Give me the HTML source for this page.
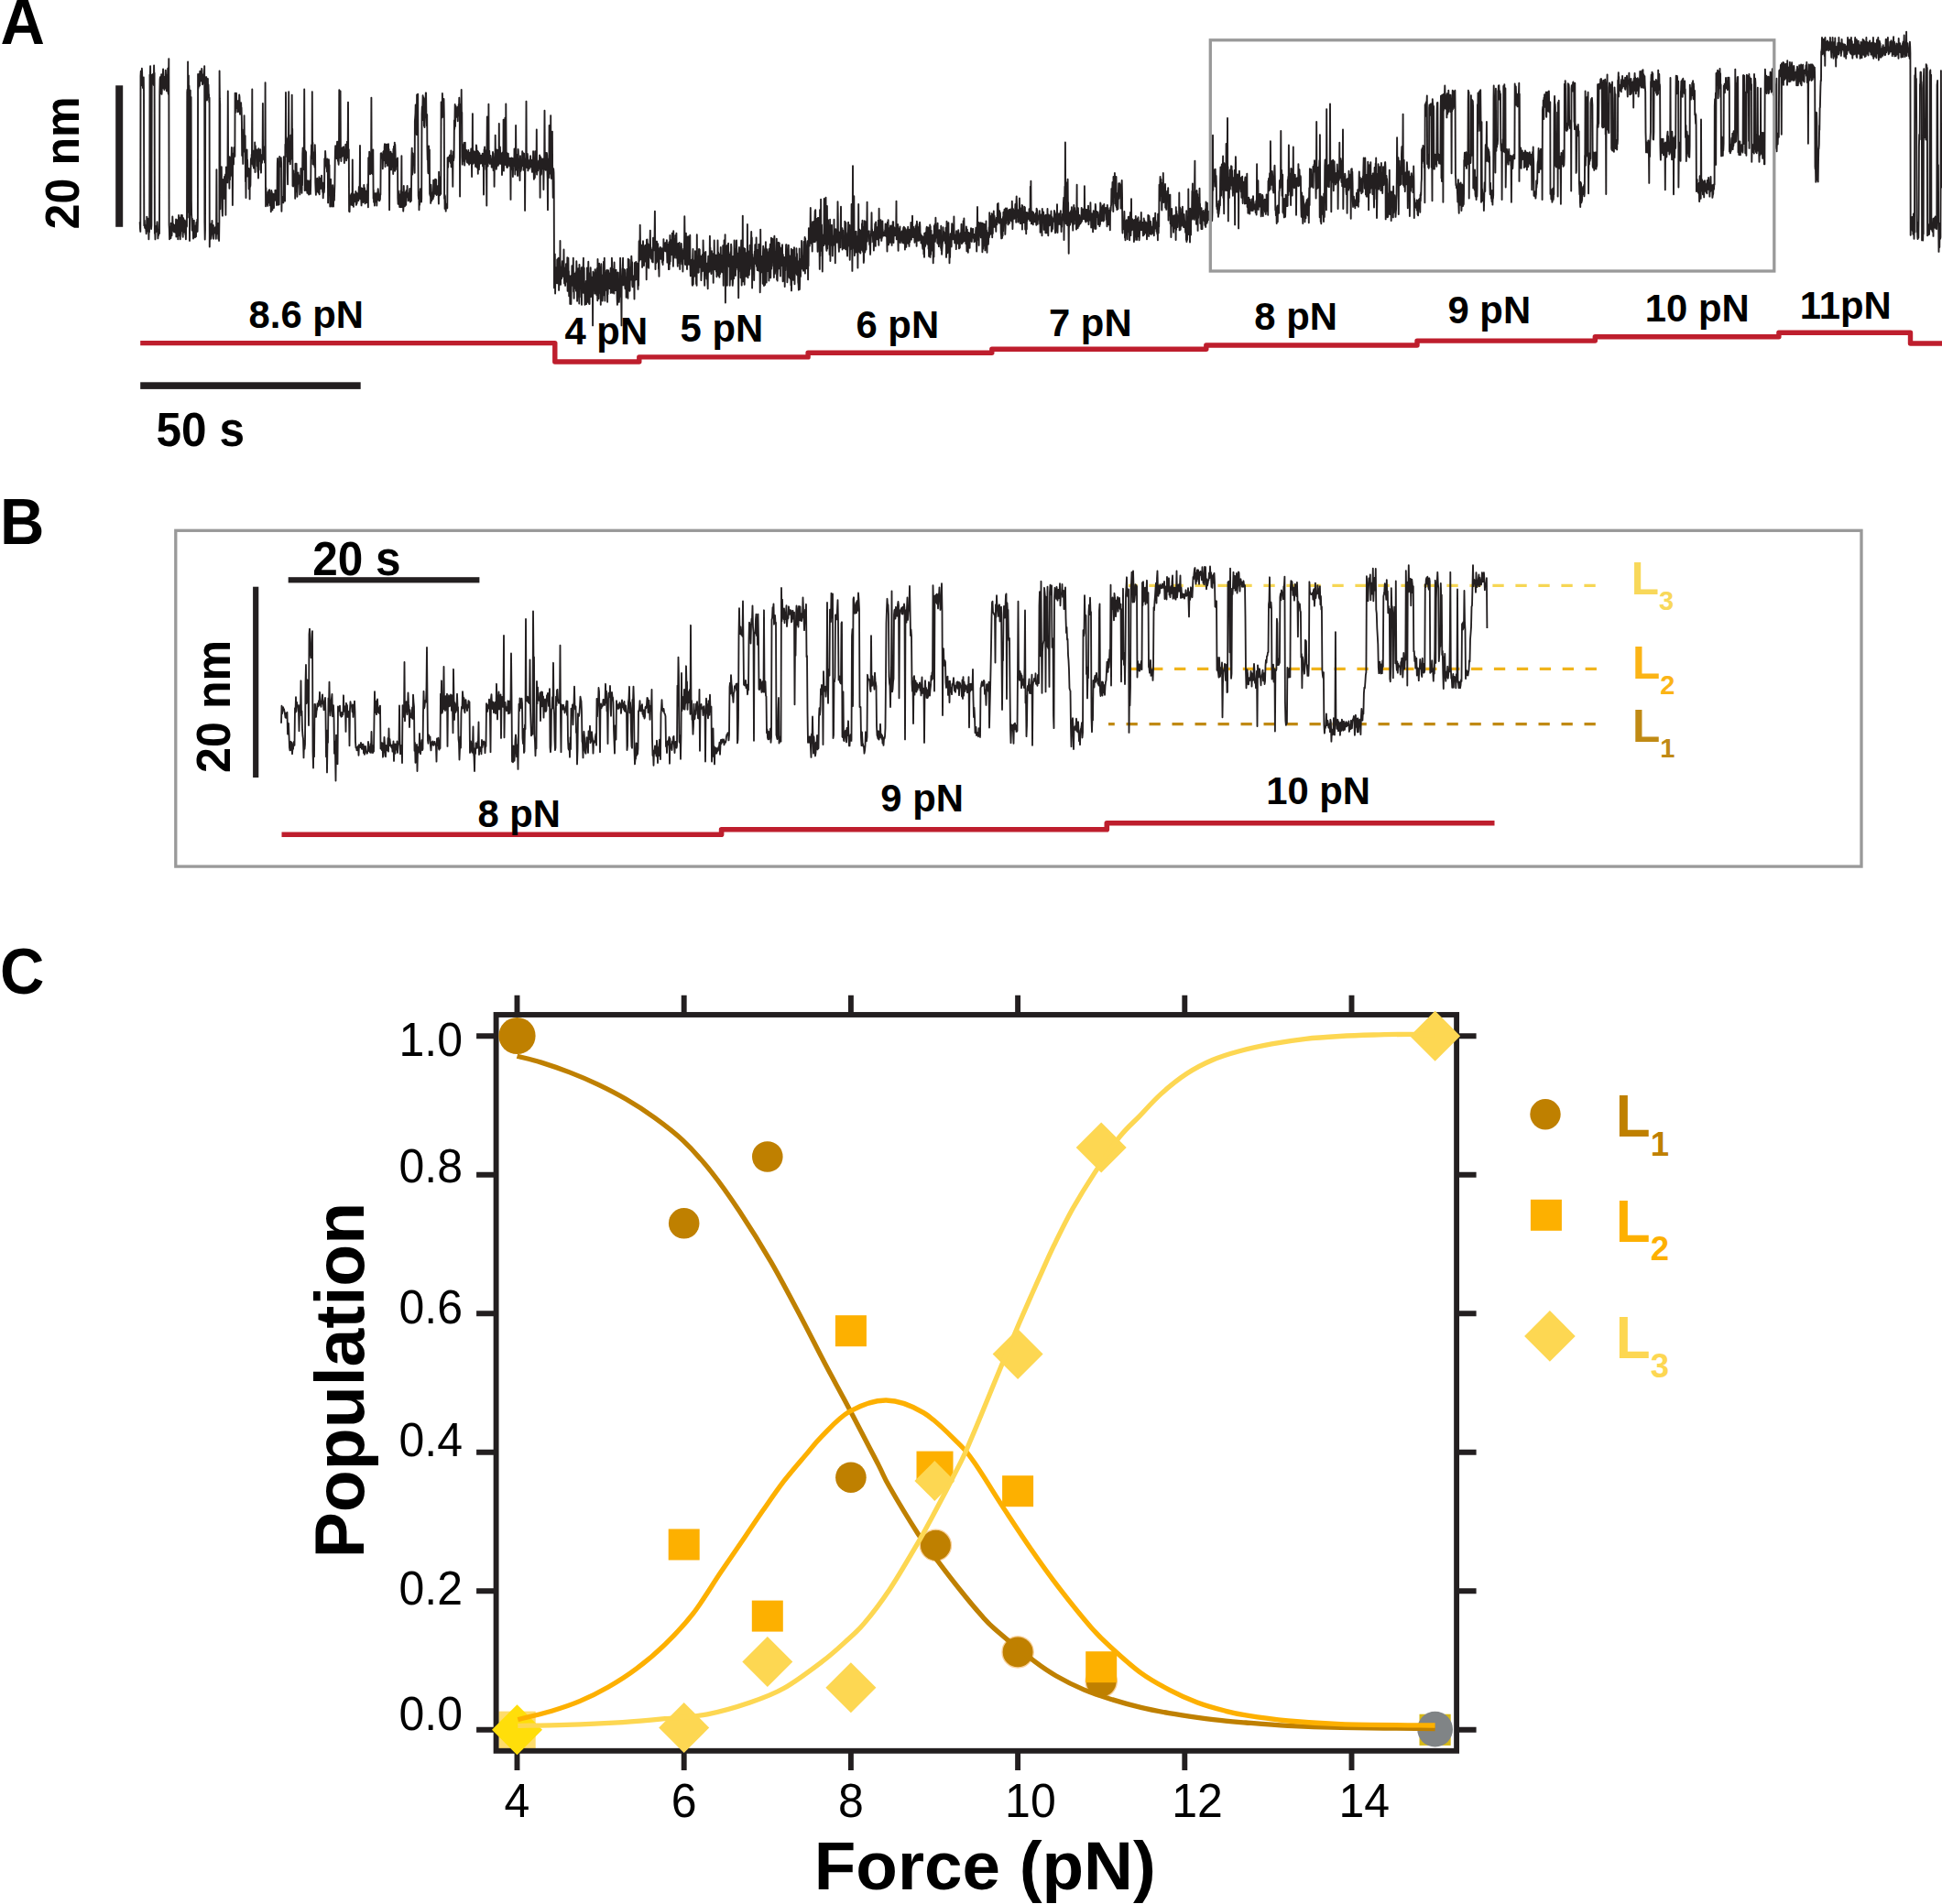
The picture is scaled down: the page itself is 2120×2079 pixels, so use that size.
<!DOCTYPE html>
<html lang="en"><head><meta charset="utf-8"><title>Figure</title>
<style>html,body{margin:0;padding:0;background:#fff}svg{display:block}text{font-family:'Liberation Sans', sans-serif}</style>
</head><body>
<svg width="2120" height="2079" viewBox="0 0 2120 2079">
<rect width="2120" height="2079" fill="#fff"/>
<g id="panelA">
<text transform="translate(0.6 47.6) scale(1 1.040)" font-size="67.0" font-weight="bold" fill="#000" text-anchor="start">A</text>
<rect x="126.2" y="93.3" width="8" height="154.5" fill="#231f20"/>
<text transform="translate(86.2 250.4) rotate(-90) scale(1 1.025)" font-size="50.2" font-weight="bold" fill="#000" text-anchor="start">20 nm</text>
<path d="M152.7 242.2L153.0 250.0L153.3 252.9L153.5 82.9L153.8 77.6L154.1 85.7L154.3 89.2L154.6 93.2L154.9 74.8L155.1 77.8L155.4 90.7L155.7 89.2L156.0 96.0L156.2 92.5L156.5 85.5L156.8 84.4L157.0 99.3L157.3 246.3L157.6 243.1L157.8 240.8L158.1 248.8L158.4 249.1L158.7 245.9L158.9 247.7L159.2 249.9L159.5 252.6L159.7 255.2L160.0 249.5L160.3 236.6L160.5 252.7L160.8 239.0L161.1 247.0L161.4 238.7L161.6 248.2L161.9 243.1L162.2 249.5L162.4 261.3L162.7 247.8L163.0 253.6L163.2 239.6L163.5 81.6L163.8 87.7L164.1 72.1L164.3 85.8L164.6 84.1L164.9 244.9L165.1 250.0L165.4 245.5L165.7 96.8L165.9 81.6L166.2 89.2L166.5 84.8L166.8 90.9L167.0 80.9L167.3 91.2L167.6 84.0L167.8 92.9L168.1 71.4L168.4 85.7L168.6 79.8L168.9 255.0L169.2 252.9L169.5 261.4L169.7 246.8L170.0 253.5L170.3 253.2L170.5 251.5L170.8 251.0L171.1 250.8L171.3 245.2L171.6 242.2L171.9 246.6L172.2 253.8L172.4 260.4L172.7 256.5L173.0 257.1L173.2 255.1L173.5 254.5L173.8 250.8L174.0 255.1L174.3 100.9L174.6 86.6L174.9 84.1L175.1 102.2L175.4 90.5L175.7 95.5L175.9 94.8L176.2 81.1L176.5 102.8L176.7 101.0L177.0 90.0L177.3 94.0L177.5 89.7L177.8 82.8L178.1 75.4L178.4 91.4L178.6 96.4L178.9 93.7L179.2 89.2L179.4 98.1L179.7 83.6L180.0 94.2L180.2 96.4L180.5 86.8L180.8 76.6L181.1 82.6L181.3 90.4L181.6 92.4L181.9 99.4L182.1 82.0L182.4 88.8L182.7 93.3L182.9 87.7L183.2 74.8L183.5 100.9L183.8 102.8L184.0 95.7L184.3 64.1L184.6 245.5L184.8 249.6L185.1 261.3L185.4 252.1L185.6 248.9L185.9 258.2L186.2 247.6L186.5 260.1L186.7 243.7L187.0 245.1L187.3 252.8L187.5 257.3L187.8 252.3L188.1 250.1L188.3 236.4L188.6 243.6L188.9 244.2L189.2 244.7L189.4 251.9L189.7 246.0L190.0 253.2L190.2 248.7L190.5 246.0L190.8 248.9L191.0 250.9L191.3 253.7L191.6 245.1L191.9 246.7L192.1 239.4L192.4 258.5L192.7 257.5L192.9 247.0L193.2 245.1L193.5 240.2L193.7 249.2L194.0 249.5L194.3 261.3L194.6 249.7L194.8 243.1L195.1 235.0L195.4 257.2L195.6 249.4L195.9 237.8L196.2 249.3L196.4 237.8L196.7 261.3L197.0 255.3L197.3 251.8L197.5 247.0L197.8 235.0L198.1 247.3L198.3 238.2L198.6 252.0L198.9 235.0L199.1 242.3L199.4 256.0L199.7 258.7L200.0 240.6L200.2 238.3L200.5 253.8L200.8 253.6L201.0 241.8L201.3 243.7L201.6 243.7L201.8 240.5L202.1 243.8L202.4 256.2L202.6 252.6L202.9 261.3L203.2 247.6L203.5 247.3L203.7 241.8L204.0 247.4L204.3 100.9L204.5 97.9L204.8 237.5L205.1 67.4L205.3 231.9L205.6 117.3L205.9 82.4L206.2 228.0L206.4 93.5L206.7 100.0L207.0 262.9L207.2 220.7L207.5 234.8L207.8 98.8L208.0 234.1L208.3 226.0L208.6 105.9L208.9 218.8L209.1 233.1L209.4 240.2L209.7 251.5L209.9 238.6L210.2 249.4L210.5 252.1L210.7 250.7L211.0 260.5L211.3 249.0L211.6 251.3L211.8 240.6L212.1 258.5L212.4 250.3L212.6 248.7L212.9 259.3L213.2 246.8L213.4 253.3L213.7 252.6L214.0 258.3L214.3 243.0L214.5 242.7L214.8 253.1L215.1 243.7L215.3 239.7L215.6 252.8L215.9 241.1L216.1 81.0L216.4 97.1L216.7 84.6L217.0 94.8L217.2 83.9L217.5 81.4L217.8 80.5L218.0 93.5L218.3 77.7L218.6 82.5L218.8 82.7L219.1 88.5L219.4 86.8L219.7 81.1L219.9 88.2L220.2 74.9L220.5 76.8L220.7 85.8L221.0 92.3L221.3 91.2L221.5 82.2L221.8 81.4L222.1 89.9L222.4 88.2L222.6 88.4L222.9 81.7L223.2 72.1L223.4 242.9L223.7 261.5L224.0 250.5L224.2 99.9L224.5 109.9L224.8 84.2L225.1 94.1L225.3 84.2L225.6 98.1L225.9 105.4L226.1 109.4L226.4 96.7L226.7 93.6L226.9 86.0L227.2 105.9L227.5 92.5L227.8 103.0L228.0 102.9L228.3 111.7L228.6 106.8L228.8 269.6L229.1 247.6L229.4 246.2L229.6 252.7L229.9 246.8L230.2 244.5L230.4 260.7L230.7 258.7L231.0 256.5L231.3 254.1L231.5 240.9L231.8 253.4L232.1 253.3L232.3 249.2L232.6 252.1L232.9 246.0L233.1 260.7L233.4 254.2L233.7 249.3L234.0 250.7L234.2 250.0L234.5 249.5L234.8 250.8L235.0 248.1L235.3 255.0L235.6 249.1L235.8 260.7L236.1 252.7L236.4 185.2L236.7 249.7L236.9 251.4L237.2 243.6L237.5 249.3L237.7 255.5L238.0 248.1L238.3 260.7L238.5 250.8L238.8 243.6L239.1 262.9L239.4 241.6L239.6 77.4L239.9 107.9L240.2 113.7L240.4 228.2L240.7 190.7L241.0 205.3L241.2 206.0L241.5 209.7L241.8 182.2L242.1 208.0L242.3 208.8L242.6 230.2L242.9 235.6L243.1 228.1L243.4 195.9L243.7 196.5L243.9 214.7L244.2 216.2L244.5 198.6L244.8 216.8L245.0 192.9L245.3 201.6L245.6 210.8L245.8 196.1L246.1 190.4L246.4 234.8L246.6 208.2L246.9 182.4L247.2 195.8L247.5 189.7L247.7 195.0L248.0 192.8L248.3 199.4L248.5 183.7L248.8 99.5L249.1 178.8L249.3 180.9L249.6 191.4L249.9 177.1L250.2 186.6L250.4 205.7L250.7 171.2L251.0 196.2L251.2 178.5L251.5 192.8L251.8 190.8L252.0 191.5L252.3 184.6L252.6 174.2L252.9 161.0L253.1 187.9L253.4 182.9L253.7 189.7L253.9 224.0L254.2 179.2L254.5 172.3L254.7 167.4L255.0 179.4L255.3 161.2L255.5 168.4L255.8 166.3L256.1 166.1L256.4 170.9L256.6 101.7L256.9 123.3L257.2 115.6L257.4 118.3L257.7 106.3L258.0 101.8L258.2 111.2L258.5 109.9L258.8 113.3L259.1 116.0L259.3 122.1L259.6 111.3L259.9 112.5L260.1 122.0L260.4 109.7L260.7 111.9L260.9 117.6L261.2 103.5L261.5 106.1L261.8 118.1L262.0 124.8L262.3 115.3L262.6 117.0L262.8 116.9L263.1 112.1L263.4 119.7L263.6 117.6L263.9 132.7L264.2 169.9L264.5 141.4L264.7 155.6L265.0 166.9L265.3 178.9L265.5 165.5L265.8 159.8L266.1 155.8L266.3 162.3L266.6 126.3L266.9 159.0L267.2 165.6L267.4 155.0L267.7 148.3L268.0 198.3L268.2 185.5L268.5 216.0L268.8 174.2L269.0 178.2L269.3 180.2L269.6 163.5L269.9 192.6L270.1 174.5L270.4 185.5L270.7 189.9L270.9 188.8L271.2 192.8L271.5 183.9L271.7 206.3L272.0 184.1L272.3 187.8L272.6 217.4L272.8 188.6L273.1 204.0L273.4 202.0L273.6 186.2L273.9 174.2L274.2 172.6L274.4 178.8L274.7 168.8L275.0 168.6L275.3 97.5L275.5 179.1L275.8 165.1L276.1 177.1L276.3 181.1L276.6 164.8L276.9 183.5L277.1 179.3L277.4 168.8L277.7 173.8L278.0 181.2L278.2 155.4L278.5 188.1L278.8 159.1L279.0 165.3L279.3 168.1L279.6 163.5L279.8 166.4L280.1 171.1L280.4 163.4L280.7 181.3L280.9 180.2L281.2 181.5L281.5 187.9L281.7 175.8L282.0 194.6L282.3 162.3L282.5 168.4L282.8 165.4L283.1 172.8L283.3 172.0L283.6 175.9L283.9 172.7L284.2 163.3L284.4 185.4L284.7 181.4L285.0 188.6L285.2 169.4L285.5 177.2L285.8 172.7L286.0 177.7L286.3 168.7L286.6 172.4L286.9 112.9L287.1 172.0L287.4 173.7L287.7 160.2L287.9 169.5L288.2 171.5L288.5 174.8L288.7 161.3L289.0 177.6L289.3 173.7L289.6 90.2L289.8 171.3L290.1 225.2L290.4 205.1L290.6 217.0L290.9 216.7L291.2 216.5L291.4 217.0L291.7 223.2L292.0 212.5L292.3 224.9L292.5 209.8L292.8 221.8L293.1 219.2L293.3 214.6L293.6 207.6L293.9 220.9L294.1 207.1L294.4 214.1L294.7 224.2L295.0 215.4L295.2 224.0L295.5 214.7L295.8 231.3L296.0 214.7L296.3 207.9L296.6 214.8L296.8 209.7L297.1 221.0L297.4 229.4L297.7 224.5L297.9 214.0L298.2 225.6L298.5 211.7L298.7 218.0L299.0 227.0L299.3 212.8L299.5 217.3L299.8 215.7L300.1 218.7L300.4 207.8L300.6 212.4L300.9 211.9L301.2 216.4L301.4 215.2L301.7 214.5L302.0 224.0L302.2 207.3L302.5 211.7L302.8 178.7L303.1 172.9L303.3 217.2L303.6 217.8L303.9 223.7L304.1 214.9L304.4 218.3L304.7 223.3L304.9 180.8L305.2 171.0L305.5 179.6L305.8 174.0L306.0 181.9L306.3 177.5L306.6 181.1L306.8 172.2L307.1 178.2L307.4 230.7L307.6 217.3L307.9 220.0L308.2 217.5L308.4 215.2L308.7 219.0L309.0 217.1L309.3 221.4L309.5 218.4L309.8 171.1L310.1 173.7L310.3 179.7L310.6 181.2L310.9 171.8L311.1 219.5L311.4 157.7L311.7 171.2L312.0 100.9L312.2 149.5L312.5 149.5L312.8 154.5L313.0 164.0L313.3 156.0L313.6 164.0L313.8 188.5L314.1 201.3L314.4 151.3L314.7 167.9L314.9 164.8L315.2 100.2L315.5 176.4L315.7 159.8L316.0 159.9L316.3 159.3L316.5 162.6L316.8 179.3L317.1 173.2L317.4 147.6L317.6 158.5L317.9 154.2L318.2 173.6L318.4 166.5L318.7 103.6L319.0 163.1L319.2 140.8L319.5 203.0L319.8 200.8L320.1 203.5L320.3 186.1L320.6 199.4L320.9 192.0L321.1 192.0L321.4 202.0L321.7 202.0L321.9 190.0L322.2 216.7L322.5 178.8L322.8 193.1L323.0 209.4L323.3 198.1L323.6 178.8L323.8 190.3L324.1 202.7L324.4 214.7L324.6 209.9L324.9 202.1L325.2 200.5L325.5 188.4L325.7 194.3L326.0 195.4L326.3 191.1L326.5 199.2L326.8 194.8L327.1 201.9L327.3 212.4L327.6 205.8L327.9 202.6L328.2 196.3L328.4 184.0L328.7 197.5L329.0 203.8L329.2 188.9L329.5 210.7L329.8 195.4L330.0 202.2L330.3 168.1L330.6 161.4L330.9 185.3L331.1 162.1L331.4 177.1L331.7 166.5L331.9 172.5L332.2 97.5L332.5 167.5L332.7 208.0L333.0 184.6L333.3 164.4L333.6 170.6L333.8 177.3L334.1 165.9L334.4 208.0L334.6 199.6L334.9 207.4L335.2 206.4L335.4 210.8L335.7 206.0L336.0 197.3L336.2 207.7L336.5 197.8L336.8 208.2L337.1 212.5L337.3 207.3L337.6 200.9L337.9 210.7L338.1 204.9L338.4 197.0L338.7 202.0L338.9 211.9L339.2 202.3L339.5 171.4L339.8 168.0L340.0 158.3L340.3 166.8L340.6 173.1L340.8 100.2L341.1 169.2L341.4 155.7L341.6 179.3L341.9 175.7L342.2 177.9L342.5 179.9L342.7 167.3L343.0 166.1L343.3 172.8L343.5 182.6L343.8 158.3L344.1 168.8L344.3 199.7L344.6 207.3L344.9 212.8L345.2 202.2L345.4 196.5L345.7 204.3L346.0 202.2L346.2 194.7L346.5 209.3L346.8 200.8L347.0 208.1L347.3 196.0L347.6 210.6L347.9 195.3L348.1 210.3L348.4 193.1L348.7 212.3L348.9 201.7L349.2 194.6L349.5 202.5L349.7 206.0L350.0 198.0L350.3 201.0L350.6 205.6L350.8 202.9L351.1 191.6L351.4 201.4L351.6 206.5L351.9 205.8L352.2 210.0L352.4 199.8L352.7 216.3L353.0 208.8L353.3 205.8L353.5 210.5L353.8 209.7L354.1 204.6L354.3 173.2L354.6 183.8L354.9 179.9L355.1 165.0L355.4 170.1L355.7 180.2L356.0 177.9L356.2 179.0L356.5 181.3L356.8 178.1L357.0 187.4L357.3 173.4L357.6 174.6L357.8 179.3L358.1 221.4L358.4 182.2L358.7 186.7L358.9 174.1L359.2 184.7L359.5 180.2L359.7 203.1L360.0 209.7L360.3 225.5L360.5 216.3L360.8 207.3L361.1 195.8L361.3 205.3L361.6 205.6L361.9 211.2L362.2 225.5L362.4 216.1L362.7 212.9L363.0 222.7L363.2 202.1L363.5 209.2L363.8 207.3L364.0 225.5L364.3 207.7L364.6 206.2L364.9 218.8L365.1 211.2L365.4 201.7L365.7 176.1L365.9 165.8L366.2 159.3L366.5 169.9L366.7 171.0L367.0 165.6L367.3 172.3L367.6 173.1L367.8 162.1L368.1 154.6L368.4 154.6L368.6 167.0L368.9 175.7L369.2 174.3L369.4 176.8L369.7 179.7L370.0 167.9L370.3 98.2L370.5 158.0L370.8 172.2L371.1 170.3L371.3 167.2L371.6 99.5L371.9 160.6L372.1 168.7L372.4 176.0L372.7 165.5L373.0 171.2L373.2 163.5L373.5 169.4L373.8 161.3L374.0 170.2L374.3 166.4L374.6 169.8L374.8 163.9L375.1 160.3L375.4 165.7L375.7 174.5L375.9 178.0L376.2 165.7L376.5 173.0L376.7 172.7L377.0 170.3L377.3 157.8L377.5 169.9L377.8 161.6L378.1 175.4L378.4 172.9L378.6 171.8L378.9 154.6L379.2 171.8L379.4 172.3L379.7 159.6L380.0 111.6L380.2 168.3L380.5 166.6L380.8 163.2L381.1 230.7L381.3 215.2L381.6 231.2L381.9 219.3L382.1 219.4L382.4 213.9L382.7 214.1L382.9 214.5L383.2 212.3L383.5 223.6L383.8 216.3L384.0 223.6L384.3 210.6L384.6 224.0L384.8 174.5L385.1 222.3L385.4 217.4L385.6 212.3L385.9 225.8L386.2 215.2L386.5 217.1L386.7 212.3L387.0 219.3L387.3 215.5L387.5 219.8L387.8 220.2L388.1 213.6L388.3 209.0L388.6 220.8L388.9 223.9L389.1 222.5L389.4 210.7L389.7 221.9L390.0 215.6L390.3 215.0L390.5 215.9L390.8 211.1L391.1 214.6L391.4 219.1L391.6 209.9L391.9 203.9L392.2 212.5L392.4 214.4L392.7 201.3L393.0 158.9L393.2 217.0L393.5 212.2L393.8 213.8L394.1 205.1L394.3 219.0L394.6 224.4L394.9 211.9L395.1 208.5L395.4 205.7L395.7 218.9L395.9 213.8L396.2 208.1L396.5 221.0L396.8 218.1L397.0 217.0L397.3 201.9L397.6 212.5L397.8 217.2L398.1 205.3L398.4 219.1L398.6 222.4L398.9 219.8L399.2 208.5L399.5 208.6L399.7 219.2L400.0 219.6L400.3 221.1L400.5 220.9L400.8 212.5L401.1 210.5L401.3 201.2L401.6 218.2L401.9 226.3L402.2 172.3L402.4 172.2L402.7 180.4L403.0 178.4L403.2 165.8L403.5 170.5L403.8 167.7L404.0 190.3L404.3 170.5L404.6 181.9L404.9 189.5L405.1 189.4L405.4 106.7L405.7 187.5L405.9 166.8L406.2 173.2L406.5 170.4L406.7 173.6L407.0 190.5L407.3 163.5L407.6 216.8L407.8 207.4L408.1 220.8L408.4 220.6L408.6 211.2L408.9 224.5L409.2 214.2L409.4 220.6L409.7 215.5L410.0 210.9L410.3 211.9L410.5 213.2L410.8 217.1L411.1 214.5L411.3 224.5L411.6 212.8L411.9 211.4L412.1 210.1L412.4 209.8L412.7 206.3L413.0 208.7L413.2 218.6L413.5 214.2L413.8 212.9L414.0 215.7L414.3 219.4L414.6 217.1L414.9 217.9L415.1 210.9L415.4 212.5L415.7 167.4L415.9 172.9L416.2 167.1L416.5 170.7L416.7 172.3L417.0 171.9L417.3 171.5L417.6 169.7L417.8 184.2L418.1 170.9L418.4 165.6L418.6 175.2L418.9 164.9L419.2 165.1L419.4 174.4L419.7 160.3L420.0 157.2L420.3 176.0L420.5 182.0L420.8 160.3L421.1 166.5L421.3 178.3L421.6 157.7L421.9 166.7L422.1 164.0L422.4 172.1L422.7 157.8L423.0 180.9L423.2 172.5L423.5 176.1L423.8 171.0L424.0 157.2L424.3 172.5L424.6 162.9L424.8 173.8L425.1 229.2L425.4 171.1L425.7 172.0L425.9 179.9L426.2 179.8L426.5 165.6L426.7 173.5L427.0 185.4L427.3 177.6L427.5 167.8L427.8 172.7L428.1 170.9L428.4 181.2L428.6 173.9L428.9 176.7L429.2 190.1L429.4 162.6L429.7 165.5L430.0 159.8L430.2 160.9L430.5 180.6L430.8 155.6L431.1 186.8L431.3 157.8L431.6 166.6L431.9 185.3L432.1 181.9L432.4 180.8L432.7 180.7L432.9 173.9L433.2 173.6L433.5 173.9L433.8 180.4L434.0 172.4L434.3 216.3L434.6 222.7L434.8 208.2L435.1 210.3L435.4 217.7L435.7 213.0L435.9 213.6L436.2 226.0L436.5 216.8L436.7 212.2L437.0 220.7L437.3 226.0L437.5 208.3L437.8 210.7L438.1 215.2L438.4 170.3L438.6 226.0L438.9 217.5L439.2 212.3L439.4 217.3L439.7 210.0L440.0 211.1L440.2 230.6L440.5 226.0L440.8 203.0L441.1 216.9L441.3 222.1L441.6 218.7L441.9 225.3L442.1 217.0L442.4 215.3L442.7 213.8L442.9 209.7L443.2 223.7L443.5 207.9L443.8 213.8L444.0 211.6L444.3 210.1L444.6 203.0L444.8 212.4L445.1 215.3L445.4 215.3L445.6 219.3L445.9 213.6L446.2 210.9L446.5 216.2L446.7 218.3L447.0 209.4L447.3 206.0L447.5 208.7L447.8 220.5L448.1 220.1L448.3 209.5L448.6 215.1L448.9 219.2L449.2 185.3L449.4 170.9L449.7 161.6L450.0 185.9L450.2 190.5L450.5 186.7L450.8 167.4L451.0 178.9L451.3 173.5L451.6 175.3L451.9 170.9L452.1 172.2L452.4 175.6L452.7 188.7L452.9 131.9L453.2 128.6L453.5 123.8L453.7 114.4L454.0 120.7L454.3 138.4L454.6 133.5L454.8 147.1L455.1 103.4L455.4 123.2L455.6 104.0L455.9 128.3L456.2 102.7L456.4 141.8L456.7 213.6L457.0 217.2L457.3 209.6L457.5 229.2L457.8 212.0L458.1 223.6L458.3 218.6L458.6 210.6L458.9 206.3L459.2 216.8L459.4 214.5L459.7 210.9L460.0 220.5L460.2 216.1L460.5 124.8L460.8 116.4L461.0 116.6L461.3 117.9L461.6 104.2L461.9 131.1L462.1 128.3L462.4 106.1L462.7 124.7L462.9 137.4L463.2 126.3L463.5 139.1L463.7 120.2L464.0 123.5L464.3 107.8L464.6 112.6L464.8 101.5L465.1 101.4L465.4 126.4L465.6 129.7L465.9 137.5L466.2 125.0L466.4 160.8L466.7 174.5L467.0 168.9L467.3 187.5L467.5 189.2L467.8 179.6L468.1 159.4L468.3 165.3L468.6 172.2L468.9 163.5L469.1 211.6L469.4 212.8L469.7 213.9L470.0 209.5L470.2 221.9L470.5 201.7L470.8 206.9L471.0 217.4L471.3 219.2L471.6 214.9L471.8 210.4L472.1 212.7L472.4 213.8L472.7 217.2L472.9 214.0L473.2 196.7L473.5 214.7L473.7 210.6L474.0 204.5L474.3 211.6L474.5 209.9L474.8 207.4L475.1 195.6L475.4 208.6L475.6 211.8L475.9 207.5L476.2 196.3L476.4 211.1L476.7 213.0L477.0 209.1L477.2 210.9L477.5 205.3L477.8 203.1L478.1 211.6L478.3 205.3L478.6 209.1L478.9 222.6L479.1 187.7L479.4 208.8L479.7 196.1L479.9 208.5L480.2 213.3L480.5 202.7L480.8 206.1L481.0 193.0L481.3 211.8L481.6 111.5L481.8 122.8L482.1 128.8L482.4 115.3L482.7 125.5L482.9 102.0L483.2 115.0L483.5 114.3L483.7 109.3L484.0 128.1L484.3 124.6L484.5 107.9L484.8 124.2L485.1 217.1L485.4 212.7L485.6 227.9L485.9 214.0L486.2 227.9L486.4 222.3L486.7 230.6L487.0 224.1L487.2 227.7L487.5 223.2L487.8 224.5L488.1 222.6L488.3 227.4L488.6 172.1L488.9 180.1L489.1 182.8L489.4 174.0L489.7 176.8L489.9 171.5L490.2 172.7L490.5 175.8L490.8 172.4L491.0 169.4L491.3 174.2L491.6 175.4L491.8 176.2L492.1 178.3L492.4 164.4L492.6 182.3L492.9 173.4L493.2 170.0L493.5 172.3L493.7 176.8L494.0 179.2L494.3 203.8L494.5 175.2L494.8 165.4L495.1 175.3L495.3 173.7L495.6 171.9L495.9 131.4L496.2 140.9L496.4 132.9L496.7 114.0L497.0 138.1L497.2 118.6L497.5 121.7L497.8 116.1L498.0 126.9L498.3 127.9L498.6 123.6L498.9 119.9L499.1 120.6L499.4 117.9L499.7 132.3L499.9 116.7L500.2 120.6L500.5 119.9L500.7 114.3L501.0 119.8L501.3 106.8L501.6 126.4L501.8 127.8L502.1 214.5L502.4 138.3L502.6 113.6L502.9 127.9L503.2 127.1L503.5 116.6L503.7 98.0L504.0 131.4L504.3 122.8L504.5 171.7L504.8 179.6L505.1 171.3L505.3 158.0L505.6 164.6L505.9 175.7L506.2 169.0L506.4 162.3L506.7 156.0L507.0 172.3L507.2 180.6L507.5 161.2L507.8 155.6L508.0 173.6L508.3 166.3L508.6 168.1L508.9 167.9L509.1 163.9L509.4 173.4L509.7 176.8L509.9 172.9L510.2 166.5L510.5 177.7L510.7 169.7L511.0 174.6L511.3 164.0L511.6 175.2L511.8 175.8L512.1 179.7L512.4 170.9L512.6 173.8L512.9 166.7L513.2 177.0L513.4 176.3L513.7 178.4L514.0 168.2L514.3 162.4L514.5 170.5L514.8 169.5L515.1 193.1L515.3 175.3L515.6 177.7L515.9 124.1L516.1 178.9L516.4 174.0L516.7 164.4L517.0 167.2L517.2 168.8L517.5 176.1L517.8 177.8L518.0 172.4L518.3 178.5L518.6 165.7L518.8 170.7L519.1 182.0L519.4 174.7L519.7 178.9L519.9 158.5L520.2 160.0L520.5 165.7L520.7 178.8L521.0 183.1L521.3 167.5L521.5 165.0L521.8 189.7L522.1 165.7L522.4 175.8L522.6 169.8L522.9 185.1L523.2 177.1L523.4 167.3L523.7 173.8L524.0 171.1L524.2 177.7L524.5 178.6L524.8 169.8L525.1 178.5L525.3 176.3L525.6 171.8L525.9 174.2L526.1 177.2L526.4 170.3L526.7 167.8L527.0 181.4L527.2 172.6L527.5 168.5L527.8 175.9L528.0 212.5L528.3 173.1L528.6 163.3L528.8 169.8L529.1 160.4L529.4 167.9L529.7 179.1L529.9 171.7L530.2 164.5L530.5 185.1L530.7 168.7L531.0 183.4L531.3 224.6L531.5 163.0L531.8 127.5L532.1 170.2L532.4 178.5L532.6 181.6L532.9 164.2L533.2 173.9L533.4 113.8L533.7 177.6L534.0 173.4L534.2 164.7L534.5 173.9L534.8 178.9L535.1 171.6L535.3 177.5L535.6 170.0L535.9 173.3L536.1 176.2L536.4 174.8L536.7 182.6L536.9 180.4L537.2 179.7L537.5 178.9L537.8 175.0L538.0 165.9L538.3 181.4L538.6 186.1L538.8 175.6L539.1 172.4L539.4 173.9L539.6 203.8L539.9 176.2L540.2 167.5L540.5 173.1L540.7 147.6L541.0 173.0L541.3 168.2L541.5 168.4L541.8 184.7L542.1 181.8L542.3 163.4L542.6 167.8L542.9 171.5L543.2 172.0L543.4 165.1L543.7 180.9L544.0 163.6L544.2 179.6L544.5 179.6L544.8 134.9L545.0 170.4L545.3 175.3L545.6 176.0L545.9 160.5L546.1 166.4L546.4 178.7L546.7 174.3L546.9 172.3L547.2 168.3L547.5 170.3L547.8 170.0L548.0 191.1L548.3 166.6L548.6 185.9L548.8 178.7L549.1 176.9L549.4 176.8L549.6 130.8L549.9 186.6L550.2 179.1L550.5 175.4L550.7 174.8L551.0 177.0L551.3 128.8L551.5 173.5L551.8 171.4L552.1 180.1L552.3 113.4L552.6 163.0L552.9 174.4L553.2 182.8L553.4 167.0L553.7 167.8L554.0 182.9L554.2 175.2L554.5 173.0L554.8 167.7L555.0 177.3L555.3 172.4L555.6 177.7L555.9 179.2L556.1 181.2L556.4 174.1L556.7 172.7L556.9 176.6L557.2 175.8L557.5 217.9L557.7 172.8L558.0 174.9L558.3 172.5L558.6 172.5L558.8 177.7L559.1 184.7L559.4 173.0L559.6 180.8L559.9 193.1L560.2 177.6L560.4 181.5L560.7 173.0L561.0 180.8L561.3 179.0L561.5 162.4L561.8 179.5L562.1 181.2L562.3 190.6L562.6 169.8L562.9 177.8L563.1 136.9L563.4 170.5L563.7 185.6L564.0 180.4L564.2 171.8L564.5 169.1L564.8 174.5L565.0 191.9L565.3 191.9L565.6 163.0L565.8 164.9L566.1 182.2L566.4 176.9L566.7 173.2L566.9 181.9L567.2 178.4L567.5 197.1L567.7 179.6L568.0 170.3L568.3 187.0L568.5 174.7L568.8 185.8L569.1 182.7L569.4 178.3L569.6 179.0L569.9 177.7L570.2 165.3L570.4 175.9L570.7 181.1L571.0 167.0L571.3 167.9L571.5 185.7L571.8 183.9L572.1 167.6L572.3 181.6L572.6 178.1L572.9 185.2L573.1 229.9L573.4 177.0L573.7 173.3L574.0 179.8L574.2 177.7L574.5 110.8L574.8 176.3L575.0 173.5L575.3 183.1L575.6 171.6L575.8 168.0L576.1 172.1L576.4 186.4L576.7 175.4L576.9 183.4L577.2 184.1L577.5 175.5L577.7 184.3L578.0 182.6L578.3 178.8L578.5 174.2L578.8 178.8L579.1 170.3L579.4 177.3L579.6 175.2L579.9 182.4L580.2 181.7L580.4 174.9L580.7 185.4L581.0 187.8L581.2 179.9L581.5 174.4L581.8 183.1L582.1 165.1L582.3 175.6L582.6 183.7L582.9 195.8L583.1 174.6L583.4 190.4L583.7 194.3L583.9 193.0L584.2 165.3L584.5 187.6L584.8 181.3L585.0 187.0L585.3 178.8L585.6 175.7L585.8 141.5L586.1 190.6L586.4 186.0L586.6 178.1L586.9 182.9L587.2 186.3L587.5 184.2L587.7 180.0L588.0 175.7L588.3 175.2L588.5 177.4L588.8 176.6L589.1 169.4L589.3 170.6L589.6 215.8L589.9 172.7L590.2 171.4L590.4 180.3L590.7 190.8L591.0 189.5L591.2 177.9L591.5 173.5L591.8 177.1L592.0 174.5L592.3 177.0L592.6 184.3L592.9 173.5L593.1 175.5L593.4 207.1L593.7 180.9L593.9 175.7L594.2 175.6L594.5 120.8L594.8 175.9L595.0 184.9L595.3 179.6L595.6 166.8L595.8 185.7L596.1 180.9L596.4 175.3L596.6 179.6L596.9 167.0L597.2 169.9L597.5 189.7L597.7 196.0L598.0 229.2L598.3 176.5L598.5 181.9L598.8 187.2L599.1 173.1L599.3 194.0L599.6 136.9L599.9 184.3L600.2 173.8L600.4 184.5L600.7 181.8L601.0 189.6L601.2 126.1L601.5 182.0L601.8 194.9L602.0 173.7L602.3 184.6L602.6 185.3L602.9 143.6L603.1 180.4L603.4 192.3L603.7 215.8L603.9 186.4L604.2 184.3L604.5 188.0L604.7 197.8L605.0 314.4L605.3 307.3L605.5 284.1L605.8 277.4L606.1 320.6L606.3 298.7L606.6 291.9L606.9 294.2L607.2 300.5L607.4 305.8L607.7 299.2L608.0 309.2L608.2 283.4L608.5 301.7L608.8 301.3L609.0 282.8L609.3 309.2L609.6 281.7L609.9 283.2L610.1 316.9L610.4 309.6L610.7 300.8L610.9 310.2L611.2 308.2L611.5 263.0L611.7 301.8L612.0 310.7L612.3 295.6L612.6 297.9L612.8 292.7L613.1 304.2L613.4 291.8L613.6 291.5L613.9 285.3L614.2 288.2L614.4 299.3L614.7 301.7L615.0 293.4L615.3 287.0L615.5 272.4L615.8 300.6L616.1 309.5L616.3 292.4L616.6 293.2L616.9 302.1L617.1 311.9L617.4 296.7L617.7 296.4L618.0 288.1L618.2 293.5L618.5 306.3L618.8 305.4L619.0 308.0L619.3 281.3L619.6 317.7L619.8 295.6L620.1 314.6L620.4 281.7L620.7 306.0L620.9 296.1L621.2 323.2L621.5 308.7L621.7 323.5L622.0 301.7L622.3 331.9L622.5 301.6L622.8 331.0L623.1 301.1L623.4 332.0L623.6 318.5L623.9 302.2L624.2 306.5L624.4 290.3L624.7 302.9L625.0 308.6L625.3 298.3L625.5 312.1L625.8 281.7L626.1 318.4L626.3 302.1L626.6 325.7L626.9 302.8L627.1 299.0L627.4 301.6L627.7 310.7L628.0 314.7L628.2 301.4L628.5 297.2L628.8 312.6L629.0 317.6L629.3 285.3L629.6 294.0L629.8 298.7L630.1 328.7L630.4 322.7L630.7 317.2L630.9 313.4L631.2 293.1L631.5 321.3L631.7 301.6L632.0 297.2L632.3 331.6L632.5 289.0L632.8 324.6L633.1 309.8L633.4 295.6L633.6 309.5L633.9 296.6L634.2 309.6L634.4 299.1L634.7 292.3L635.0 332.7L635.2 300.9L635.5 319.7L635.8 306.6L636.1 315.7L636.3 291.3L636.6 294.1L636.9 281.7L637.1 319.9L637.4 312.8L637.7 292.4L637.9 317.8L638.2 314.7L638.5 332.7L638.8 310.2L639.0 318.8L639.3 315.0L639.6 316.9L639.8 306.9L640.1 332.0L640.4 316.2L640.6 322.8L640.9 292.5L641.2 292.9L641.5 306.7L641.7 329.9L642.0 304.6L642.3 285.8L642.5 317.4L642.8 316.8L643.1 331.7L643.3 309.6L643.6 332.1L643.9 298.1L644.2 318.6L644.4 308.9L644.7 292.2L645.0 303.8L645.2 324.0L645.5 321.3L645.8 302.5L646.0 321.2L646.3 318.6L646.6 318.6L646.9 310.9L647.1 355.4L647.4 296.8L647.7 306.4L647.9 308.8L648.2 298.0L648.5 303.6L648.7 309.3L649.0 309.9L649.3 320.6L649.6 294.3L649.8 302.3L650.1 310.6L650.4 302.5L650.6 311.4L650.9 301.3L651.2 322.1L651.4 304.4L651.7 292.9L652.0 316.7L652.3 328.2L652.5 283.0L652.8 305.6L653.1 308.1L653.3 320.3L653.6 326.1L653.9 305.3L654.1 287.6L654.4 315.7L654.7 319.9L655.0 313.1L655.2 308.3L655.5 297.0L655.8 332.7L656.0 292.2L656.3 288.3L656.6 319.6L656.8 310.9L657.1 315.7L657.4 311.8L657.7 328.5L657.9 325.2L658.2 300.3L658.5 319.9L658.7 292.5L659.0 285.8L659.3 322.4L659.5 301.9L659.8 281.7L660.1 307.0L660.4 328.6L660.6 313.7L660.9 306.5L661.2 297.6L661.4 298.3L661.7 316.9L662.0 295.6L662.3 308.9L662.5 294.8L662.8 313.0L663.1 329.7L663.3 314.4L663.6 321.3L663.9 313.0L664.1 295.2L664.4 303.5L664.7 308.2L665.0 312.8L665.2 299.7L665.5 315.0L665.8 298.2L666.0 308.1L666.3 307.1L666.6 292.8L666.8 319.9L667.1 307.9L667.4 308.6L667.7 306.9L667.9 281.7L668.2 289.6L668.5 296.0L668.7 319.8L669.0 300.0L669.3 314.9L669.5 294.3L669.8 296.7L670.1 301.4L670.4 320.6L670.6 286.5L670.9 305.1L671.2 312.4L671.4 309.0L671.7 307.1L672.0 317.1L672.2 310.9L672.5 294.6L672.8 315.2L673.1 297.5L673.3 303.0L673.6 325.5L673.9 332.7L674.1 325.5L674.4 312.6L674.7 297.5L674.9 297.7L675.2 328.2L675.5 311.4L675.8 329.9L676.0 327.0L676.3 314.6L676.6 323.8L676.8 312.4L677.1 281.7L677.4 298.0L677.6 305.5L677.9 305.2L678.2 326.3L678.5 355.4L678.7 306.0L679.0 306.6L679.3 306.1L679.5 294.3L679.8 291.9L680.1 281.7L680.3 311.4L680.6 304.7L680.9 309.8L681.2 294.0L681.4 307.3L681.7 295.1L682.0 294.6L682.2 311.5L682.5 315.3L682.8 314.6L683.0 306.7L683.3 302.4L683.6 324.8L683.9 318.9L684.1 298.9L684.4 293.9L684.7 309.0L684.9 308.2L685.2 295.0L685.5 325.7L685.7 282.6L686.0 295.1L686.3 306.2L686.6 313.8L686.8 283.6L687.1 298.3L687.4 317.7L687.6 317.2L687.9 299.5L688.2 302.3L688.4 292.3L688.7 305.6L689.0 290.1L689.3 279.6L689.5 284.7L689.8 301.0L690.1 286.3L690.3 311.6L690.6 313.2L690.9 310.0L691.1 306.1L691.4 310.9L691.7 301.5L692.0 307.6L692.2 303.2L692.5 326.6L692.8 287.1L693.0 290.6L693.3 286.8L693.6 305.8L693.8 302.1L694.1 288.3L694.4 285.9L694.7 290.0L694.9 305.0L695.2 294.4L695.5 292.8L695.7 287.8L696.0 293.6L696.3 311.4L696.5 315.9L696.8 290.4L697.1 311.7L697.4 281.4L697.6 263.4L697.9 285.0L698.2 262.2L698.4 279.9L698.7 245.6L699.0 264.8L699.3 283.4L699.5 268.7L699.8 267.4L700.1 275.0L700.3 274.5L700.6 269.9L700.9 267.9L701.1 291.9L701.4 289.0L701.7 277.6L702.0 263.3L702.2 269.3L702.5 271.6L702.8 279.2L703.0 290.0L703.3 269.4L703.6 275.9L703.8 270.3L704.1 275.8L704.4 267.8L704.7 278.1L704.9 285.7L705.2 270.6L705.5 271.3L705.7 305.2L706.0 261.7L706.3 292.0L706.5 261.5L706.8 271.0L707.1 265.9L707.4 289.0L707.6 269.7L707.9 269.6L708.2 292.8L708.4 273.3L708.7 266.9L709.0 274.4L709.2 276.3L709.5 267.2L709.8 251.6L710.1 272.4L710.3 281.5L710.6 281.9L710.9 282.6L711.1 273.3L711.4 282.2L711.7 272.4L711.9 285.7L712.2 278.4L712.5 270.3L712.8 286.4L713.0 259.8L713.3 265.1L713.6 266.7L713.8 273.2L714.1 262.5L714.4 262.8L714.6 256.1L714.9 230.6L715.2 267.0L715.5 294.1L715.7 282.0L716.0 263.4L716.3 287.3L716.5 275.5L716.8 284.9L717.1 263.7L717.3 285.7L717.6 285.1L717.9 270.4L718.2 266.2L718.4 270.8L718.7 277.0L719.0 294.1L719.2 292.0L719.5 301.8L719.8 272.3L720.0 271.3L720.3 278.0L720.6 271.8L720.9 269.9L721.1 272.4L721.4 282.7L721.7 273.8L721.9 276.8L722.2 271.9L722.5 272.6L722.7 271.3L723.0 286.7L723.3 276.7L723.6 289.0L723.8 272.8L724.1 284.8L724.4 261.1L724.6 270.6L724.9 273.9L725.2 268.3L725.4 273.3L725.7 265.5L726.0 272.9L726.3 268.0L726.5 274.4L726.8 271.6L727.1 264.8L727.3 270.5L727.6 274.7L727.9 262.1L728.1 275.4L728.4 286.6L728.7 272.3L729.0 279.8L729.2 280.5L729.5 266.7L729.8 287.3L730.0 294.1L730.3 264.5L730.6 294.1L730.8 267.6L731.1 288.6L731.4 256.9L731.7 285.5L731.9 275.8L732.2 262.0L732.5 266.5L732.7 264.3L733.0 265.7L733.3 278.1L733.5 272.7L733.8 254.6L734.1 271.4L734.4 279.0L734.6 275.3L734.9 290.8L735.2 252.3L735.4 276.8L735.7 274.8L736.0 281.5L736.3 261.5L736.5 261.8L736.8 272.8L737.1 275.2L737.3 256.9L737.6 278.0L737.9 274.4L738.1 281.6L738.4 254.6L738.7 279.3L739.0 265.8L739.2 269.8L739.5 282.0L739.8 290.8L740.0 275.9L740.3 273.4L740.6 287.1L740.8 265.8L741.1 273.0L741.4 269.6L741.7 264.9L741.9 276.3L742.2 294.1L742.5 276.9L742.7 279.3L743.0 274.2L743.3 285.4L743.5 276.2L743.8 265.9L744.1 275.4L744.4 288.4L744.6 273.6L744.9 286.1L745.2 273.8L745.4 296.5L745.7 277.2L746.0 280.8L746.2 271.6L746.5 282.6L746.8 272.3L747.1 260.1L747.3 236.2L747.6 262.8L747.9 288.8L748.1 282.1L748.4 274.6L748.7 281.1L748.9 254.6L749.2 289.3L749.5 268.2L749.8 281.0L750.0 294.1L750.3 258.8L750.6 270.4L750.8 277.8L751.1 278.5L751.4 258.1L751.6 265.4L751.9 288.9L752.2 268.6L752.5 279.8L752.7 261.2L753.0 265.6L753.3 256.8L753.5 290.5L753.8 301.2L754.1 288.3L754.3 283.9L754.6 290.1L754.9 292.9L755.2 283.7L755.4 293.9L755.7 310.9L756.0 311.8L756.2 280.3L756.5 271.9L756.8 310.4L757.0 299.1L757.3 301.9L757.6 294.5L757.9 284.5L758.1 299.0L758.4 300.8L758.7 301.5L758.9 274.1L759.2 299.7L759.5 283.0L759.7 282.9L760.0 309.9L760.3 283.0L760.6 311.8L760.8 256.3L761.1 290.5L761.4 284.9L761.6 290.2L761.9 284.4L762.2 294.3L762.4 297.7L762.7 297.4L763.0 272.0L763.3 283.2L763.5 288.2L763.8 272.4L764.1 291.8L764.3 285.5L764.6 287.9L764.9 291.9L765.1 279.7L765.4 306.1L765.7 299.8L766.0 280.6L766.2 292.9L766.5 296.2L766.8 278.0L767.0 282.9L767.3 295.7L767.6 262.4L767.8 271.2L768.1 291.2L768.4 294.8L768.7 276.0L768.9 297.6L769.2 311.8L769.5 289.8L769.7 286.7L770.0 288.1L770.3 275.0L770.5 293.9L770.8 289.4L771.1 296.3L771.4 304.5L771.6 287.7L771.9 289.4L772.2 291.2L772.4 308.3L772.7 315.2L773.0 287.2L773.3 279.6L773.5 288.8L773.8 297.3L774.1 288.1L774.3 296.2L774.6 289.5L774.9 257.7L775.1 279.3L775.4 270.5L775.7 290.0L776.0 282.5L776.2 297.4L776.5 299.0L776.8 276.5L777.0 274.1L777.3 294.6L777.6 276.6L777.8 289.8L778.1 294.6L778.4 282.6L778.7 308.8L778.9 277.9L779.2 292.4L779.5 282.3L779.7 262.4L780.0 285.2L780.3 285.3L780.5 294.3L780.8 285.6L781.1 278.4L781.4 281.0L781.6 283.6L781.9 296.4L782.2 283.9L782.4 302.2L782.7 297.6L783.0 278.3L783.2 299.7L783.5 262.4L783.8 287.6L784.1 275.4L784.3 286.1L784.6 301.2L784.9 287.3L785.1 285.2L785.4 302.7L785.7 278.0L785.9 277.2L786.2 299.0L786.5 294.7L786.8 270.0L787.0 289.1L787.3 296.7L787.6 285.3L787.8 282.4L788.1 288.9L788.4 289.8L788.6 278.7L788.9 297.4L789.2 268.2L789.5 286.3L789.7 311.8L790.0 274.4L790.3 286.8L790.5 262.4L790.8 277.2L791.1 273.3L791.3 288.0L791.6 256.3L791.9 330.6L792.2 276.1L792.4 286.9L792.7 289.9L793.0 295.0L793.2 298.1L793.5 268.3L793.8 311.8L794.0 283.5L794.3 278.6L794.6 267.3L794.9 281.9L795.1 265.8L795.4 289.5L795.7 280.0L795.9 291.2L796.2 277.7L796.5 288.1L796.7 311.8L797.0 301.4L797.3 289.2L797.6 275.3L797.8 304.9L798.1 266.7L798.4 270.1L798.6 302.9L798.9 280.0L799.2 303.5L799.4 294.2L799.7 311.8L800.0 308.8L800.3 294.3L800.5 279.6L800.8 294.4L801.1 304.2L801.3 288.9L801.6 262.4L801.9 282.6L802.1 282.8L802.4 286.5L802.7 283.0L803.0 301.0L803.2 271.9L803.5 292.5L803.8 263.2L804.0 262.4L804.3 275.0L804.6 278.1L804.8 276.4L805.1 278.7L805.4 294.6L805.7 294.2L805.9 288.1L806.2 325.3L806.5 278.8L806.7 275.3L807.0 270.0L807.3 282.1L807.5 273.5L807.8 283.2L808.1 295.9L808.4 293.8L808.6 303.2L808.9 275.9L809.2 262.4L809.4 273.7L809.7 311.5L810.0 294.8L810.3 280.1L810.5 302.8L810.8 235.6L811.1 307.3L811.3 280.6L811.6 280.6L811.9 294.8L812.1 271.0L812.4 283.7L812.7 310.7L813.0 291.4L813.2 271.6L813.5 282.6L813.8 285.4L814.0 276.0L814.3 291.1L814.6 301.9L814.8 286.4L815.1 297.2L815.4 289.6L815.7 287.6L815.9 244.9L816.2 298.2L816.5 303.2L816.7 280.0L817.0 274.5L817.3 292.5L817.5 287.1L817.8 300.3L818.1 292.1L818.4 284.1L818.6 267.9L818.9 293.8L819.2 287.0L819.4 269.5L819.7 266.6L820.0 262.2L820.2 253.0L820.5 280.1L820.8 259.4L821.1 314.6L821.3 277.6L821.6 284.3L821.9 286.2L822.1 281.4L822.4 295.3L822.7 299.0L822.9 282.9L823.2 306.1L823.5 284.1L823.8 274.6L824.0 287.7L824.3 267.3L824.6 281.9L824.8 272.1L825.1 280.2L825.4 288.3L825.6 259.4L825.9 290.8L826.2 289.1L826.5 283.0L826.7 295.0L827.0 290.2L827.3 281.1L827.5 272.8L827.8 295.2L828.1 295.5L828.3 266.7L828.6 276.3L828.9 270.5L829.2 296.4L829.4 278.3L829.7 319.2L830.0 305.2L830.2 250.6L830.5 288.7L830.8 288.9L831.0 283.4L831.3 286.2L831.6 297.2L831.9 291.4L832.1 279.8L832.4 287.0L832.7 309.8L832.9 278.6L833.2 268.7L833.5 287.2L833.7 271.0L834.0 312.1L834.3 293.8L834.6 293.3L834.8 290.4L835.1 311.1L835.4 272.6L835.6 285.0L835.9 264.2L836.2 301.7L836.4 284.7L836.7 308.5L837.0 282.1L837.3 272.2L837.5 276.6L837.8 296.1L838.1 275.1L838.3 289.0L838.6 276.3L838.9 276.5L839.1 278.4L839.4 306.6L839.7 271.8L840.0 287.4L840.3 292.9L840.5 275.4L840.8 266.8L841.1 300.8L841.3 303.4L841.6 281.0L841.9 259.8L842.2 293.6L842.4 283.3L842.7 274.5L843.0 279.4L843.2 260.8L843.5 274.6L843.8 270.0L844.0 268.9L844.3 290.4L844.6 286.8L844.9 303.0L845.1 260.8L845.4 257.8L845.7 274.2L845.9 298.8L846.2 295.5L846.5 285.1L846.7 284.8L847.0 275.2L847.3 277.9L847.6 278.7L847.8 260.8L848.1 305.2L848.4 292.1L848.6 306.6L848.9 297.7L849.2 289.3L849.4 293.2L849.7 264.6L850.0 272.2L850.3 293.4L850.5 279.4L850.8 265.4L851.1 283.6L851.3 269.1L851.6 283.7L851.9 301.5L852.1 270.8L852.4 278.6L852.7 290.0L853.0 283.4L853.2 285.8L853.5 281.4L853.8 287.6L854.0 267.2L854.3 289.5L854.6 307.3L854.8 278.0L855.1 289.4L855.4 300.3L855.7 306.6L855.9 305.9L856.2 280.9L856.5 286.6L856.7 313.1L857.0 286.0L857.3 295.2L857.5 281.4L857.8 283.7L858.1 267.2L858.4 285.0L858.6 267.2L858.9 279.3L859.2 279.7L859.4 308.2L859.7 301.0L860.0 296.6L860.2 285.3L860.5 274.7L860.8 267.8L861.1 281.5L861.3 290.2L861.6 303.1L861.9 289.3L862.1 291.3L862.4 279.5L862.7 304.4L862.9 298.1L863.2 300.3L863.5 311.5L863.8 271.8L864.0 317.4L864.3 299.5L864.6 295.7L864.8 295.4L865.1 297.3L865.4 272.9L865.6 290.7L865.9 305.8L866.2 290.9L866.5 289.2L866.7 301.9L867.0 270.2L867.3 296.4L867.5 310.2L867.8 288.5L868.1 281.5L868.3 298.0L868.6 286.1L868.9 281.6L869.2 293.6L869.4 271.3L869.7 299.8L870.0 277.0L870.2 284.9L870.5 300.5L870.8 291.2L871.0 294.8L871.3 308.4L871.6 310.2L871.9 316.6L872.1 284.9L872.4 302.8L872.7 271.4L872.9 316.0L873.2 307.5L873.5 282.7L873.7 297.3L874.0 301.9L874.3 289.6L874.6 283.8L874.8 292.9L875.1 262.9L875.4 278.7L875.6 287.0L875.9 279.4L876.2 293.7L876.4 292.6L876.7 281.9L877.0 295.7L877.3 284.9L877.5 263.9L877.8 273.5L878.1 279.8L878.3 279.0L878.6 259.0L878.9 298.6L879.1 260.4L879.4 265.0L879.7 281.7L880.0 279.0L880.2 293.2L880.5 279.3L880.8 280.9L881.0 284.6L881.3 269.2L881.6 263.2L881.8 272.0L882.1 305.3L882.4 273.9L882.6 290.2L882.9 249.1L883.2 267.3L883.5 257.2L883.7 268.5L884.0 256.9L884.3 259.6L884.5 250.3L884.8 227.0L885.1 256.3L885.3 263.7L885.6 265.8L885.9 244.5L886.2 245.3L886.4 256.2L886.7 274.5L887.0 242.2L887.2 242.7L887.5 243.1L887.8 251.4L888.0 242.1L888.3 245.5L888.6 264.2L888.9 241.8L889.1 256.7L889.4 240.5L889.7 230.3L889.9 264.0L890.2 229.1L890.5 257.6L890.7 260.0L891.0 256.0L891.3 260.4L891.6 262.6L891.8 238.9L892.1 255.1L892.4 265.8L892.6 274.7L892.9 238.0L893.2 248.6L893.4 238.0L893.7 256.6L894.0 242.1L894.3 243.3L894.5 267.5L894.8 293.9L895.1 229.1L895.3 279.6L895.6 244.2L895.9 266.3L896.1 217.6L896.4 273.9L896.7 254.0L897.0 245.4L897.2 256.0L897.5 267.8L897.8 296.6L898.0 262.5L898.3 256.8L898.6 259.3L898.8 257.0L899.1 265.2L899.4 268.0L899.7 216.9L899.9 252.0L900.2 229.1L900.5 244.8L900.7 235.8L901.0 266.2L901.3 242.0L901.5 215.6L901.8 264.2L902.1 270.6L902.4 273.7L902.6 245.1L902.9 225.0L903.2 271.6L903.4 245.2L903.7 253.8L904.0 240.1L904.2 248.0L904.5 266.7L904.8 258.2L905.1 251.9L905.3 249.2L905.6 277.9L905.9 267.3L906.1 239.8L906.4 285.1L906.7 251.2L906.9 259.4L907.2 255.8L907.5 255.0L907.8 267.7L908.0 245.7L908.3 261.3L908.6 257.5L908.8 279.4L909.1 265.1L909.4 265.6L909.6 266.5L909.9 267.3L910.2 262.3L910.5 239.7L910.7 265.5L911.0 257.6L911.3 268.4L911.5 264.3L911.8 287.2L912.1 251.6L912.3 250.3L912.6 264.0L912.9 259.9L913.2 251.7L913.4 257.2L913.7 264.7L914.0 254.0L914.2 259.7L914.5 220.3L914.8 239.7L915.0 262.0L915.3 261.7L915.6 269.6L915.9 274.7L916.1 253.4L916.4 267.3L916.7 263.8L916.9 261.8L917.2 269.7L917.5 270.2L917.7 247.7L918.0 225.6L918.3 259.1L918.6 254.0L918.8 253.7L919.1 258.6L919.4 249.2L919.6 272.5L919.9 265.5L920.2 251.5L920.4 269.7L920.7 263.5L921.0 261.9L921.3 271.1L921.5 260.0L921.8 258.3L922.1 266.3L922.3 241.8L922.6 248.4L922.9 266.3L923.1 272.3L923.4 243.3L923.7 261.2L923.9 254.0L924.2 258.1L924.5 267.3L924.8 276.7L925.0 279.5L925.3 271.0L925.6 267.7L925.8 265.3L926.1 242.6L926.4 268.2L926.6 250.2L926.9 251.1L927.2 265.0L927.5 245.8L927.7 283.7L928.0 270.5L928.3 267.8L928.5 269.2L928.8 266.4L929.1 264.4L929.3 271.7L929.6 223.0L929.9 266.8L930.2 265.6L930.4 295.9L930.7 251.3L931.0 181.1L931.2 262.2L931.5 270.8L931.8 269.8L932.0 265.8L932.3 214.3L932.6 268.7L932.9 279.1L933.1 267.2L933.4 269.8L933.7 253.2L933.9 261.4L934.2 272.4L934.5 275.6L934.7 252.7L935.0 263.2L935.3 260.6L935.6 264.3L935.8 258.3L936.1 258.9L936.4 292.6L936.6 265.1L936.9 275.2L937.2 223.0L937.4 252.9L937.7 272.6L938.0 269.4L938.3 261.6L938.5 250.7L938.8 275.6L939.1 251.6L939.3 276.5L939.6 266.5L939.9 262.0L940.1 261.8L940.4 272.9L940.7 263.8L941.0 244.1L941.2 255.8L941.5 240.7L941.8 268.2L942.0 274.1L942.3 275.3L942.6 248.5L942.8 286.9L943.1 284.2L943.4 262.5L943.7 241.3L943.9 253.9L944.2 275.5L944.5 273.6L944.7 252.7L945.0 242.2L945.3 249.2L945.5 272.5L945.8 257.0L946.1 245.7L946.4 240.6L946.6 220.6L946.9 263.5L947.2 253.2L947.4 255.4L947.7 257.7L948.0 254.3L948.2 252.6L948.5 252.4L948.8 252.3L949.1 267.0L949.3 260.3L949.6 265.3L949.9 271.9L950.1 277.9L950.4 256.5L950.7 264.7L950.9 255.3L951.2 252.2L951.5 232.3L951.8 252.8L952.0 250.3L952.3 254.6L952.6 257.5L952.8 257.1L953.1 264.3L953.4 257.2L953.6 253.2L953.9 273.6L954.2 255.2L954.5 254.9L954.7 255.9L955.0 251.4L955.3 244.3L955.5 258.6L955.8 268.8L956.1 242.4L956.3 250.9L956.6 260.5L956.9 251.5L957.2 261.3L957.4 256.6L957.7 248.2L958.0 255.3L958.2 252.9L958.5 261.4L958.8 240.6L959.0 260.3L959.3 267.7L959.6 227.7L959.9 258.9L960.1 252.7L960.4 259.7L960.7 254.0L960.9 245.7L961.2 246.4L961.5 240.3L961.7 258.2L962.0 256.3L962.3 262.9L962.5 256.9L962.8 260.0L963.1 245.3L963.4 241.5L963.6 250.9L963.9 252.6L964.2 257.6L964.4 254.1L964.7 253.8L965.0 255.3L965.2 256.9L965.5 256.5L965.8 257.3L966.1 251.4L966.3 254.4L966.6 244.4L966.9 246.9L967.1 253.1L967.4 258.1L967.7 249.6L967.9 244.8L968.2 262.0L968.5 274.5L968.8 242.6L969.0 248.0L969.3 246.4L969.6 240.3L969.8 252.2L970.1 267.2L970.4 249.6L970.6 249.1L970.9 263.3L971.2 255.7L971.5 254.3L971.7 264.9L972.0 246.5L972.3 254.6L972.5 258.7L972.8 256.5L973.1 246.5L973.3 248.3L973.6 267.9L973.9 254.3L974.2 253.1L974.4 262.8L974.7 242.1L975.0 254.6L975.2 242.3L975.5 265.1L975.8 247.9L976.0 255.8L976.3 248.4L976.6 256.0L976.9 257.3L977.1 255.1L977.4 252.7L977.7 256.8L977.9 253.3L978.2 251.4L978.5 219.6L978.7 261.2L979.0 245.3L979.3 247.8L979.6 249.4L979.8 257.2L980.1 244.9L980.4 266.3L980.6 273.8L980.9 256.2L981.2 261.4L981.4 249.6L981.7 257.7L982.0 258.0L982.3 264.4L982.5 247.5L982.8 265.1L983.1 259.4L983.3 256.9L983.6 262.8L983.9 253.3L984.1 253.7L984.4 261.1L984.7 252.5L985.0 262.9L985.2 265.0L985.5 256.6L985.8 256.4L986.0 250.4L986.3 248.4L986.6 265.5L986.8 247.6L987.1 255.7L987.4 257.2L987.7 248.6L987.9 272.5L988.2 250.0L988.5 269.9L988.7 257.8L989.0 265.1L989.3 269.8L989.5 262.4L989.8 264.6L990.1 251.9L990.4 250.1L990.6 265.6L990.9 265.7L991.2 247.8L991.4 263.4L991.7 257.3L992.0 260.9L992.2 262.1L992.5 268.9L992.8 250.6L993.1 255.2L993.3 264.3L993.6 253.3L993.9 259.1L994.1 254.6L994.4 242.9L994.7 251.2L994.9 261.6L995.2 251.2L995.5 244.1L995.8 251.6L996.0 235.7L996.3 258.7L996.6 257.6L996.8 259.0L997.1 247.6L997.4 250.9L997.6 249.7L997.9 252.0L998.2 258.4L998.5 264.8L998.7 253.5L999.0 262.9L999.3 263.2L999.5 247.0L999.8 249.3L1000.1 256.3L1000.3 245.3L1000.6 268.7L1000.9 241.7L1001.2 246.4L1001.4 260.9L1001.7 249.9L1002.0 260.4L1002.2 248.1L1002.5 262.9L1002.8 251.1L1003.0 260.5L1003.3 262.5L1003.6 244.5L1003.8 248.9L1004.1 242.6L1004.4 247.3L1004.7 261.9L1004.9 255.0L1005.2 261.4L1005.5 265.5L1005.7 262.7L1006.0 260.5L1006.3 257.2L1006.5 257.7L1006.8 264.5L1007.1 269.7L1007.4 271.8L1007.6 264.3L1007.9 258.6L1008.2 260.7L1008.4 277.4L1008.7 264.1L1009.0 280.7L1009.2 254.6L1009.5 269.8L1009.8 263.5L1010.1 268.7L1010.3 254.2L1010.6 264.7L1010.9 260.8L1011.1 258.8L1011.4 250.0L1011.7 247.8L1011.9 258.2L1012.2 266.7L1012.5 263.9L1012.8 263.8L1013.0 264.6L1013.3 248.5L1013.6 271.7L1013.8 262.1L1014.1 279.9L1014.4 256.2L1014.6 271.0L1014.9 263.3L1015.2 245.5L1015.5 280.9L1015.7 247.3L1016.0 277.9L1016.3 269.6L1016.5 251.8L1016.8 273.4L1017.1 273.6L1017.3 271.5L1017.6 267.7L1017.9 264.6L1018.2 263.6L1018.4 256.4L1018.7 287.2L1019.0 273.8L1019.2 260.5L1019.5 280.4L1019.8 246.6L1020.0 261.8L1020.3 247.3L1020.6 244.6L1020.9 263.9L1021.1 258.4L1021.4 237.7L1021.7 251.3L1021.9 259.3L1022.2 246.0L1022.5 259.6L1022.7 256.4L1023.0 249.5L1023.3 265.5L1023.6 243.7L1023.8 265.6L1024.1 264.1L1024.4 266.6L1024.6 262.8L1024.9 269.1L1025.2 259.0L1025.4 251.1L1025.7 265.2L1026.0 253.9L1026.3 258.0L1026.5 262.7L1026.8 252.6L1027.1 271.0L1027.3 246.8L1027.6 273.3L1027.9 261.2L1028.1 277.8L1028.4 272.2L1028.7 268.0L1029.0 264.3L1029.2 262.6L1029.5 248.3L1029.8 256.2L1030.0 252.5L1030.3 254.7L1030.6 260.3L1030.8 253.9L1031.1 262.9L1031.4 259.1L1031.7 257.0L1031.9 265.3L1032.2 266.0L1032.5 248.7L1032.7 258.5L1033.0 280.9L1033.3 261.7L1033.5 241.7L1033.8 253.0L1034.1 270.9L1034.4 276.3L1034.6 267.1L1034.9 260.3L1035.2 261.8L1035.4 243.3L1035.7 267.2L1036.0 258.6L1036.2 265.3L1036.5 287.2L1036.8 263.6L1037.1 280.9L1037.3 270.3L1037.6 255.3L1037.9 267.4L1038.1 267.6L1038.4 258.4L1038.7 269.4L1038.9 255.2L1039.2 244.1L1039.5 249.6L1039.8 261.2L1040.0 250.2L1040.3 259.3L1040.6 246.0L1040.8 261.2L1041.1 256.1L1041.4 236.4L1041.6 253.7L1041.9 255.9L1042.2 265.4L1042.5 260.0L1042.7 256.5L1043.0 259.4L1043.3 265.2L1043.5 261.8L1043.8 272.1L1044.1 252.3L1044.3 264.7L1044.6 259.1L1044.9 253.1L1045.1 262.9L1045.4 264.8L1045.7 265.9L1046.0 262.0L1046.2 251.1L1046.5 259.5L1046.8 261.2L1047.0 271.4L1047.3 259.1L1047.6 259.3L1047.8 270.6L1048.1 258.6L1048.4 254.5L1048.7 260.4L1048.9 264.3L1049.2 259.3L1049.5 244.7L1049.7 254.9L1050.0 266.1L1050.3 252.2L1050.5 264.9L1050.8 259.5L1051.1 251.8L1051.4 264.5L1051.6 241.3L1051.9 241.4L1052.2 245.7L1052.4 238.4L1052.7 255.9L1053.0 263.1L1053.2 257.5L1053.5 259.2L1053.8 253.9L1054.1 255.0L1054.3 266.0L1054.6 264.2L1054.9 247.5L1055.1 262.7L1055.4 274.2L1055.7 264.1L1055.9 250.6L1056.2 264.0L1056.5 259.8L1056.8 275.8L1057.0 265.8L1057.3 267.9L1057.6 254.0L1057.8 259.1L1058.1 255.0L1058.4 258.1L1058.6 270.8L1058.9 254.7L1059.2 262.6L1059.5 260.2L1059.7 258.8L1060.0 249.2L1060.3 263.1L1060.5 249.4L1060.8 263.9L1061.1 257.4L1061.3 259.2L1061.6 254.5L1061.9 251.3L1062.2 250.0L1062.4 258.2L1062.7 257.4L1063.0 260.4L1063.2 255.8L1063.5 264.2L1063.8 259.3L1064.0 259.1L1064.3 256.2L1064.6 258.0L1064.9 263.3L1065.1 252.5L1065.4 248.6L1065.7 261.2L1065.9 261.4L1066.2 274.5L1066.5 260.0L1066.7 247.8L1067.0 226.0L1067.3 258.1L1067.6 257.8L1067.8 248.3L1068.1 261.8L1068.4 243.0L1068.6 267.9L1068.9 249.8L1069.2 253.7L1069.4 249.8L1069.7 247.4L1070.0 255.6L1070.3 243.1L1070.5 255.4L1070.8 259.4L1071.1 255.7L1071.3 257.9L1071.6 246.7L1071.9 243.5L1072.1 247.6L1072.4 275.2L1072.7 260.6L1073.0 243.9L1073.2 271.6L1073.5 263.1L1073.8 266.7L1074.0 266.1L1074.3 268.4L1074.6 244.7L1074.8 258.7L1075.1 251.9L1075.4 273.4L1075.7 263.5L1075.9 258.0L1076.2 256.1L1076.5 241.4L1076.7 258.9L1077.0 251.4L1077.3 268.8L1077.5 275.8L1077.8 257.4L1078.1 255.0L1078.4 266.8L1078.6 253.9L1078.9 266.8L1079.2 259.7L1079.4 255.8L1079.7 248.2L1080.0 258.9L1080.2 232.3L1080.5 250.7L1080.8 250.5L1081.1 242.4L1081.3 255.8L1081.6 249.4L1081.9 248.2L1082.1 235.8L1082.4 248.1L1082.7 233.2L1082.9 247.2L1083.2 259.2L1083.5 235.7L1083.8 255.0L1084.0 233.9L1084.3 242.9L1084.6 247.8L1084.8 230.5L1085.1 244.4L1085.4 235.5L1085.6 236.6L1085.9 247.9L1086.2 240.5L1086.4 244.1L1086.7 240.9L1087.0 243.6L1087.3 252.7L1087.5 241.2L1087.8 237.8L1088.1 240.1L1088.3 245.4L1088.6 243.1L1088.9 222.6L1089.1 238.6L1089.4 242.4L1089.7 221.9L1090.0 239.5L1090.3 242.0L1090.5 235.0L1090.8 243.6L1091.1 230.2L1091.3 237.5L1091.6 243.5L1091.9 232.2L1092.2 242.0L1092.4 238.7L1092.7 254.1L1093.0 256.8L1093.2 260.4L1093.5 245.3L1093.8 249.5L1094.0 259.9L1094.3 239.0L1094.6 257.6L1094.9 236.9L1095.1 252.5L1095.4 231.7L1095.7 241.0L1095.9 242.6L1096.2 242.1L1096.5 228.7L1096.7 245.1L1097.0 241.8L1097.3 255.9L1097.6 248.8L1097.8 227.4L1098.1 237.6L1098.4 243.9L1098.6 236.1L1098.9 232.0L1099.2 227.5L1099.4 234.3L1099.7 230.4L1100.0 234.9L1100.3 234.6L1100.5 245.4L1100.8 230.1L1101.1 239.0L1101.3 229.3L1101.6 238.6L1101.9 243.7L1102.1 232.9L1102.4 228.7L1102.7 237.0L1103.0 236.9L1103.2 232.4L1103.5 239.6L1103.8 237.2L1104.0 241.3L1104.3 227.4L1104.6 241.8L1104.8 219.8L1105.1 231.2L1105.4 250.1L1105.7 238.3L1105.9 227.9L1106.2 229.5L1106.5 231.7L1106.7 232.3L1107.0 235.1L1107.3 238.7L1107.5 235.3L1107.8 234.6L1108.1 230.2L1108.4 222.9L1108.6 231.9L1108.9 228.4L1109.2 242.7L1109.4 222.5L1109.7 214.4L1110.0 222.5L1110.2 235.4L1110.5 236.8L1110.8 229.2L1111.1 230.1L1111.3 242.6L1111.6 229.4L1111.9 236.1L1112.1 237.0L1112.4 241.2L1112.7 228.2L1112.9 216.4L1113.2 235.7L1113.5 243.6L1113.8 227.1L1114.0 244.1L1114.3 236.1L1114.6 242.0L1114.8 232.4L1115.1 242.6L1115.4 236.9L1115.6 223.9L1115.9 250.5L1116.2 224.5L1116.5 239.9L1116.7 235.4L1117.0 233.6L1117.3 234.2L1117.5 243.0L1117.8 243.1L1118.1 243.0L1118.3 225.6L1118.6 242.2L1118.9 226.5L1119.2 250.5L1119.4 239.3L1119.7 244.4L1120.0 236.7L1120.2 255.3L1120.5 231.9L1120.8 250.3L1121.0 234.4L1121.3 241.2L1121.6 232.1L1121.9 235.3L1122.1 234.1L1122.4 235.5L1122.7 233.5L1122.9 239.0L1123.2 239.2L1123.5 228.3L1123.7 233.9L1124.0 229.7L1124.3 241.1L1124.6 230.0L1124.8 203.7L1125.1 236.7L1125.4 197.7L1125.6 226.6L1125.9 244.2L1126.2 235.3L1126.4 239.3L1126.7 241.1L1127.0 231.2L1127.3 231.2L1127.5 244.3L1127.8 245.3L1128.1 232.0L1128.3 235.6L1128.6 240.6L1128.9 235.3L1129.1 242.3L1129.4 238.9L1129.7 235.6L1130.0 239.2L1130.2 233.7L1130.5 242.1L1130.8 232.8L1131.0 242.3L1131.3 245.7L1131.6 227.6L1131.8 244.2L1132.1 228.9L1132.4 235.7L1132.7 244.8L1132.9 241.2L1133.2 239.3L1133.5 237.8L1133.7 236.9L1134.0 238.2L1134.3 235.1L1134.5 234.6L1134.8 230.1L1135.1 244.4L1135.4 235.9L1135.6 253.7L1135.9 246.2L1136.2 244.3L1136.4 234.4L1136.7 239.8L1137.0 241.7L1137.2 240.6L1137.5 257.3L1137.8 228.0L1138.1 238.8L1138.3 239.8L1138.6 238.3L1138.9 239.4L1139.1 231.4L1139.4 235.9L1139.7 250.9L1139.9 235.4L1140.2 238.1L1140.5 236.1L1140.8 240.4L1141.0 238.1L1141.3 254.3L1141.6 234.7L1141.8 250.2L1142.1 238.4L1142.4 244.3L1142.6 254.4L1142.9 241.4L1143.2 241.4L1143.5 228.0L1143.7 239.2L1144.0 240.0L1144.3 257.3L1144.5 243.0L1144.8 234.4L1145.1 235.4L1145.3 246.4L1145.6 239.7L1145.9 241.7L1146.2 245.7L1146.4 242.1L1146.7 242.4L1147.0 234.5L1147.2 241.5L1147.5 230.5L1147.8 252.8L1148.0 236.5L1148.3 252.3L1148.6 238.3L1148.9 240.6L1149.1 249.9L1149.4 242.8L1149.7 242.7L1149.9 239.7L1150.2 239.8L1150.5 236.7L1150.7 236.5L1151.0 230.0L1151.3 240.5L1151.6 236.4L1151.8 250.6L1152.1 254.4L1152.4 253.8L1152.6 233.8L1152.9 239.2L1153.2 240.7L1153.4 231.6L1153.7 251.6L1154.0 223.1L1154.3 243.4L1154.5 254.0L1154.8 244.7L1155.1 239.6L1155.3 243.3L1155.6 238.5L1155.9 244.6L1156.1 233.1L1156.4 244.8L1156.7 239.6L1157.0 238.8L1157.2 239.1L1157.5 240.7L1157.8 230.3L1158.0 245.4L1158.3 240.3L1158.6 253.1L1158.8 241.4L1159.1 247.6L1159.4 241.3L1159.7 240.7L1159.9 233.7L1160.2 238.5L1160.5 237.8L1160.7 228.0L1161.0 220.9L1161.3 215.7L1161.5 262.0L1161.8 236.9L1162.1 220.8L1162.4 203.7L1162.6 239.5L1162.9 155.5L1163.2 220.5L1163.4 225.7L1163.7 244.3L1164.0 243.2L1164.2 238.3L1164.5 203.6L1164.8 199.1L1165.1 246.0L1165.3 233.1L1165.6 195.7L1165.9 231.5L1166.1 220.9L1166.4 242.1L1166.7 276.7L1166.9 249.1L1167.2 244.6L1167.5 232.3L1167.7 233.6L1168.0 245.7L1168.3 244.8L1168.6 240.7L1168.8 241.1L1169.1 230.1L1169.4 232.8L1169.6 242.2L1169.9 226.1L1170.2 242.0L1170.4 242.6L1170.7 243.0L1171.0 244.3L1171.3 251.6L1171.5 240.5L1171.8 232.9L1172.1 226.7L1172.3 224.0L1172.6 239.1L1172.9 244.5L1173.1 226.9L1173.4 239.5L1173.7 233.4L1174.0 236.5L1174.2 239.7L1174.5 238.5L1174.8 230.1L1175.0 250.6L1175.3 237.2L1175.6 201.7L1175.8 243.4L1176.1 248.9L1176.4 235.4L1176.7 249.0L1176.9 227.1L1177.2 236.3L1177.5 246.9L1177.7 246.9L1178.0 241.5L1178.3 245.2L1178.5 235.0L1178.8 242.8L1179.1 244.4L1179.4 244.3L1179.6 240.4L1179.9 243.5L1180.2 240.7L1180.4 241.9L1180.7 227.0L1181.0 241.8L1181.2 231.2L1181.5 235.0L1181.8 238.0L1182.1 239.3L1182.3 228.5L1182.6 233.8L1182.9 239.1L1183.1 234.6L1183.4 237.6L1183.7 239.0L1183.9 203.3L1184.2 233.6L1184.5 238.6L1184.8 241.2L1185.0 228.5L1185.3 242.6L1185.6 230.3L1185.8 239.7L1186.1 241.4L1186.4 241.5L1186.6 229.0L1186.9 230.8L1187.2 228.9L1187.5 241.0L1187.7 237.9L1188.0 224.6L1188.3 242.0L1188.5 245.1L1188.8 233.3L1189.1 236.3L1189.3 238.5L1189.6 229.9L1189.9 233.9L1190.2 240.6L1190.4 221.1L1190.7 236.7L1191.0 237.5L1191.2 248.5L1191.5 238.5L1191.8 238.9L1192.0 233.3L1192.3 245.1L1192.6 237.0L1192.9 236.3L1193.1 253.3L1193.4 245.7L1193.7 230.1L1193.9 234.3L1194.2 245.2L1194.5 233.1L1194.7 247.1L1195.0 235.2L1195.3 249.7L1195.6 229.6L1195.8 222.9L1196.1 226.2L1196.4 249.8L1196.6 231.2L1196.9 233.1L1197.2 232.2L1197.4 231.0L1197.7 237.1L1198.0 236.9L1198.3 231.7L1198.5 232.3L1198.8 245.1L1199.1 242.5L1199.3 242.7L1199.6 244.4L1199.9 234.5L1200.1 241.9L1200.4 247.1L1200.7 230.1L1201.0 245.1L1201.2 221.4L1201.5 222.6L1201.8 225.6L1202.0 228.8L1202.3 229.0L1202.6 232.2L1202.8 241.2L1203.1 230.5L1203.4 233.0L1203.7 226.6L1203.9 224.5L1204.2 234.2L1204.5 230.3L1204.7 241.5L1205.0 236.1L1205.3 222.9L1205.5 240.3L1205.8 227.0L1206.1 232.5L1206.4 228.1L1206.6 229.5L1206.9 231.0L1207.2 227.0L1207.4 230.1L1207.7 233.1L1208.0 240.0L1208.2 239.9L1208.5 247.2L1208.8 223.9L1209.1 232.2L1209.3 243.2L1209.6 227.1L1209.9 233.7L1210.1 239.8L1210.4 245.4L1210.7 234.5L1210.9 232.9L1211.2 229.7L1211.5 234.8L1211.8 251.2L1212.0 233.0L1212.3 226.6L1212.6 229.9L1212.8 225.1L1213.1 223.7L1213.4 206.0L1213.6 206.0L1213.9 207.8L1214.2 208.8L1214.5 198.9L1214.7 218.0L1215.0 218.1L1215.3 231.0L1215.5 193.0L1215.8 199.9L1216.1 204.6L1216.3 205.6L1216.6 215.4L1216.9 189.0L1217.2 206.7L1217.4 222.4L1217.7 212.8L1218.0 197.9L1218.2 224.7L1218.5 193.0L1218.8 226.6L1219.0 213.1L1219.3 229.0L1219.6 214.0L1219.9 211.1L1220.1 217.4L1220.4 228.3L1220.7 215.9L1220.9 211.6L1221.2 200.3L1221.5 216.7L1221.7 203.5L1222.0 213.7L1222.3 200.2L1222.6 205.7L1222.8 204.6L1223.1 207.8L1223.4 202.8L1223.6 227.6L1223.9 222.9L1224.2 211.3L1224.4 203.9L1224.7 197.0L1225.0 212.2L1225.3 251.1L1225.5 254.5L1225.8 243.7L1226.1 250.1L1226.3 250.2L1226.6 243.5L1226.9 245.5L1227.1 242.0L1227.4 230.9L1227.7 243.8L1228.0 259.4L1228.2 254.6L1228.5 262.2L1228.8 247.3L1229.0 253.5L1229.3 242.0L1229.6 241.1L1229.8 240.1L1230.1 250.3L1230.4 252.7L1230.7 261.3L1230.9 252.1L1231.2 253.7L1231.5 252.8L1231.7 237.0L1232.0 248.3L1232.3 249.3L1232.5 236.6L1232.8 238.1L1233.1 262.2L1233.4 241.6L1233.6 243.0L1233.9 231.9L1234.2 242.1L1234.4 257.1L1234.7 249.7L1235.0 217.1L1235.2 247.1L1235.5 249.5L1235.8 251.2L1236.1 239.2L1236.3 249.6L1236.6 241.7L1236.9 243.0L1237.1 240.3L1237.4 240.6L1237.7 250.5L1237.9 264.0L1238.2 248.2L1238.5 262.2L1238.8 240.0L1239.0 244.6L1239.3 246.2L1239.6 258.6L1239.8 235.9L1240.1 251.0L1240.4 246.0L1240.6 261.7L1240.9 245.2L1241.2 261.9L1241.5 239.4L1241.7 249.5L1242.0 238.4L1242.3 242.2L1242.5 237.2L1242.8 243.7L1243.1 258.5L1243.3 242.7L1243.6 262.2L1243.9 259.0L1244.2 249.1L1244.4 246.8L1244.7 249.1L1245.0 241.0L1245.2 251.2L1245.5 247.4L1245.8 231.9L1246.0 247.0L1246.3 251.1L1246.6 247.1L1246.8 249.1L1247.1 246.8L1247.4 243.0L1247.7 254.7L1247.9 257.4L1248.2 244.4L1248.5 252.8L1248.7 238.5L1249.0 256.2L1249.3 240.5L1249.5 247.0L1249.8 253.9L1250.1 242.9L1250.4 247.0L1250.6 254.3L1250.9 242.5L1251.2 249.3L1251.4 255.0L1251.7 248.6L1252.0 261.3L1252.2 243.7L1252.5 244.8L1252.8 246.8L1253.1 251.5L1253.3 234.9L1253.6 246.2L1253.9 248.2L1254.1 258.1L1254.4 235.7L1254.7 240.0L1254.9 253.4L1255.2 246.4L1255.5 255.0L1255.8 246.4L1256.0 241.8L1256.3 246.3L1256.6 256.0L1256.8 252.1L1257.1 248.2L1257.4 247.8L1257.6 254.8L1257.9 251.4L1258.2 248.5L1258.5 252.2L1258.7 247.4L1259.0 238.3L1259.3 253.5L1259.5 255.8L1259.8 257.2L1260.1 246.2L1260.3 237.6L1260.6 249.8L1260.9 242.3L1261.2 232.6L1261.4 247.8L1261.7 240.9L1262.0 247.2L1262.2 243.1L1262.5 252.8L1262.8 253.1L1263.0 250.5L1263.3 255.5L1263.6 242.7L1263.9 262.2L1264.1 233.7L1264.4 252.3L1264.7 254.4L1264.9 243.7L1265.2 247.6L1265.5 201.8L1265.7 210.8L1266.0 219.4L1266.3 201.0L1266.6 192.9L1266.8 211.8L1267.1 206.0L1267.4 195.7L1267.6 214.0L1267.9 199.7L1268.2 228.9L1268.4 229.6L1268.7 216.3L1269.0 209.0L1269.3 215.3L1269.5 214.7L1269.8 189.0L1270.1 208.3L1270.3 221.0L1270.6 205.3L1270.9 208.4L1271.1 210.6L1271.4 204.2L1271.7 219.0L1272.0 200.9L1272.2 226.8L1272.5 224.4L1272.8 215.6L1273.0 225.9L1273.3 228.8L1273.6 211.4L1273.8 215.3L1274.1 208.8L1274.4 211.6L1274.7 211.4L1274.9 216.9L1275.2 205.1L1275.5 240.5L1275.7 219.8L1276.0 227.0L1276.3 213.2L1276.5 235.3L1276.8 217.3L1277.1 213.9L1277.4 212.6L1277.6 244.2L1277.9 240.6L1278.2 245.5L1278.4 259.1L1278.7 244.6L1279.0 237.5L1279.2 228.0L1279.5 243.1L1279.8 235.3L1280.1 237.3L1280.3 245.2L1280.6 246.9L1280.9 248.0L1281.1 253.8L1281.4 235.8L1281.7 238.3L1281.9 236.4L1282.2 235.3L1282.5 238.3L1282.8 236.7L1283.0 249.8L1283.3 234.8L1283.6 262.0L1283.8 226.3L1284.1 251.0L1284.4 230.5L1284.6 239.8L1284.9 233.5L1285.2 243.9L1285.5 248.0L1285.7 240.3L1286.0 238.2L1286.3 235.4L1286.5 236.6L1286.8 236.6L1287.1 238.0L1287.3 210.4L1287.6 251.4L1287.9 237.8L1288.2 226.5L1288.4 240.7L1288.7 250.8L1289.0 235.0L1289.2 246.9L1289.5 233.9L1289.8 232.9L1290.0 245.7L1290.3 227.9L1290.6 240.3L1290.9 225.8L1291.1 234.8L1291.4 246.9L1291.7 239.4L1291.9 237.6L1292.2 248.3L1292.5 235.8L1292.7 233.9L1293.0 240.1L1293.3 243.0L1293.6 244.9L1293.8 242.1L1294.1 253.8L1294.4 248.5L1294.6 242.4L1294.9 262.0L1295.2 230.3L1295.4 264.0L1295.7 237.0L1296.0 262.0L1296.3 246.1L1296.5 250.6L1296.8 247.0L1297.1 256.1L1297.3 206.4L1297.6 251.4L1297.9 228.9L1298.1 248.4L1298.4 253.3L1298.7 251.0L1299.0 264.6L1299.2 227.6L1299.5 244.3L1299.8 240.7L1300.0 256.6L1300.3 231.0L1300.6 232.3L1300.8 240.0L1301.1 230.9L1301.4 208.8L1301.7 215.3L1301.9 200.4L1302.2 238.8L1302.5 222.5L1302.7 209.8L1303.0 230.5L1303.3 219.7L1303.5 221.1L1303.8 239.9L1304.1 200.8L1304.4 175.6L1304.6 223.5L1304.9 221.8L1305.2 237.8L1305.4 220.5L1305.7 230.8L1306.0 244.8L1306.2 208.7L1306.5 208.1L1306.8 216.4L1307.1 222.2L1307.3 211.9L1307.6 251.9L1307.9 215.6L1308.1 237.9L1308.4 230.6L1308.7 232.6L1308.9 227.2L1309.2 227.1L1309.5 205.7L1309.8 233.3L1310.0 222.4L1310.3 244.1L1310.6 226.9L1310.8 228.5L1311.1 231.7L1311.4 250.0L1311.6 227.1L1311.9 246.6L1312.2 235.8L1312.5 250.0L1312.7 233.3L1313.0 231.0L1313.3 234.7L1313.5 231.0L1313.8 229.9L1314.1 239.8L1314.3 231.7L1314.6 241.1L1314.9 239.1L1315.2 241.4L1315.4 245.9L1315.7 242.3L1316.0 228.3L1316.2 247.9L1316.5 220.4L1316.8 243.8L1317.0 243.4L1317.3 227.4L1317.6 243.8L1317.9 221.7L1318.1 241.9L1318.4 232.0L1318.7 232.9L1318.9 233.7L1319.2 230.9L1319.5 240.0L1319.7 234.5L1320.0 234.3L1320.3 234.7L1320.5 232.8L1320.8 229.8L1321.1 237.3L1321.3 238.4L1321.6 229.0L1321.9 239.0L1322.2 240.4L1322.4 235.3L1322.7 241.3L1323.0 224.8L1323.2 240.9L1323.5 231.0L1323.8 196.1L1324.0 147.7L1324.3 207.7L1324.6 191.7L1324.9 198.4L1325.1 185.2L1325.4 192.4L1325.7 196.9L1325.9 193.6L1326.2 189.6L1326.5 203.6L1326.7 184.7L1327.0 194.8L1327.3 193.2L1327.6 192.0L1327.8 198.3L1328.1 225.4L1328.4 222.4L1328.6 228.3L1328.9 223.1L1329.2 227.4L1329.4 232.7L1329.7 225.4L1330.0 236.7L1330.3 219.7L1330.5 233.6L1330.8 230.5L1331.1 227.5L1331.3 225.9L1331.6 217.9L1331.9 224.3L1332.1 197.2L1332.4 182.4L1332.7 184.5L1333.0 193.0L1333.2 213.6L1333.5 197.9L1333.8 179.5L1334.0 207.0L1334.3 203.2L1334.6 201.4L1334.8 188.6L1335.1 170.4L1335.4 215.9L1335.7 205.5L1335.9 215.9L1336.2 233.3L1336.5 178.2L1336.7 189.8L1337.0 184.9L1337.3 187.4L1337.5 201.6L1337.8 207.7L1338.1 179.8L1338.4 200.0L1338.6 157.0L1338.9 196.8L1339.2 208.0L1339.4 206.0L1339.7 186.0L1340.0 128.9L1340.2 197.0L1340.5 182.1L1340.8 241.4L1341.1 204.6L1341.3 198.2L1341.6 194.6L1341.9 215.9L1342.1 200.6L1342.4 204.0L1342.7 185.5L1342.9 206.6L1343.2 189.8L1343.5 192.5L1343.8 190.0L1344.0 181.3L1344.3 200.1L1344.6 181.7L1344.8 202.7L1345.1 186.1L1345.4 207.2L1345.6 206.6L1345.9 213.8L1346.2 194.2L1346.5 208.6L1346.7 210.1L1347.0 206.1L1347.3 202.7L1347.5 198.7L1347.8 185.8L1348.1 245.4L1348.3 192.8L1348.6 194.7L1348.9 171.1L1349.2 185.8L1349.4 197.1L1349.7 209.6L1350.0 203.9L1350.2 201.9L1350.5 197.0L1350.8 205.3L1351.0 190.4L1351.3 198.9L1351.6 210.6L1351.9 195.8L1352.1 249.4L1352.4 200.5L1352.7 192.9L1352.9 186.7L1353.2 196.2L1353.5 197.1L1353.7 194.8L1354.0 203.3L1354.3 206.4L1354.6 209.2L1354.8 206.8L1355.1 193.7L1355.4 215.7L1355.6 206.8L1355.9 210.1L1356.2 192.7L1356.4 213.1L1356.7 222.0L1357.0 208.2L1357.3 213.5L1357.5 198.7L1357.8 205.2L1358.1 203.3L1358.3 209.5L1358.6 205.2L1358.9 222.6L1359.1 195.9L1359.4 193.5L1359.7 203.7L1360.0 222.0L1360.2 195.2L1360.5 208.4L1360.8 215.4L1361.0 198.2L1361.3 189.6L1361.6 226.1L1361.8 223.7L1362.1 218.8L1362.4 232.8L1362.6 228.1L1362.9 223.9L1363.2 215.8L1363.5 231.3L1363.7 230.6L1364.0 228.8L1364.3 233.6L1364.5 217.8L1364.8 218.0L1365.1 229.1L1365.3 226.6L1365.6 223.7L1365.9 221.1L1366.2 230.0L1366.4 225.5L1366.7 229.1L1367.0 217.2L1367.2 224.3L1367.5 226.4L1367.8 230.0L1368.0 214.1L1368.3 222.7L1368.6 220.1L1368.9 224.0L1369.1 223.1L1369.4 226.4L1369.7 228.6L1369.9 225.5L1370.2 223.5L1370.5 229.2L1370.7 232.3L1371.0 224.3L1371.3 219.2L1371.6 234.5L1371.8 229.4L1372.1 179.1L1372.4 221.5L1372.6 221.6L1372.9 222.9L1373.2 223.4L1373.4 197.2L1373.7 228.9L1374.0 215.1L1374.3 211.6L1374.5 223.7L1374.8 217.6L1375.1 225.5L1375.3 217.1L1375.6 215.9L1375.9 211.8L1376.1 216.5L1376.4 222.2L1376.7 236.3L1377.0 228.0L1377.2 220.1L1377.5 232.0L1377.8 225.4L1378.0 212.8L1378.3 213.5L1378.6 214.9L1378.8 236.0L1379.1 224.2L1379.4 220.3L1379.7 220.7L1379.9 218.4L1380.2 225.0L1380.5 228.7L1380.7 217.6L1381.0 231.4L1381.3 218.9L1381.5 222.3L1381.8 233.9L1382.1 227.6L1382.4 224.2L1382.6 212.5L1382.9 224.5L1383.2 221.8L1383.4 222.7L1383.7 230.6L1384.0 220.7L1384.2 234.7L1384.5 197.6L1384.8 198.5L1385.1 194.7L1385.3 198.0L1385.6 208.0L1385.9 199.1L1386.1 189.2L1386.4 191.1L1386.7 206.5L1386.9 154.3L1387.2 190.4L1387.5 196.2L1387.8 198.0L1388.0 201.8L1388.3 189.6L1388.6 198.0L1388.8 186.9L1389.1 191.0L1389.4 195.4L1389.6 208.0L1389.9 196.5L1390.2 210.5L1390.5 200.3L1390.7 207.5L1391.0 195.9L1391.3 182.8L1391.5 180.7L1391.8 193.8L1392.1 211.4L1392.3 229.5L1392.6 227.1L1392.9 235.1L1393.2 228.0L1393.4 228.0L1393.7 244.0L1394.0 233.5L1394.2 226.5L1394.5 224.8L1394.8 242.2L1395.0 224.5L1395.3 224.2L1395.6 229.4L1395.9 229.6L1396.1 232.8L1396.4 209.7L1396.7 207.6L1396.9 196.9L1397.2 198.2L1397.5 205.0L1397.7 196.2L1398.0 198.6L1398.3 143.0L1398.6 200.4L1398.8 196.5L1399.1 185.8L1399.4 199.1L1399.6 213.7L1399.9 199.9L1400.2 190.8L1400.4 231.9L1400.7 225.2L1401.0 224.0L1401.3 233.5L1401.5 229.2L1401.8 237.4L1402.1 216.9L1402.3 219.5L1402.6 222.0L1402.9 224.1L1403.1 236.7L1403.4 224.7L1403.7 212.6L1403.9 218.6L1404.2 220.8L1404.5 224.5L1404.8 225.0L1405.0 217.2L1405.3 225.1L1405.6 224.8L1405.8 196.4L1406.1 197.4L1406.4 192.7L1406.6 213.1L1406.9 158.4L1407.2 199.4L1407.5 208.9L1407.7 189.5L1408.0 192.7L1408.3 194.3L1408.5 201.1L1408.8 194.3L1409.1 224.0L1409.3 184.0L1409.6 187.5L1409.9 205.4L1410.2 201.4L1410.4 184.8L1410.7 213.5L1411.0 192.9L1411.2 193.2L1411.5 195.7L1411.8 160.4L1412.0 193.8L1412.3 196.9L1412.6 204.0L1412.9 205.2L1413.1 191.2L1413.4 195.7L1413.7 190.6L1413.9 193.4L1414.2 196.3L1414.5 194.4L1414.7 202.4L1415.0 234.7L1415.3 200.6L1415.6 203.7L1415.8 194.4L1416.1 194.3L1416.4 202.5L1416.6 193.9L1416.9 194.3L1417.2 199.0L1417.4 179.1L1417.7 203.3L1418.0 199.3L1418.3 202.3L1418.5 185.1L1418.8 193.5L1419.1 201.1L1419.3 202.1L1419.6 192.0L1419.9 193.2L1420.1 210.6L1420.4 226.7L1420.7 236.8L1421.0 210.1L1421.2 228.4L1421.5 218.3L1421.8 218.8L1422.0 237.1L1422.3 244.0L1422.6 214.2L1422.8 216.8L1423.1 221.5L1423.4 224.3L1423.7 228.3L1423.9 236.9L1424.2 228.8L1424.5 242.3L1424.7 235.0L1425.0 229.6L1425.3 222.5L1425.5 238.2L1425.8 220.9L1426.1 234.2L1426.4 224.3L1426.6 218.2L1426.9 230.8L1427.2 232.0L1427.4 227.2L1427.7 235.3L1428.0 225.2L1428.2 216.4L1428.5 224.8L1428.8 243.3L1429.1 214.0L1429.3 205.2L1429.6 224.0L1429.9 184.2L1430.1 204.9L1430.4 194.6L1430.7 185.1L1430.9 192.7L1431.2 185.0L1431.5 197.4L1431.8 201.3L1432.0 203.8L1432.3 202.4L1432.6 193.1L1432.8 203.5L1433.1 197.5L1433.4 182.0L1433.6 205.1L1433.9 185.5L1434.2 188.0L1434.5 179.6L1434.7 186.0L1435.0 175.1L1435.3 182.4L1435.5 185.9L1435.8 182.8L1436.1 189.8L1436.3 200.1L1436.6 216.6L1436.9 197.0L1437.2 132.9L1437.4 187.9L1437.7 206.1L1438.0 192.8L1438.2 192.7L1438.5 196.3L1438.8 205.0L1439.0 182.6L1439.3 201.3L1439.6 189.0L1439.9 194.0L1440.1 184.3L1440.4 175.1L1440.7 237.3L1440.9 147.3L1441.2 219.6L1441.5 220.7L1441.7 242.0L1442.0 227.7L1442.3 244.2L1442.5 226.9L1442.8 214.5L1443.1 233.9L1443.4 220.8L1443.6 215.4L1443.9 231.1L1444.2 227.9L1444.4 229.4L1444.7 233.7L1445.0 242.0L1445.2 211.5L1445.5 229.4L1445.8 237.1L1446.1 201.4L1446.3 181.4L1446.6 174.5L1446.9 180.8L1447.1 193.9L1447.4 188.7L1447.7 197.7L1447.9 229.3L1448.2 119.1L1448.5 180.8L1448.8 188.4L1449.0 197.8L1449.3 203.5L1449.6 181.7L1449.8 194.4L1450.1 189.9L1450.4 180.3L1450.6 180.2L1450.9 204.2L1451.2 186.7L1451.5 189.7L1451.7 194.5L1452.0 113.5L1452.3 196.6L1452.5 183.4L1452.8 187.1L1453.1 192.7L1453.3 231.3L1453.6 184.1L1453.9 175.6L1454.2 198.1L1454.4 197.9L1454.7 198.8L1455.0 189.5L1455.2 174.8L1455.5 187.0L1455.8 208.2L1456.0 193.2L1456.3 192.7L1456.6 176.2L1456.9 184.8L1457.1 199.1L1457.4 193.4L1457.7 189.3L1457.9 201.5L1458.2 196.7L1458.5 195.3L1458.7 189.0L1459.0 194.2L1459.3 199.6L1459.6 193.3L1459.8 179.5L1460.1 188.9L1460.4 188.1L1460.6 228.0L1460.9 201.6L1461.2 189.9L1461.4 186.7L1461.7 197.0L1462.0 194.6L1462.3 155.7L1462.5 194.6L1462.8 192.2L1463.1 193.5L1463.3 177.1L1463.6 173.2L1463.9 177.3L1464.1 175.7L1464.4 199.0L1464.7 199.2L1465.0 179.2L1465.2 203.3L1465.5 180.6L1465.8 183.4L1466.0 141.4L1466.3 228.0L1466.6 196.7L1466.8 197.7L1467.1 200.2L1467.4 196.3L1467.7 192.7L1467.9 204.0L1468.2 189.8L1468.5 191.4L1468.7 201.9L1469.0 195.7L1469.3 197.3L1469.5 208.7L1469.8 212.1L1470.1 203.6L1470.4 197.6L1470.6 232.7L1470.9 195.3L1471.2 195.5L1471.4 194.9L1471.7 197.8L1472.0 196.7L1472.2 207.6L1472.5 186.7L1472.8 195.1L1473.1 205.4L1473.3 195.2L1473.6 195.1L1473.9 203.2L1474.1 197.9L1474.4 190.5L1474.7 238.7L1474.9 203.9L1475.2 184.4L1475.5 206.2L1475.8 184.2L1476.0 204.4L1476.3 187.6L1476.6 200.5L1476.8 219.1L1477.1 225.9L1477.4 218.8L1477.6 216.6L1477.9 214.6L1478.2 220.7L1478.5 217.8L1478.7 224.9L1479.0 222.0L1479.3 227.3L1479.5 223.9L1479.8 220.5L1480.1 218.9L1480.3 223.3L1480.6 224.2L1480.9 210.8L1481.2 221.9L1481.4 217.1L1481.7 221.4L1482.0 224.4L1482.2 207.1L1482.5 218.6L1482.8 225.7L1483.0 208.3L1483.3 220.8L1483.6 193.4L1483.8 187.4L1484.1 202.6L1484.4 202.9L1484.7 193.6L1484.9 207.9L1485.2 208.5L1485.5 195.4L1485.7 202.0L1486.0 202.4L1486.3 211.2L1486.5 201.7L1486.8 200.5L1487.1 194.6L1487.4 200.9L1487.6 209.7L1487.9 192.6L1488.2 192.3L1488.4 183.4L1488.7 172.4L1489.0 189.4L1489.2 188.2L1489.5 187.5L1489.8 205.7L1490.1 197.1L1490.3 172.4L1490.6 194.9L1490.9 212.4L1491.1 193.0L1491.4 194.7L1491.7 214.6L1491.9 191.0L1492.2 191.3L1492.5 200.1L1492.8 214.6L1493.0 198.0L1493.3 176.7L1493.6 192.0L1493.8 191.3L1494.1 229.3L1494.4 189.8L1494.6 194.9L1494.9 180.3L1495.2 180.4L1495.5 194.1L1495.7 210.5L1496.0 183.5L1496.3 177.1L1496.5 205.8L1496.8 197.6L1497.1 201.8L1497.3 191.8L1497.6 196.1L1497.9 192.6L1498.2 193.6L1498.4 212.1L1498.7 189.4L1499.0 189.5L1499.2 193.7L1499.5 195.5L1499.8 217.9L1500.0 226.6L1500.3 202.4L1500.6 183.0L1500.9 204.2L1501.1 205.4L1501.4 205.6L1501.7 178.5L1501.9 190.3L1502.2 172.5L1502.5 217.6L1502.7 196.5L1503.0 238.0L1503.3 220.7L1503.6 203.0L1503.8 189.8L1504.1 193.1L1504.4 201.1L1504.6 179.2L1504.9 205.9L1505.2 206.6L1505.4 201.8L1505.7 192.6L1506.0 197.7L1506.3 182.1L1506.5 187.3L1506.8 191.3L1507.1 188.8L1507.3 208.1L1507.6 198.5L1507.9 178.0L1508.1 204.0L1508.4 198.8L1508.7 193.0L1509.0 189.1L1509.2 211.0L1509.5 196.7L1509.8 197.0L1510.0 182.1L1510.3 190.2L1510.6 202.0L1510.8 195.9L1511.1 191.2L1511.4 192.4L1511.7 182.1L1511.9 178.0L1512.2 177.1L1512.5 183.2L1512.7 239.4L1513.0 197.3L1513.3 202.2L1513.5 192.0L1513.8 203.6L1514.1 195.2L1514.4 201.5L1514.6 237.2L1514.9 211.2L1515.2 236.8L1515.4 218.9L1515.7 220.9L1516.0 217.1L1516.2 211.9L1516.5 227.4L1516.8 185.8L1517.1 234.0L1517.3 216.3L1517.6 226.4L1517.9 231.7L1518.1 227.2L1518.4 209.1L1518.7 241.0L1518.9 214.5L1519.2 213.6L1519.5 223.0L1519.8 223.8L1520.0 216.3L1520.3 209.0L1520.6 209.8L1520.8 237.4L1521.1 203.5L1521.4 232.5L1521.6 227.9L1521.9 223.7L1522.2 223.6L1522.5 213.2L1522.7 216.2L1523.0 230.2L1523.3 216.6L1523.5 236.9L1523.8 231.4L1524.1 228.2L1524.3 219.3L1524.6 212.7L1524.9 182.2L1525.1 150.3L1525.4 179.2L1525.7 179.4L1526.0 176.6L1526.2 199.8L1526.5 172.1L1526.8 234.0L1527.0 200.3L1527.3 187.7L1527.6 191.0L1527.8 175.7L1528.1 188.7L1528.4 202.2L1528.7 184.5L1528.9 190.1L1529.2 200.9L1529.5 192.4L1529.7 201.1L1530.0 167.9L1530.3 160.3L1530.5 168.9L1530.8 190.1L1531.1 175.0L1531.4 156.8L1531.6 124.6L1531.9 202.1L1532.2 176.9L1532.4 175.2L1532.7 174.7L1533.0 203.9L1533.2 201.7L1533.5 199.2L1533.8 209.1L1534.1 191.5L1534.3 188.5L1534.6 198.1L1534.9 197.7L1535.1 198.9L1535.4 201.4L1535.7 185.7L1535.9 177.1L1536.2 183.8L1536.5 200.8L1536.8 227.3L1537.0 204.7L1537.3 199.9L1537.6 191.5L1537.8 196.5L1538.1 187.1L1538.4 196.8L1538.6 196.2L1538.9 236.0L1539.2 214.3L1539.5 193.3L1539.7 202.4L1540.0 208.6L1540.3 197.8L1540.5 194.8L1540.8 189.1L1541.1 192.2L1541.3 192.3L1541.6 196.8L1541.9 204.4L1542.2 199.6L1542.4 210.1L1542.7 201.3L1543.0 200.0L1543.2 181.4L1543.5 196.8L1543.8 238.0L1544.0 216.7L1544.3 226.5L1544.6 221.4L1544.9 224.5L1545.1 225.3L1545.4 223.1L1545.7 224.3L1545.9 226.8L1546.2 226.0L1546.5 218.5L1546.7 229.5L1547.0 222.8L1547.3 224.7L1547.6 234.1L1547.8 233.2L1548.1 235.3L1548.4 218.5L1548.6 222.7L1548.9 222.8L1549.2 219.6L1549.4 217.3L1549.7 224.0L1550.0 225.7L1550.3 231.7L1550.5 212.8L1550.8 219.5L1551.1 210.3L1551.3 213.3L1551.6 199.8L1551.9 195.2L1552.1 163.3L1552.4 178.3L1552.7 161.6L1553.0 174.4L1553.2 168.3L1553.5 159.0L1553.8 168.1L1554.0 175.3L1554.3 176.2L1554.6 160.2L1554.8 182.9L1555.1 174.5L1555.4 221.3L1555.7 114.3L1555.9 123.3L1556.2 115.2L1556.5 112.4L1556.7 126.9L1557.0 111.2L1557.3 119.7L1557.5 112.7L1557.8 104.5L1558.1 179.1L1558.4 171.8L1558.6 178.9L1558.9 170.4L1559.2 182.8L1559.4 169.0L1559.7 183.8L1560.0 181.7L1560.2 117.7L1560.5 114.4L1560.8 119.9L1561.1 125.7L1561.3 117.9L1561.6 119.0L1561.9 113.5L1562.1 113.2L1562.4 115.2L1562.7 182.7L1562.9 182.3L1563.2 170.9L1563.5 219.3L1563.8 108.2L1564.0 112.7L1564.3 114.3L1564.6 124.3L1564.8 124.4L1565.1 115.9L1565.4 184.4L1565.6 176.3L1565.9 184.6L1566.2 176.6L1566.4 179.2L1566.7 168.6L1567.0 175.5L1567.3 177.3L1567.5 175.5L1567.8 169.8L1568.1 179.1L1568.3 181.8L1568.6 121.6L1568.9 112.2L1569.1 126.5L1569.4 112.0L1569.7 173.2L1570.0 167.7L1570.3 175.3L1570.5 172.0L1570.8 174.2L1571.1 178.4L1571.3 169.0L1571.6 173.2L1571.9 169.5L1572.2 178.7L1572.4 177.2L1572.7 118.7L1573.0 104.6L1573.2 123.7L1573.5 194.5L1573.8 106.9L1574.0 198.1L1574.3 103.6L1574.6 118.5L1574.9 106.4L1575.1 115.7L1575.4 220.7L1575.7 103.0L1575.9 120.9L1576.2 117.0L1576.5 106.4L1576.7 117.3L1577.0 103.1L1577.3 93.5L1577.6 106.4L1577.8 118.6L1578.1 118.7L1578.4 103.9L1578.6 114.9L1578.9 117.2L1579.2 111.2L1579.4 128.4L1579.7 102.3L1580.0 123.2L1580.3 124.5L1580.5 111.1L1580.8 105.4L1581.1 122.3L1581.3 98.7L1581.6 113.3L1581.9 103.3L1582.1 113.5L1582.4 109.5L1582.7 104.2L1583.0 117.6L1583.2 122.0L1583.5 103.7L1583.8 118.3L1584.0 114.3L1584.3 108.7L1584.6 189.2L1584.8 117.6L1585.1 121.7L1585.4 111.5L1585.7 98.7L1585.9 119.3L1586.2 116.5L1586.5 99.5L1586.7 109.8L1587.0 113.5L1587.3 111.5L1587.5 115.7L1587.8 107.1L1588.1 118.2L1588.4 98.7L1588.6 116.1L1588.9 190.8L1589.2 195.3L1589.4 202.1L1589.7 200.8L1590.0 205.3L1590.2 204.3L1590.5 205.9L1590.8 206.6L1591.1 213.8L1591.3 220.5L1591.6 214.0L1591.9 196.1L1592.1 209.6L1592.4 225.0L1592.7 232.7L1592.9 200.5L1593.2 210.9L1593.5 209.2L1593.8 206.4L1594.0 222.4L1594.3 223.7L1594.6 199.4L1594.8 218.0L1595.1 213.1L1595.4 230.0L1595.6 225.9L1595.9 214.0L1596.2 201.4L1596.5 213.5L1596.7 211.7L1597.0 225.0L1597.3 209.1L1597.5 212.4L1597.8 223.4L1598.1 208.8L1598.3 175.2L1598.6 173.9L1598.9 166.6L1599.2 172.3L1599.4 169.1L1599.7 167.8L1600.0 181.0L1600.2 174.6L1600.5 166.2L1600.8 179.9L1601.0 183.9L1601.3 176.6L1601.6 169.5L1601.9 179.4L1602.1 174.6L1602.4 178.9L1602.7 110.2L1602.9 98.8L1603.2 108.2L1603.5 100.5L1603.7 216.6L1604.0 172.7L1604.3 168.7L1604.6 176.3L1604.8 176.0L1605.1 176.4L1605.4 178.0L1605.6 171.4L1605.9 104.2L1606.2 167.0L1606.4 169.9L1606.7 108.6L1607.0 111.0L1607.3 112.7L1607.5 113.6L1607.8 110.2L1608.1 117.0L1608.3 205.4L1608.6 199.6L1608.9 186.9L1609.1 201.0L1609.4 200.1L1609.7 207.2L1610.0 185.5L1610.2 198.2L1610.5 212.0L1610.8 214.5L1611.0 205.4L1611.3 193.8L1611.6 218.1L1611.8 208.0L1612.1 209.8L1612.4 214.6L1612.6 205.6L1612.9 114.2L1613.2 140.2L1613.5 101.5L1613.7 143.1L1614.0 126.5L1614.3 109.7L1614.5 106.2L1614.8 113.3L1615.1 99.6L1615.3 109.1L1615.6 124.7L1615.9 142.7L1616.2 98.2L1616.4 116.7L1616.7 149.9L1617.0 220.7L1617.2 135.0L1617.5 133.3L1617.8 211.3L1618.0 206.3L1618.3 210.1L1618.6 212.1L1618.9 219.4L1619.1 211.2L1619.4 214.2L1619.7 216.8L1619.9 230.0L1620.2 217.7L1620.5 204.7L1620.7 199.1L1621.0 207.9L1621.3 209.1L1621.6 165.7L1621.8 158.0L1622.1 176.3L1622.4 161.7L1622.6 164.4L1622.9 133.0L1623.2 168.4L1623.4 163.1L1623.7 160.7L1624.0 175.9L1624.3 168.7L1624.5 162.2L1624.8 176.6L1625.1 163.6L1625.3 164.7L1625.6 165.9L1625.9 171.0L1626.1 170.9L1626.4 203.9L1626.7 212.2L1627.0 199.7L1627.2 205.3L1627.5 211.7L1627.8 212.3L1628.0 216.8L1628.3 215.5L1628.6 220.1L1628.8 213.5L1629.1 207.9L1629.4 223.6L1629.7 212.3L1629.9 216.6L1630.2 213.0L1630.5 107.0L1630.7 93.4L1631.0 106.6L1631.3 106.9L1631.5 107.2L1631.8 166.1L1632.1 152.2L1632.4 188.5L1632.6 157.3L1632.9 96.8L1633.2 153.8L1633.4 164.8L1633.7 155.3L1634.0 159.5L1634.2 160.5L1634.5 152.4L1634.8 157.5L1635.1 152.5L1635.3 99.0L1635.6 100.8L1635.9 93.4L1636.1 95.0L1636.4 93.1L1636.7 108.5L1636.9 104.5L1637.2 99.1L1637.5 101.4L1637.8 103.9L1638.0 102.6L1638.3 156.8L1638.6 162.0L1638.8 164.4L1639.1 158.6L1639.4 164.7L1639.6 218.0L1639.9 157.2L1640.2 162.2L1640.5 158.9L1640.7 152.1L1641.0 165.4L1641.3 94.0L1641.5 105.0L1641.8 95.9L1642.1 154.8L1642.3 92.1L1642.6 166.2L1642.9 101.9L1643.2 107.3L1643.4 96.4L1643.7 204.6L1644.0 183.4L1644.2 171.4L1644.5 180.0L1644.8 172.5L1645.0 162.9L1645.3 174.2L1645.6 177.3L1645.9 165.4L1646.1 172.5L1646.4 172.0L1646.7 179.5L1646.9 174.8L1647.2 162.9L1647.5 168.6L1647.7 172.0L1648.0 171.6L1648.3 175.3L1648.6 171.4L1648.8 175.1L1649.1 169.9L1649.4 180.6L1649.6 179.5L1649.9 220.7L1650.2 176.5L1650.4 173.9L1650.7 170.5L1651.0 171.1L1651.3 184.0L1651.5 180.3L1651.8 174.0L1652.1 169.8L1652.3 170.4L1652.6 168.6L1652.9 170.9L1653.1 169.0L1653.4 173.2L1653.7 91.5L1653.9 97.1L1654.2 103.8L1654.5 108.9L1654.8 94.5L1655.0 101.0L1655.3 114.8L1655.6 113.6L1655.8 102.4L1656.1 106.8L1656.4 111.8L1656.6 116.4L1656.9 103.8L1657.2 110.5L1657.5 111.8L1657.7 107.1L1658.0 100.1L1658.3 90.8L1658.5 197.9L1658.8 102.6L1659.1 183.4L1659.3 163.5L1659.6 173.7L1659.9 172.8L1660.2 161.5L1660.4 166.5L1660.7 183.8L1661.0 170.4L1661.2 172.9L1661.5 174.5L1661.8 164.5L1662.0 171.5L1662.3 170.0L1662.6 173.7L1662.9 173.0L1663.1 170.3L1663.4 174.3L1663.7 166.7L1663.9 183.0L1664.2 174.5L1664.5 179.4L1664.7 181.7L1665.0 164.5L1665.3 169.2L1665.6 179.7L1665.8 181.9L1666.1 176.0L1666.4 174.9L1666.6 166.4L1666.9 185.4L1667.2 174.5L1667.4 181.2L1667.7 166.9L1668.0 172.4L1668.3 182.1L1668.5 174.9L1668.8 167.5L1669.1 168.9L1669.3 170.3L1669.6 178.4L1669.9 166.3L1670.1 173.5L1670.4 168.2L1670.7 179.9L1671.0 174.5L1671.2 168.8L1671.5 172.3L1671.8 174.6L1672.0 169.6L1672.3 207.3L1672.6 183.6L1672.8 174.3L1673.1 166.0L1673.4 178.5L1673.7 160.4L1673.9 171.1L1674.2 176.9L1674.5 213.7L1674.7 210.3L1675.0 210.7L1675.3 209.3L1675.5 214.2L1675.8 210.6L1676.1 213.5L1676.4 216.6L1676.6 213.9L1676.9 212.0L1677.2 197.4L1677.4 205.0L1677.7 199.6L1678.0 200.8L1678.2 198.7L1678.5 180.1L1678.8 176.3L1679.1 175.7L1679.3 172.1L1679.6 162.0L1679.9 181.5L1680.1 188.3L1680.4 169.0L1680.7 165.9L1680.9 173.0L1681.2 164.5L1681.5 182.0L1681.8 184.6L1682.0 162.7L1682.3 183.9L1682.6 183.1L1682.8 172.9L1683.1 173.4L1683.4 164.6L1683.6 218.0L1683.9 120.6L1684.2 116.8L1684.5 127.7L1684.7 109.4L1685.0 121.8L1685.3 130.0L1685.5 106.7L1685.8 113.1L1686.1 103.1L1686.3 116.9L1686.6 114.9L1686.9 105.7L1687.2 107.4L1687.4 114.8L1687.7 100.8L1688.0 126.8L1688.2 127.9L1688.5 111.0L1688.8 101.7L1689.0 119.2L1689.3 100.4L1689.6 118.1L1689.9 107.8L1690.1 121.6L1690.4 106.5L1690.7 106.8L1690.9 99.5L1691.2 115.9L1691.5 120.2L1691.7 122.6L1692.0 112.3L1692.3 111.4L1692.5 211.9L1692.8 208.5L1693.1 208.6L1693.4 217.5L1693.6 216.7L1693.9 207.2L1694.2 208.6L1694.4 220.7L1694.7 219.7L1695.0 212.2L1695.2 205.8L1695.5 215.1L1695.8 217.9L1696.1 207.1L1696.3 212.3L1696.6 124.2L1696.9 111.5L1697.1 104.9L1697.4 116.7L1697.7 113.8L1697.9 117.1L1698.2 181.1L1698.5 176.4L1698.8 182.4L1699.0 181.4L1699.3 174.8L1699.6 172.1L1699.8 182.5L1700.1 122.8L1700.4 126.1L1700.6 214.6L1700.9 112.2L1701.2 111.5L1701.5 125.7L1701.7 109.8L1702.0 183.9L1702.3 181.1L1702.5 172.5L1702.8 178.4L1703.1 171.1L1703.3 171.8L1703.6 178.1L1703.9 222.7L1704.2 171.3L1704.4 167.0L1704.7 179.4L1705.0 175.0L1705.2 175.8L1705.5 170.0L1705.8 170.6L1706.0 174.7L1706.3 164.5L1706.6 181.7L1706.9 175.1L1707.1 181.0L1707.4 180.3L1707.7 171.8L1707.9 91.7L1708.2 95.1L1708.5 97.3L1708.7 88.1L1709.0 93.6L1709.3 133.0L1709.6 136.9L1709.8 142.5L1710.1 138.3L1710.4 142.9L1710.6 134.7L1710.9 135.9L1711.2 141.6L1711.4 140.4L1711.7 91.1L1712.0 96.6L1712.3 92.6L1712.5 92.1L1712.8 95.5L1713.1 136.8L1713.3 132.4L1713.6 137.3L1713.9 140.0L1714.1 132.9L1714.4 136.5L1714.7 141.0L1715.0 131.1L1715.2 208.6L1715.5 97.1L1715.8 93.1L1716.0 94.6L1716.3 98.0L1716.6 99.6L1716.8 96.4L1717.1 90.8L1717.4 89.5L1717.7 92.9L1717.9 93.1L1718.2 93.2L1718.5 132.9L1718.7 132.7L1719.0 141.1L1719.3 90.8L1719.5 137.3L1719.8 135.8L1720.1 142.0L1720.4 138.5L1720.6 188.9L1720.9 186.5L1721.2 139.0L1721.4 138.3L1721.7 145.0L1722.0 144.7L1722.2 148.3L1722.5 141.9L1722.8 136.0L1723.1 143.0L1723.3 148.0L1723.6 143.2L1723.9 198.6L1724.1 203.3L1724.4 212.2L1724.7 198.5L1724.9 219.6L1725.2 226.0L1725.5 198.9L1725.8 215.4L1726.0 200.0L1726.3 221.4L1726.6 220.2L1726.8 214.5L1727.1 218.9L1727.4 207.4L1727.6 210.2L1727.9 205.6L1728.2 204.0L1728.5 212.1L1728.7 205.7L1729.0 204.8L1729.3 201.9L1729.5 214.2L1729.8 210.3L1730.1 169.8L1730.3 177.9L1730.6 99.5L1730.9 180.7L1731.2 167.3L1731.4 168.1L1731.7 170.9L1732.0 170.0L1732.2 106.3L1732.5 112.5L1732.8 117.9L1733.0 111.5L1733.3 106.6L1733.6 100.8L1733.8 166.4L1734.1 211.3L1734.4 167.2L1734.7 174.8L1734.9 179.5L1735.2 170.7L1735.5 167.1L1735.7 175.6L1736.0 169.3L1736.3 173.2L1736.5 112.5L1736.8 110.1L1737.1 108.4L1737.4 107.6L1737.6 109.6L1737.9 106.9L1738.2 111.8L1738.4 114.9L1738.7 181.9L1739.0 171.4L1739.2 183.3L1739.5 166.3L1739.8 172.6L1740.1 177.6L1740.3 185.9L1740.6 168.8L1740.9 177.9L1741.1 174.2L1741.4 166.4L1741.7 175.1L1741.9 184.1L1742.2 170.5L1742.5 184.6L1742.8 166.3L1743.0 182.2L1743.3 180.3L1743.6 137.7L1743.8 134.4L1744.1 92.1L1744.4 138.2L1744.6 138.9L1744.9 134.1L1745.2 135.0L1745.5 91.6L1745.7 96.1L1746.0 93.1L1746.3 94.3L1746.5 92.6L1746.8 96.8L1747.1 89.0L1747.3 86.4L1747.6 90.6L1747.9 86.0L1748.2 88.0L1748.4 91.9L1748.7 92.1L1749.0 138.3L1749.2 134.2L1749.5 139.4L1749.8 89.9L1750.0 98.7L1750.3 87.8L1750.6 139.0L1750.9 138.5L1751.1 138.4L1751.4 96.1L1751.7 90.8L1751.9 89.4L1752.2 86.8L1752.5 92.3L1752.7 146.7L1753.0 134.1L1753.3 212.0L1753.6 96.9L1753.8 95.2L1754.1 97.2L1754.4 87.5L1754.6 81.4L1754.9 134.2L1755.2 135.3L1755.4 141.8L1755.7 141.3L1756.0 143.4L1756.3 145.3L1756.5 145.0L1756.8 95.1L1757.1 90.5L1757.3 92.3L1757.6 100.6L1757.9 98.3L1758.1 97.0L1758.4 94.0L1758.7 92.5L1759.0 92.8L1759.2 161.8L1759.5 163.7L1759.8 153.5L1760.0 89.5L1760.3 164.5L1760.6 157.6L1760.8 150.6L1761.1 162.8L1761.4 152.5L1761.7 154.8L1761.9 165.8L1762.2 107.8L1762.5 95.4L1762.7 99.3L1763.0 103.4L1763.3 103.3L1763.5 103.0L1763.8 162.3L1764.1 153.7L1764.4 161.6L1764.6 153.0L1764.9 154.4L1765.2 163.4L1765.4 152.8L1765.7 157.2L1766.0 152.2L1766.2 87.8L1766.5 89.4L1766.8 79.3L1767.1 105.5L1767.3 83.9L1767.6 94.2L1767.9 96.7L1768.1 92.5L1768.4 98.9L1768.7 97.3L1768.9 93.9L1769.2 95.0L1769.5 98.4L1769.8 100.2L1770.0 88.2L1770.3 86.8L1770.6 89.3L1770.8 96.5L1771.1 83.0L1771.4 88.8L1771.6 94.1L1771.9 94.4L1772.2 87.6L1772.5 87.5L1772.7 89.3L1773.0 87.8L1773.3 93.6L1773.5 93.0L1773.8 96.7L1774.1 84.8L1774.3 97.8L1774.6 92.2L1774.9 88.2L1775.1 87.9L1775.4 91.8L1775.7 90.9L1776.0 82.7L1776.2 90.0L1776.5 99.0L1776.8 105.5L1777.0 88.0L1777.3 90.4L1777.6 91.5L1777.8 89.8L1778.1 86.1L1778.4 79.7L1778.7 90.5L1778.9 90.3L1779.2 103.3L1779.5 96.5L1779.7 94.6L1780.0 87.0L1780.3 102.7L1780.5 86.0L1780.8 102.6L1781.1 100.3L1781.4 97.5L1781.6 92.0L1781.9 92.7L1782.2 96.0L1782.4 89.4L1782.7 91.5L1783.0 96.0L1783.2 117.6L1783.5 88.8L1783.8 85.7L1784.1 99.1L1784.3 87.1L1784.6 79.9L1784.9 91.7L1785.1 84.5L1785.4 88.6L1785.7 97.1L1785.9 102.3L1786.2 86.2L1786.5 86.0L1786.8 99.1L1787.0 90.9L1787.3 91.2L1787.6 87.4L1787.8 85.3L1788.1 98.9L1788.4 90.2L1788.6 105.5L1788.9 101.3L1789.2 90.9L1789.5 90.4L1789.7 86.1L1790.0 93.3L1790.3 78.0L1790.5 82.9L1790.8 93.7L1791.1 88.5L1791.3 87.2L1791.6 95.6L1791.9 92.7L1792.2 77.4L1792.4 89.9L1792.7 94.8L1793.0 87.2L1793.2 95.0L1793.5 76.1L1793.8 94.2L1794.0 96.0L1794.3 81.1L1794.6 92.2L1794.9 94.8L1795.1 94.1L1795.4 83.3L1795.7 93.0L1795.9 96.0L1796.2 100.4L1796.5 144.6L1796.7 151.2L1797.0 166.4L1797.3 155.2L1797.6 164.4L1797.8 161.9L1798.1 157.0L1798.4 162.9L1798.6 166.5L1798.9 162.2L1799.2 154.9L1799.4 153.4L1799.7 160.2L1800.0 170.9L1800.3 199.9L1800.5 154.5L1800.8 158.1L1801.1 170.9L1801.3 156.2L1801.6 150.2L1801.9 144.4L1802.1 90.3L1802.4 87.4L1802.7 81.4L1803.0 94.5L1803.2 93.3L1803.5 78.7L1803.8 81.1L1804.0 88.2L1804.3 80.3L1804.6 152.0L1804.8 143.2L1805.1 152.5L1805.4 143.6L1805.7 88.8L1805.9 97.2L1806.2 99.2L1806.5 91.3L1806.7 89.5L1807.0 97.6L1807.3 90.1L1807.5 95.5L1807.8 87.0L1808.1 101.6L1808.4 88.3L1808.6 95.6L1808.9 103.8L1809.2 94.5L1809.4 89.7L1809.7 96.9L1810.0 102.5L1810.2 76.6L1810.5 88.9L1810.8 90.6L1811.1 97.8L1811.3 80.9L1811.6 97.4L1811.9 92.1L1812.1 95.6L1812.4 157.6L1812.7 170.3L1812.9 174.6L1813.2 163.9L1813.5 166.5L1813.8 157.4L1814.0 151.6L1814.3 162.8L1814.6 162.0L1814.8 167.0L1815.1 163.6L1815.4 155.8L1815.6 151.6L1815.9 169.3L1816.2 168.6L1816.4 162.5L1816.7 161.9L1817.0 167.1L1817.3 160.3L1817.5 156.1L1817.8 207.3L1818.1 155.5L1818.3 161.0L1818.6 170.4L1818.9 165.9L1819.1 169.3L1819.4 171.5L1819.7 164.3L1820.0 148.4L1820.3 146.6L1820.5 143.8L1820.8 164.7L1821.1 148.7L1821.4 158.3L1821.6 159.9L1821.9 161.7L1822.2 159.0L1822.4 168.6L1822.7 161.7L1823.0 167.1L1823.2 158.6L1823.5 84.9L1823.8 160.4L1824.1 162.8L1824.3 165.0L1824.6 155.6L1824.9 163.8L1825.1 174.2L1825.4 143.8L1825.7 163.9L1825.9 158.4L1826.2 157.6L1826.5 154.8L1826.8 150.5L1827.0 212.3L1827.3 153.9L1827.6 170.9L1827.8 161.6L1828.1 172.1L1828.4 160.1L1828.6 148.6L1828.9 162.4L1829.2 160.8L1829.5 99.0L1829.7 82.7L1830.0 94.7L1830.3 102.4L1830.5 94.7L1830.8 83.0L1831.1 84.9L1831.3 97.0L1831.6 102.0L1831.9 97.4L1832.2 88.7L1832.4 204.6L1832.7 170.8L1833.0 173.6L1833.2 165.9L1833.5 172.7L1833.8 155.4L1834.0 159.4L1834.3 170.3L1834.6 175.8L1834.9 100.5L1835.1 98.3L1835.4 88.7L1835.7 95.1L1835.9 103.5L1836.2 87.4L1836.5 98.9L1836.7 105.8L1837.0 88.1L1837.3 85.8L1837.6 91.9L1837.8 97.4L1838.1 100.4L1838.4 94.2L1838.6 101.8L1838.9 94.5L1839.2 88.4L1839.4 103.1L1839.7 97.4L1840.0 150.0L1840.3 140.9L1840.5 136.9L1840.8 176.0L1841.1 162.9L1841.3 147.7L1841.6 143.7L1841.9 148.9L1842.1 161.7L1842.4 161.7L1842.7 167.6L1843.0 148.1L1843.2 170.2L1843.5 171.0L1843.8 160.2L1844.0 165.9L1844.3 171.7L1844.6 159.8L1844.8 92.6L1845.1 100.3L1845.4 99.5L1845.7 101.3L1845.9 108.6L1846.2 97.7L1846.5 96.1L1846.7 104.3L1847.0 97.6L1847.3 90.5L1847.5 99.2L1847.8 103.0L1848.1 88.3L1848.4 106.9L1848.6 108.2L1848.9 91.2L1849.2 98.8L1849.4 99.6L1849.7 100.6L1850.0 99.0L1850.2 125.2L1850.5 123.1L1850.8 128.6L1851.1 135.0L1851.3 124.9L1851.6 136.3L1851.9 209.1L1852.1 206.5L1852.4 206.9L1852.7 196.0L1852.9 208.5L1853.2 200.6L1853.5 207.9L1853.8 203.5L1854.0 210.6L1854.3 203.0L1854.6 207.1L1854.8 199.7L1855.1 220.1L1855.4 217.0L1855.6 192.3L1855.9 209.6L1856.2 214.4L1856.5 208.7L1856.7 216.8L1857.0 130.5L1857.3 205.0L1857.5 196.3L1857.8 202.4L1858.1 196.1L1858.3 208.6L1858.6 198.6L1858.9 212.3L1859.2 199.6L1859.4 204.7L1859.7 198.2L1860.0 204.9L1860.2 215.4L1860.5 198.3L1860.8 199.4L1861.0 197.2L1861.3 201.6L1861.6 203.3L1861.9 208.7L1862.1 206.5L1862.4 205.2L1862.7 205.3L1862.9 210.5L1863.2 200.1L1863.5 211.2L1863.7 197.0L1864.0 207.2L1864.3 205.8L1864.6 202.6L1864.8 206.8L1865.1 194.0L1865.4 196.2L1865.6 206.6L1865.9 199.9L1866.2 207.4L1866.4 214.6L1866.7 207.3L1867.0 207.4L1867.3 209.0L1867.5 193.0L1867.8 206.7L1868.1 206.2L1868.3 202.5L1868.6 207.7L1868.9 204.5L1869.1 202.1L1869.4 215.9L1869.7 213.5L1870.0 211.9L1870.2 211.9L1870.5 201.7L1870.8 202.5L1871.0 206.8L1871.3 201.6L1871.6 201.4L1871.8 116.4L1872.1 108.2L1872.4 113.1L1872.7 115.7L1872.9 101.5L1873.2 179.9L1873.5 79.9L1873.7 90.6L1874.0 90.3L1874.3 79.1L1874.5 92.7L1874.8 89.2L1875.1 76.7L1875.4 93.8L1875.6 107.2L1875.9 101.8L1876.2 88.9L1876.4 77.9L1876.7 86.4L1877.0 93.2L1877.2 96.2L1877.5 74.9L1877.8 87.6L1878.1 80.3L1878.3 105.9L1878.6 92.2L1878.9 157.6L1879.1 170.4L1879.4 162.6L1879.7 149.4L1879.9 159.0L1880.2 162.1L1880.5 155.4L1880.8 170.1L1881.0 160.1L1881.3 164.1L1881.6 156.7L1881.8 93.8L1882.1 93.6L1882.4 100.1L1882.6 91.8L1882.9 101.2L1883.2 93.2L1883.5 92.3L1883.7 96.4L1884.0 84.9L1884.3 93.3L1884.5 88.5L1884.8 92.9L1885.1 94.6L1885.3 96.7L1885.6 94.4L1885.9 98.1L1886.2 84.6L1886.4 96.1L1886.7 93.7L1887.0 97.5L1887.2 93.5L1887.5 84.6L1887.8 94.5L1888.0 165.6L1888.3 157.7L1888.6 161.1L1888.9 167.2L1889.1 164.7L1889.4 159.9L1889.7 164.9L1889.9 162.5L1890.2 152.3L1890.5 150.5L1890.7 155.8L1891.0 159.1L1891.3 145.6L1891.6 163.1L1891.8 159.2L1892.1 159.7L1892.4 158.2L1892.6 143.1L1892.9 145.6L1893.2 143.3L1893.4 143.7L1893.7 145.2L1894.0 155.6L1894.3 75.6L1894.5 150.0L1894.8 150.9L1895.1 154.5L1895.3 151.6L1895.6 142.4L1895.9 90.9L1896.1 90.4L1896.4 89.4L1896.7 84.1L1897.0 91.7L1897.2 83.9L1897.5 166.3L1897.8 157.8L1898.0 155.6L1898.3 169.0L1898.6 154.8L1898.8 163.0L1899.1 165.1L1899.4 154.4L1899.7 165.6L1899.9 169.2L1900.2 161.7L1900.5 163.2L1900.7 158.5L1901.0 162.6L1901.3 160.3L1901.5 164.5L1901.8 157.9L1902.1 165.7L1902.4 166.6L1902.6 164.0L1902.9 82.6L1903.2 82.0L1903.4 97.0L1903.7 93.7L1904.0 157.1L1904.2 82.6L1904.5 152.8L1904.8 157.2L1905.1 150.3L1905.3 167.2L1905.6 159.0L1905.9 154.4L1906.1 100.4L1906.4 169.8L1906.7 92.9L1906.9 81.8L1907.2 84.4L1907.5 100.9L1907.8 92.5L1908.0 89.7L1908.3 86.8L1908.6 85.6L1908.8 82.8L1909.1 154.1L1909.4 81.0L1909.6 161.9L1909.9 84.0L1910.2 87.9L1910.5 88.3L1910.7 90.7L1911.0 87.0L1911.3 90.6L1911.5 85.7L1911.8 98.2L1912.1 92.1L1912.3 176.8L1912.6 157.6L1912.9 159.4L1913.2 163.1L1913.4 165.6L1913.7 164.5L1914.0 166.0L1914.2 162.8L1914.5 157.3L1914.8 167.5L1915.0 81.0L1915.3 162.9L1915.6 151.7L1915.9 94.7L1916.1 85.7L1916.4 90.6L1916.7 152.9L1916.9 166.1L1917.2 158.1L1917.5 146.8L1917.7 167.3L1918.0 150.1L1918.3 162.1L1918.6 162.3L1918.8 95.7L1919.1 164.5L1919.4 158.8L1919.6 162.0L1919.9 148.3L1920.2 164.5L1920.5 176.8L1920.7 168.3L1921.0 156.0L1921.3 169.5L1921.5 161.7L1921.8 166.5L1922.1 96.5L1922.3 160.1L1922.6 166.3L1922.9 167.7L1923.2 158.9L1923.4 145.0L1923.7 163.4L1924.0 168.2L1924.2 172.9L1924.5 160.0L1924.8 171.2L1925.0 145.0L1925.3 158.7L1925.6 156.8L1925.9 179.2L1926.1 160.1L1926.4 179.2L1926.7 89.8L1926.9 75.6L1927.2 85.5L1927.5 83.7L1927.7 90.5L1928.0 90.6L1928.3 82.6L1928.6 102.0L1928.8 97.0L1929.1 87.4L1929.4 93.3L1929.6 88.4L1929.9 86.0L1930.2 83.6L1930.4 84.9L1930.7 102.0L1931.0 101.5L1931.3 88.7L1931.5 87.3L1931.8 97.6L1932.1 83.6L1932.3 94.8L1932.6 78.8L1932.9 92.4L1933.1 94.8L1933.4 95.5L1933.7 100.7L1934.0 98.1L1934.2 86.6L1934.5 79.9L1934.8 75.3L1935.0 82.1L1935.3 88.5L1935.6 85.6L1935.8 103.8L1936.1 92.8L1936.4 92.7L1936.7 90.5L1936.9 88.2L1937.2 92.2L1937.5 162.3L1937.7 159.9L1938.0 154.9L1938.3 149.5L1938.5 149.5L1938.8 148.5L1939.1 92.4L1939.4 85.8L1939.6 165.2L1939.9 153.0L1940.2 149.0L1940.4 148.4L1940.7 157.6L1941.0 145.5L1941.2 149.4L1941.5 145.6L1941.8 149.7L1942.1 87.0L1942.3 77.2L1942.6 76.6L1942.9 80.2L1943.1 83.4L1943.4 81.9L1943.7 77.8L1943.9 71.0L1944.2 74.9L1944.5 75.5L1944.8 146.7L1945.0 69.3L1945.3 76.4L1945.6 78.1L1945.8 89.9L1946.1 82.4L1946.4 76.2L1946.6 67.9L1946.9 92.8L1947.2 68.6L1947.5 75.6L1947.7 80.2L1948.0 77.4L1948.3 86.9L1948.5 81.3L1948.8 70.5L1949.1 81.1L1949.3 69.7L1949.6 72.7L1949.9 85.5L1950.2 70.1L1950.4 82.9L1950.7 78.8L1951.0 92.8L1951.2 66.2L1951.5 79.6L1951.8 81.1L1952.0 80.4L1952.3 76.3L1952.6 73.8L1952.9 83.7L1953.1 89.2L1953.4 80.7L1953.7 75.1L1953.9 67.9L1954.2 78.2L1954.5 88.9L1954.7 76.0L1955.0 83.4L1955.3 87.3L1955.6 77.7L1955.8 73.7L1956.1 68.3L1956.4 74.1L1956.6 73.1L1956.9 76.9L1957.2 87.7L1957.4 73.5L1957.7 87.6L1958.0 83.2L1958.3 72.0L1958.5 73.1L1958.8 87.9L1959.1 85.8L1959.3 83.6L1959.6 83.5L1959.9 82.1L1960.1 83.0L1960.4 78.7L1960.7 83.7L1961.0 81.0L1961.2 93.2L1961.5 75.9L1961.8 86.5L1962.0 72.8L1962.3 80.9L1962.6 75.5L1962.8 93.2L1963.1 89.0L1963.4 75.3L1963.7 89.0L1963.9 86.6L1964.2 71.3L1964.5 87.0L1964.7 84.3L1965.0 78.1L1965.3 83.6L1965.5 91.0L1965.8 91.6L1966.1 70.4L1966.4 76.6L1966.6 93.2L1966.9 81.4L1967.2 79.8L1967.4 87.2L1967.7 71.7L1968.0 73.3L1968.2 70.6L1968.5 83.7L1968.8 88.4L1969.1 80.0L1969.3 80.7L1969.6 89.5L1969.9 76.6L1970.1 77.0L1970.4 80.4L1970.7 80.1L1970.9 76.0L1971.2 78.7L1971.5 71.3L1971.8 75.7L1972.0 82.7L1972.3 67.9L1972.6 81.7L1972.8 90.1L1973.1 88.9L1973.4 81.2L1973.6 77.9L1973.9 156.7L1974.2 83.3L1974.5 77.3L1974.7 70.4L1975.0 84.4L1975.3 84.2L1975.5 87.6L1975.8 83.2L1976.1 84.4L1976.3 80.5L1976.6 70.4L1976.9 77.8L1977.2 71.8L1977.4 70.4L1977.7 88.0L1978.0 85.5L1978.2 83.3L1978.5 70.4L1978.8 86.7L1979.0 78.1L1979.3 71.4L1979.6 81.8L1979.9 75.2L1980.1 73.0L1980.4 73.3L1980.7 84.7L1980.9 73.6L1981.2 84.4L1981.5 182.0L1981.7 184.7L1982.0 183.3L1982.3 198.7L1982.6 123.7L1982.8 122.8L1983.1 123.3L1983.4 134.4L1983.6 196.0L1983.9 191.4L1984.2 196.6L1984.4 197.1L1984.7 198.5L1985.0 175.9L1985.3 162.1L1985.5 162.4L1985.8 158.3L1986.1 137.0L1986.3 142.1L1986.6 118.0L1986.9 117.1L1987.1 107.0L1987.4 94.8L1987.7 87.7L1988.0 88.3L1988.2 56.4L1988.5 55.7L1988.8 52.6L1989.0 41.0L1989.3 44.7L1989.6 59.2L1989.8 51.8L1990.1 57.9L1990.4 47.4L1990.7 43.0L1990.9 55.2L1991.2 58.0L1991.5 42.6L1991.7 60.9L1992.0 42.2L1992.3 71.8L1992.5 41.0L1992.8 55.0L1993.1 47.1L1993.4 46.2L1993.6 45.6L1993.9 50.6L1994.2 54.8L1994.4 49.1L1994.7 47.8L1995.0 44.5L1995.2 46.4L1995.5 46.7L1995.8 45.8L1996.1 53.1L1996.3 55.2L1996.6 48.8L1996.9 54.4L1997.1 52.3L1997.4 46.3L1997.7 53.9L1997.9 41.0L1998.2 52.4L1998.5 46.0L1998.8 55.7L1999.0 56.6L1999.3 62.7L1999.6 50.9L1999.8 52.0L2000.1 46.0L2000.4 49.7L2000.6 41.0L2000.9 56.8L2001.2 46.7L2001.5 63.8L2001.7 50.2L2002.0 54.6L2002.3 46.2L2002.5 61.5L2002.8 55.0L2003.1 55.8L2003.3 41.4L2003.6 57.3L2003.9 54.1L2004.2 72.5L2004.4 51.0L2004.7 63.8L2005.0 51.6L2005.2 62.8L2005.5 52.6L2005.8 56.0L2006.0 51.6L2006.3 46.9L2006.6 52.9L2006.9 49.7L2007.1 59.5L2007.4 41.0L2007.7 51.4L2007.9 55.1L2008.2 53.1L2008.5 46.8L2008.7 54.7L2009.0 47.5L2009.3 58.3L2009.6 56.1L2009.8 60.9L2010.1 56.3L2010.4 56.8L2010.6 42.9L2010.9 54.4L2011.2 50.2L2011.4 48.3L2011.7 47.7L2012.0 52.8L2012.3 54.7L2012.5 50.2L2012.8 53.7L2013.1 54.2L2013.3 61.8L2013.6 48.5L2013.9 52.7L2014.1 48.7L2014.4 59.1L2014.7 52.2L2015.0 54.2L2015.2 63.8L2015.5 50.4L2015.8 50.8L2016.0 55.7L2016.3 59.0L2016.6 54.7L2016.8 50.2L2017.1 41.0L2017.4 55.0L2017.7 48.6L2017.9 46.9L2018.2 47.8L2018.5 52.6L2018.7 49.0L2019.0 43.3L2019.3 57.0L2019.5 53.1L2019.8 54.3L2020.1 58.4L2020.4 50.5L2020.6 48.1L2020.9 40.9L2021.2 59.4L2021.4 50.4L2021.7 45.0L2022.0 50.7L2022.3 63.6L2022.5 56.4L2022.8 51.4L2023.1 48.8L2023.3 52.5L2023.6 48.4L2023.9 59.5L2024.1 54.9L2024.4 55.9L2024.7 58.9L2025.0 43.8L2025.2 41.0L2025.5 50.6L2025.8 48.2L2026.0 53.9L2026.3 56.5L2026.6 61.6L2026.8 43.1L2027.1 62.9L2027.4 48.7L2027.7 54.4L2027.9 48.8L2028.2 58.5L2028.5 46.2L2028.7 44.8L2029.0 56.1L2029.3 48.5L2029.5 58.8L2029.8 53.0L2030.1 56.2L2030.4 49.9L2030.6 63.8L2030.9 51.5L2031.2 61.2L2031.4 45.9L2031.7 46.2L2032.0 59.6L2032.2 53.1L2032.5 63.1L2032.8 52.4L2033.1 59.6L2033.3 53.6L2033.6 43.0L2033.9 52.8L2034.1 50.0L2034.4 43.6L2034.7 59.9L2034.9 44.4L2035.2 59.5L2035.5 49.6L2035.8 62.1L2036.0 46.0L2036.3 53.4L2036.6 57.8L2036.8 61.2L2037.1 53.7L2037.4 41.0L2037.6 58.7L2037.9 45.7L2038.2 50.7L2038.5 49.7L2038.7 46.3L2039.0 47.7L2039.3 59.8L2039.5 60.4L2039.8 52.0L2040.1 47.2L2040.3 46.6L2040.6 55.3L2040.9 53.6L2041.2 44.4L2041.4 54.0L2041.7 56.7L2042.0 47.0L2042.2 51.0L2042.5 59.6L2042.8 53.9L2043.0 54.4L2043.3 54.9L2043.6 46.7L2043.9 46.9L2044.1 51.9L2044.4 61.1L2044.7 49.0L2044.9 41.0L2045.2 63.8L2045.5 60.2L2045.7 46.6L2046.0 47.4L2046.3 48.8L2046.6 58.5L2046.8 54.0L2047.1 61.6L2047.4 57.1L2047.6 53.4L2047.9 47.5L2048.2 51.9L2048.4 63.3L2048.7 51.6L2049.0 43.4L2049.3 58.2L2049.5 56.3L2049.8 52.9L2050.1 47.6L2050.3 41.0L2050.6 55.8L2050.9 65.6L2051.1 47.7L2051.4 52.2L2051.7 44.6L2052.0 46.0L2052.2 62.6L2052.5 47.3L2052.8 53.4L2053.0 56.3L2053.3 62.7L2053.6 60.0L2053.8 62.3L2054.1 54.9L2054.4 54.5L2054.7 52.7L2054.9 58.2L2055.2 50.6L2055.5 60.7L2055.7 49.1L2056.0 52.5L2056.3 53.1L2056.5 58.8L2056.8 56.2L2057.1 57.6L2057.4 52.0L2057.6 51.7L2057.9 60.3L2058.2 59.4L2058.4 53.0L2058.7 42.9L2059.0 51.7L2059.2 57.4L2059.5 55.7L2059.8 43.1L2060.1 51.1L2060.3 50.0L2060.6 50.8L2060.9 41.0L2061.1 54.6L2061.4 54.9L2061.7 59.2L2061.9 53.7L2062.2 51.7L2062.5 58.0L2062.8 53.5L2063.0 52.4L2063.3 45.8L2063.6 50.8L2063.8 52.5L2064.1 56.3L2064.4 54.2L2064.6 44.1L2064.9 45.8L2065.2 50.6L2065.5 50.2L2065.7 61.1L2066.0 51.7L2066.3 57.6L2066.5 45.9L2066.8 48.2L2067.1 40.1L2067.3 59.0L2067.6 56.4L2067.9 45.7L2068.2 49.2L2068.4 61.4L2068.7 50.0L2069.0 54.3L2069.2 57.2L2069.5 52.7L2069.8 61.0L2070.0 53.9L2070.3 47.5L2070.6 47.7L2070.9 59.4L2071.1 48.2L2071.4 49.3L2071.7 53.9L2071.9 59.6L2072.2 54.4L2072.5 63.8L2072.7 41.9L2073.0 56.0L2073.3 51.2L2073.6 54.3L2073.8 53.7L2074.1 47.3L2074.4 57.3L2074.6 49.2L2074.9 51.7L2075.2 50.9L2075.4 62.6L2075.7 59.6L2076.0 60.1L2076.3 50.3L2076.5 54.8L2076.8 61.9L2077.1 47.1L2077.3 62.3L2077.6 45.4L2077.9 51.6L2078.1 58.7L2078.4 48.0L2078.7 38.5L2079.0 48.5L2079.2 54.8L2079.5 62.0L2079.8 54.4L2080.0 59.0L2080.3 52.6L2080.6 46.2L2080.8 60.1L2081.1 34.7L2081.4 61.0L2081.7 53.4L2081.9 51.7L2082.2 56.9L2082.5 47.1L2082.7 49.4L2083.0 54.5L2083.3 52.4L2083.5 53.2L2083.8 61.3L2084.1 60.7L2084.4 53.0L2084.6 63.8L2084.9 45.8L2085.2 50.9L2085.4 57.8L2085.7 256.8L2086.0 242.2L2086.2 246.5L2086.5 247.7L2086.8 248.7L2087.1 237.8L2087.3 236.9L2087.6 250.7L2087.9 251.9L2088.1 240.5L2088.4 255.7L2088.7 247.1L2088.9 233.4L2089.2 249.3L2089.5 260.7L2089.8 251.8L2090.0 254.2L2090.3 82.4L2090.6 81.8L2090.8 83.6L2091.1 74.1L2091.4 87.3L2091.6 87.0L2091.9 85.9L2092.2 140.0L2092.5 253.2L2092.7 247.4L2093.0 251.7L2093.3 259.2L2093.5 261.0L2093.8 248.2L2094.1 242.8L2094.3 259.7L2094.6 233.4L2094.9 160.6L2095.2 147.0L2095.4 150.3L2095.7 152.3L2096.0 92.0L2096.2 96.8L2096.5 78.7L2096.8 92.5L2097.0 78.8L2097.3 89.0L2097.6 89.4L2097.9 96.2L2098.1 262.4L2098.4 256.9L2098.7 260.4L2098.9 259.7L2099.2 262.5L2099.5 246.9L2099.7 255.6L2100.0 82.9L2100.3 75.2L2100.6 138.1L2100.8 145.0L2101.1 150.1L2101.4 140.2L2101.6 146.4L2101.9 135.7L2102.2 136.8L2102.4 152.5L2102.7 70.2L2103.0 81.9L2103.3 71.3L2103.5 83.4L2103.8 74.0L2104.1 257.2L2104.3 244.4L2104.6 245.0L2104.9 247.7L2105.1 256.4L2105.4 247.7L2105.7 254.4L2106.0 256.0L2106.2 251.4L2106.5 250.4L2106.8 78.1L2107.0 78.5L2107.3 76.4L2107.6 93.4L2107.8 95.8L2108.1 81.7L2108.4 250.5L2108.7 238.5L2108.9 244.9L2109.2 246.6L2109.5 252.4L2109.7 252.9L2110.0 246.3L2110.3 248.9L2110.5 257.9L2110.8 238.7L2111.1 247.9L2111.4 238.3L2111.6 244.6L2111.9 240.1L2112.2 248.5L2112.4 242.5L2112.7 236.5L2113.0 239.5L2113.2 248.4L2113.5 249.8L2113.8 249.6L2114.1 250.0L2114.3 241.6L2114.6 92.6L2114.9 90.0L2115.1 88.0L2115.4 195.7L2115.7 196.6L2115.9 180.1L2116.2 249.5L2116.5 274.9L2116.8 246.1L2117.0 247.1L2117.3 270.0L2117.6 243.8L2117.8 254.8L2118.1 260.9L2118.4 259.0L2118.6 195.8L2118.9 77.2L2119.2 204.6L2119.5 188.6L2119.7 193.3" fill="none" stroke="#231f20" stroke-width="1.9" stroke-linejoin="round"/>
<rect x="1321.3" y="43.8" width="615.5" height="252.2" fill="none" stroke="#999999" stroke-width="3.3"/>
<polyline points="153.2,374.6 605.8,374.6 605.8,395.0 697.8,395.0 697.8,389.9 882.1,389.9 882.1,385.2 1082.8,385.2 1082.8,381.2 1316.8,381.2 1316.8,377.0 1547.0,377.0 1547.0,372.1 1741.3,372.1 1741.3,367.8 1941.9,367.8 1941.9,363.2 2085.5,363.2 2085.5,375.0 2121.0,375.0" fill="none" stroke="#be1e2d" stroke-width="5.4" stroke-linejoin="round"/>
<text transform="translate(271.6 357.8) scale(1 1.030)" font-size="41.8" font-weight="bold" fill="#000" text-anchor="start">8.6 pN</text>
<text transform="translate(616.5 376.0) scale(1 1.030)" font-size="41.8" font-weight="bold" fill="#000" text-anchor="start">4 pN</text>
<text transform="translate(742.6 372.5) scale(1 1.030)" font-size="41.8" font-weight="bold" fill="#000" text-anchor="start">5 pN</text>
<text transform="translate(934.5 369.3) scale(1 1.030)" font-size="41.8" font-weight="bold" fill="#000" text-anchor="start">6 pN</text>
<text transform="translate(1145.0 366.5) scale(1 1.030)" font-size="41.8" font-weight="bold" fill="#000" text-anchor="start">7 pN</text>
<text transform="translate(1369.3 360.2) scale(1 1.030)" font-size="41.8" font-weight="bold" fill="#000" text-anchor="start">8 pN</text>
<text transform="translate(1580.5 352.6) scale(1 1.030)" font-size="41.8" font-weight="bold" fill="#000" text-anchor="start">9 pN</text>
<text transform="translate(1795.8 350.5) scale(1 1.030)" font-size="41.8" font-weight="bold" fill="#000" text-anchor="start">10 pN</text>
<text transform="translate(1964.8 347.6) scale(1 1.030)" font-size="41.8" font-weight="bold" fill="#000" text-anchor="start">11pN</text>
<rect x="153.2" y="417.3" width="240.5" height="7.6" fill="#231f20"/>
<text transform="translate(170.6 487.1) scale(1 1.030)" font-size="49.5" font-weight="bold" fill="#000" text-anchor="start">50 s</text>
</g>
<g id="panelB">
<text transform="translate(0.0 594.0) scale(1 1.040)" font-size="67.0" font-weight="bold" fill="#000" text-anchor="start">B</text>
<rect x="191.8" y="579.3" width="1840.2" height="366.8" fill="none" stroke="#999999" stroke-width="3.3"/>
<text transform="translate(341.2 628.2) scale(1 1.030)" font-size="49.5" font-weight="bold" fill="#000" text-anchor="start">20 s</text>
<rect x="314.7" y="630.2" width="208.7" height="6.2" fill="#231f20"/>
<rect x="276.1" y="640.7" width="6.2" height="208.3" fill="#231f20"/>
<text transform="translate(250.6 843.9) rotate(-90) scale(1 1.025)" font-size="50.2" font-weight="bold" fill="#000" text-anchor="start">20 nm</text>
<path d="M1232 639.4H1743" stroke="#f6d654" stroke-width="3.4" stroke-dasharray="12.3 12.7" stroke-dashoffset="2.6" fill="none"/>
<path d="M1232.2 730.4H1743.6" stroke="#f0b41c" stroke-width="3.4" stroke-dasharray="12.3 12.62" fill="none"/>
<path d="M1210 790.6H1743" stroke="#c08a14" stroke-width="3.4" stroke-dasharray="12.3 12.7" stroke-dashoffset="5.5" fill="none"/>
<path d="M307.0 789.7L307.5 770.7L308.0 779.3L308.5 775.8L309.0 772.1L309.5 773.9L310.0 774.2L310.5 776.8L311.0 779.7L311.5 783.5L312.0 778.6L312.5 783.9L313.0 779.9L313.5 777.8L314.0 801.5L314.5 795.1L315.0 789.8L315.5 802.7L316.0 816.4L316.5 819.3L317.0 819.4L317.5 809.8L318.0 813.1L318.5 810.7L319.0 823.3L319.5 816.6L320.0 818.0L320.5 811.9L321.0 809.7L321.5 813.8L322.0 773.2L322.5 777.9L323.0 761.1L323.5 776.8L324.0 766.7L324.5 769.5L325.0 771.2L325.5 770.3L326.0 777.9L326.5 798.2L327.0 776.9L327.5 769.4L328.0 777.6L328.5 743.3L329.0 781.3L329.5 776.3L330.0 796.4L330.5 803.7L331.0 806.7L331.5 827.4L332.0 809.0L332.5 817.9L333.0 812.6L333.5 746.0L334.0 725.9L334.5 768.2L335.0 766.4L335.5 742.3L336.0 766.6L336.5 753.7L337.0 792.0L337.5 692.6L338.0 686.7L338.5 692.0L339.0 712.8L339.5 718.2L340.0 709.9L340.5 705.1L341.0 689.1L341.5 820.4L342.0 838.5L342.5 796.5L343.0 826.2L343.5 768.8L344.0 768.8L344.5 778.0L345.0 782.9L345.5 776.6L346.0 774.8L346.5 768.1L347.0 769.9L347.5 771.3L348.0 765.1L348.5 769.9L349.0 755.8L349.5 763.0L350.0 769.6L350.5 771.8L351.0 765.4L351.5 768.4L352.0 758.4L352.5 766.0L353.0 768.9L353.5 775.3L354.0 774.3L354.5 765.2L355.0 762.0L355.5 779.7L356.0 826.3L356.5 797.5L357.0 843.4L357.5 807.8L358.0 810.9L358.5 762.4L359.0 771.3L359.5 744.7L360.0 772.6L360.5 781.4L361.0 775.8L361.5 765.9L362.0 762.3L362.5 757.9L363.0 782.2L363.5 780.7L364.0 770.2L364.5 782.3L365.0 822.7L365.5 809.3L366.0 822.7L366.5 852.5L367.0 802.7L367.5 811.6L368.0 819.2L368.5 834.2L369.0 771.4L369.5 776.8L370.0 775.9L370.5 775.6L371.0 770.6L371.5 781.3L372.0 781.4L372.5 782.7L373.0 777.9L373.5 782.2L374.0 778.2L374.5 780.2L375.0 759.3L375.5 776.8L376.0 774.4L376.5 771.3L377.0 774.0L377.5 798.9L378.0 767.8L378.5 771.2L379.0 770.2L379.5 782.9L380.0 781.5L380.5 778.2L381.0 776.8L381.5 814.2L382.0 774.4L382.5 766.2L383.0 770.1L383.5 770.8L384.0 771.3L384.5 777.2L385.0 769.3L385.5 782.9L386.0 770.7L386.5 777.1L387.0 765.6L387.5 777.4L388.0 809.6L388.5 816.4L389.0 815.5L389.5 819.4L390.0 818.4L390.5 817.4L391.0 814.8L391.5 824.8L392.0 813.3L392.5 815.6L393.0 813.3L393.5 816.2L394.0 810.9L394.5 813.5L395.0 817.9L395.5 812.8L396.0 817.7L396.5 812.7L397.0 822.3L397.5 814.9L398.0 823.9L398.5 817.9L399.0 814.9L399.5 820.0L400.0 821.1L400.5 822.8L401.0 822.2L401.5 819.8L402.0 809.9L402.5 820.0L403.0 815.1L403.5 817.5L404.0 821.6L404.5 812.1L405.0 821.9L405.5 798.9L406.0 818.2L406.5 814.0L407.0 822.1L407.5 816.4L408.0 820.5L408.5 784.6L409.0 755.1L409.5 778.1L410.0 765.3L410.5 771.0L411.0 780.1L411.5 767.5L412.0 763.5L412.5 772.7L413.0 778.0L413.5 778.3L414.0 778.9L414.5 772.3L415.0 770.6L415.5 817.6L416.0 810.9L416.5 811.2L417.0 819.1L417.5 811.3L418.0 826.7L418.5 821.3L419.0 815.2L419.5 805.0L420.0 811.5L420.5 825.6L421.0 826.2L421.5 813.9L422.0 819.1L422.5 819.3L423.0 817.1L423.5 806.0L424.0 820.6L424.5 795.4L425.0 814.2L425.5 807.0L426.0 812.1L426.5 814.8L427.0 814.1L427.5 816.6L428.0 813.4L428.5 820.6L429.0 818.7L429.5 809.4L430.0 830.9L430.5 817.6L431.0 812.5L431.5 822.7L432.0 812.6L432.5 816.7L433.0 818.6L433.5 809.5L434.0 821.9L434.5 814.3L435.0 811.7L435.5 811.8L436.0 770.4L436.5 808.3L437.0 823.2L437.5 814.7L438.0 813.9L438.5 816.4L439.0 833.0L439.5 770.2L440.0 774.2L440.5 777.6L441.0 782.7L441.5 722.9L442.0 787.2L442.5 774.2L443.0 773.4L443.5 766.1L444.0 775.4L444.5 780.1L445.0 774.0L445.5 756.5L446.0 768.9L446.5 771.6L447.0 794.1L447.5 775.1L448.0 783.1L448.5 779.2L449.0 782.0L449.5 783.8L450.0 772.5L450.5 784.9L451.0 758.6L451.5 766.6L452.0 771.5L452.5 819.7L453.0 810.9L453.5 832.8L454.0 819.9L454.5 825.4L455.0 812.9L455.5 842.0L456.0 821.8L456.5 815.6L457.0 821.7L457.5 820.2L458.0 801.0L458.5 812.9L459.0 823.3L459.5 818.4L460.0 815.0L460.5 808.1L461.0 819.0L461.5 817.9L462.0 777.6L462.5 754.8L463.0 773.4L463.5 771.8L464.0 766.0L464.5 764.8L465.0 766.6L465.5 752.9L466.0 706.9L466.5 760.9L467.0 808.4L467.5 811.9L468.0 802.4L468.5 805.6L469.0 806.3L469.5 804.4L470.0 814.6L470.5 819.4L471.0 811.9L471.5 810.3L472.0 813.4L472.5 809.5L473.0 812.5L473.5 813.8L474.0 810.8L474.5 809.9L475.0 812.2L475.5 812.1L476.0 815.1L476.5 831.6L477.0 806.5L477.5 809.5L478.0 814.1L478.5 805.7L479.0 817.6L479.5 818.6L480.0 808.3L480.5 817.1L481.0 757.7L481.5 770.6L482.0 743.3L482.5 778.7L483.0 777.1L483.5 774.8L484.0 767.3L484.5 728.0L485.0 774.1L485.5 767.7L486.0 775.9L486.5 760.2L487.0 774.2L487.5 774.8L488.0 757.7L488.5 814.9L489.0 766.3L489.5 767.0L490.0 759.3L490.5 771.3L491.0 763.3L491.5 770.6L492.0 758.5L492.5 763.0L493.0 775.9L493.5 759.3L494.0 770.9L494.5 800.3L495.0 730.8L495.5 762.0L496.0 785.9L496.5 767.2L497.0 777.5L497.5 777.7L498.0 768.9L498.5 775.5L499.0 757.7L499.5 771.7L500.0 772.2L500.5 806.8L501.0 810.9L501.5 829.5L502.0 817.9L502.5 804.4L503.0 816.6L503.5 778.2L504.0 771.8L504.5 773.5L505.0 755.1L505.5 761.6L506.0 773.4L506.5 762.1L507.0 776.3L507.5 778.2L508.0 765.2L508.5 764.1L509.0 769.9L509.5 772.5L510.0 776.1L510.5 769.7L511.0 771.3L511.5 765.1L512.0 772.8L512.5 766.4L513.0 821.9L513.5 820.4L514.0 809.4L514.5 818.7L515.0 811.9L515.5 821.7L516.0 812.2L516.5 793.4L517.0 822.2L517.5 826.4L518.0 842.0L518.5 817.3L519.0 822.9L519.5 811.3L520.0 816.9L520.5 815.6L521.0 816.8L521.5 809.6L522.0 809.1L522.5 788.5L523.0 824.0L523.5 815.5L524.0 820.0L524.5 816.5L525.0 816.0L525.5 823.3L526.0 808.0L526.5 816.0L527.0 813.4L527.5 812.7L528.0 809.4L528.5 809.8L529.0 811.4L529.5 822.2L530.0 813.8L530.5 814.9L531.0 768.2L531.5 774.0L532.0 777.0L532.5 770.9L533.0 769.5L533.5 773.3L534.0 763.6L534.5 771.0L535.0 781.8L535.5 821.2L536.0 763.2L536.5 758.2L537.0 769.9L537.5 774.0L538.0 766.4L538.5 767.1L539.0 778.1L539.5 769.7L540.0 774.6L540.5 766.8L541.0 779.0L541.5 776.1L542.0 746.8L542.5 765.1L543.0 785.4L543.5 761.7L544.0 762.5L544.5 755.4L545.0 774.5L545.5 770.0L546.0 768.9L546.5 758.4L547.0 805.9L547.5 763.8L548.0 761.0L548.5 767.8L549.0 771.8L549.5 768.5L550.0 694.0L550.5 805.2L551.0 771.4L551.5 766.9L552.0 773.8L552.5 771.8L553.0 776.3L553.5 775.6L554.0 775.0L554.5 765.3L555.0 779.2L555.5 776.9L556.0 765.7L556.5 778.7L557.0 770.3L557.5 762.3L558.0 713.4L558.5 760.3L559.0 831.6L559.5 815.3L560.0 832.3L560.5 814.4L561.0 820.0L561.5 830.9L562.0 823.8L562.5 808.4L563.0 802.4L563.5 807.0L564.0 826.2L564.5 813.2L565.0 820.4L565.5 839.9L566.0 809.5L566.5 768.8L567.0 776.2L567.5 762.4L568.0 764.2L568.5 769.0L569.0 773.3L569.5 762.7L570.0 768.2L570.5 806.0L571.0 811.9L571.5 796.0L572.0 821.9L572.5 820.4L573.0 791.4L573.5 796.2L574.0 675.9L574.5 761.3L575.0 762.1L575.5 765.7L576.0 760.6L576.5 761.5L577.0 767.1L577.5 762.9L578.0 768.1L578.5 720.4L579.0 773.3L579.5 790.0L580.0 803.3L580.5 801.0L581.0 795.4L581.5 801.7L582.0 667.5L582.5 725.8L583.0 717.4L583.5 802.7L584.0 810.0L584.5 825.3L585.0 808.9L585.5 817.3L586.0 744.0L586.5 768.2L587.0 750.4L587.5 764.6L588.0 764.0L588.5 764.2L589.0 765.1L589.5 756.5L590.0 787.1L590.5 760.8L591.0 755.4L591.5 771.3L592.0 755.7L592.5 767.0L593.0 760.5L593.5 783.6L594.0 768.7L594.5 765.8L595.0 763.5L595.5 776.7L596.0 776.7L596.5 775.3L597.0 759.2L597.5 761.1L598.0 756.9L598.5 762.7L599.0 770.9L599.5 761.1L600.0 752.1L600.5 816.0L601.0 821.2L601.5 813.3L602.0 775.0L602.5 772.9L603.0 761.1L603.5 773.4L604.0 723.8L604.5 769.6L605.0 779.6L605.5 808.3L606.0 819.1L606.5 816.4L607.0 760.8L607.5 770.2L608.0 753.8L608.5 752.9L609.0 763.2L609.5 765.6L610.0 767.9L610.5 764.7L611.0 767.5L611.5 704.7L612.0 785.8L612.5 821.2L613.0 769.3L613.5 774.6L614.0 770.6L614.5 774.7L615.0 769.6L615.5 773.9L616.0 773.6L616.5 778.4L617.0 776.5L617.5 771.5L618.0 771.2L618.5 765.4L619.0 780.7L619.5 765.7L620.0 807.8L620.5 817.4L621.0 818.8L621.5 812.0L622.0 826.7L622.5 805.2L623.0 818.1L623.5 773.6L624.0 776.3L624.5 779.2L625.0 769.4L625.5 791.3L626.0 772.8L626.5 767.7L627.0 749.6L627.5 770.2L628.0 774.7L628.5 771.4L629.0 800.0L629.5 800.0L630.0 834.4L630.5 819.1L631.0 779.3L631.5 780.8L632.0 781.8L632.5 778.4L633.0 770.7L633.5 760.7L634.0 763.6L634.5 765.6L635.0 777.4L635.5 809.3L636.0 811.9L636.5 827.4L637.0 806.7L637.5 798.8L638.0 805.0L638.5 819.1L639.0 821.8L639.5 822.7L640.0 813.0L640.5 805.1L641.0 806.7L641.5 812.4L642.0 821.9L642.5 798.4L643.0 806.8L643.5 807.1L644.0 792.7L644.5 811.1L645.0 809.9L645.5 808.7L646.0 799.2L646.5 804.3L647.0 807.8L647.5 822.6L648.0 811.8L648.5 809.3L649.0 810.9L649.5 809.4L650.0 803.8L650.5 801.1L651.0 813.7L651.5 762.9L652.0 782.1L652.5 767.1L653.0 770.3L653.5 751.0L654.0 755.2L654.5 782.9L655.0 821.2L655.5 769.6L656.0 768.4L656.5 773.3L657.0 771.2L657.5 771.3L658.0 770.5L658.5 763.9L659.0 764.6L659.5 764.2L660.0 770.0L660.5 767.1L661.0 746.8L661.5 763.0L662.0 754.6L662.5 776.5L663.0 774.5L663.5 812.1L664.0 763.9L664.5 756.6L665.0 760.2L665.5 761.0L666.0 748.9L666.5 772.3L667.0 781.7L667.5 761.4L668.0 756.0L668.5 761.4L669.0 761.5L669.5 767.0L670.0 796.4L670.5 809.6L671.0 822.6L671.5 792.4L672.0 805.7L672.5 807.6L673.0 765.2L673.5 771.9L674.0 771.5L674.5 773.9L675.0 769.3L675.5 773.7L676.0 769.9L676.5 767.1L677.0 772.3L677.5 768.9L678.0 778.9L678.5 771.9L679.0 764.4L679.5 772.3L680.0 767.9L680.5 769.7L681.0 774.7L681.5 766.0L682.0 776.4L682.5 776.7L683.0 770.3L683.5 777.3L684.0 777.8L684.5 819.1L685.0 814.3L685.5 774.2L686.0 766.1L686.5 762.8L687.0 749.8L687.5 778.3L688.0 767.0L688.5 773.6L689.0 799.1L689.5 814.9L690.0 816.8L690.5 763.9L691.0 766.9L691.5 749.6L692.0 764.9L692.5 819.0L693.0 834.4L693.5 829.2L694.0 828.4L694.5 811.5L695.0 825.0L695.5 812.2L696.0 823.5L696.5 817.4L697.0 776.2L697.5 776.7L698.0 772.6L698.5 765.1L699.0 774.2L699.5 776.6L700.0 774.7L700.5 771.2L701.0 769.2L701.5 779.8L702.0 776.2L702.5 782.3L703.0 775.3L703.5 784.5L704.0 782.9L704.5 772.2L705.0 771.4L705.5 773.0L706.0 769.3L706.5 761.9L707.0 762.4L707.5 778.0L708.0 770.0L708.5 764.7L709.0 774.0L709.5 785.7L710.0 770.8L710.5 775.7L711.0 775.7L711.5 753.0L712.0 806.8L712.5 825.0L713.0 819.5L713.5 835.8L714.0 820.1L714.5 820.7L715.0 814.5L715.5 822.6L716.0 819.4L716.5 825.5L717.0 808.6L717.5 815.3L718.0 833.0L718.5 821.1L719.0 816.0L719.5 825.1L720.0 807.6L720.5 816.2L721.0 829.1L721.5 779.6L722.0 773.2L722.5 764.2L723.0 773.6L723.5 774.8L724.0 776.8L724.5 773.9L725.0 777.2L725.5 779.4L726.0 779.9L726.5 782.2L727.0 815.1L727.5 809.9L728.0 822.0L728.5 812.2L729.0 809.2L729.5 813.2L730.0 807.8L730.5 804.6L731.0 833.7L731.5 806.5L732.0 816.5L732.5 812.3L733.0 816.2L733.5 819.0L734.0 809.5L734.5 811.8L735.0 804.9L735.5 803.9L736.0 814.0L736.5 822.0L737.0 812.5L737.5 810.0L738.0 812.1L738.5 816.7L739.0 814.5L739.5 748.6L740.0 770.5L740.5 717.6L741.0 739.8L741.5 809.8L742.0 810.9L742.5 803.6L743.0 828.8L743.5 802.7L744.0 735.0L744.5 776.0L745.0 760.6L745.5 773.5L746.0 762.3L746.5 774.0L747.0 752.9L747.5 774.7L748.0 768.2L748.5 767.8L749.0 727.3L749.5 749.8L750.0 744.4L750.5 774.8L751.0 760.1L751.5 767.3L752.0 755.1L752.5 758.9L753.0 753.0L753.5 779.8L754.0 682.8L754.5 766.0L755.0 765.1L755.5 785.8L756.0 786.7L756.5 801.7L757.0 792.3L757.5 768.7L758.0 785.5L758.5 784.7L759.0 776.0L759.5 780.0L760.0 768.5L760.5 772.4L761.0 766.2L761.5 774.1L762.0 784.1L762.5 773.6L763.0 784.7L763.5 753.0L764.0 819.8L764.5 777.1L765.0 770.7L765.5 769.0L766.0 773.7L766.5 772.6L767.0 772.8L767.5 781.0L768.0 771.6L768.5 771.2L769.0 778.1L769.5 776.1L770.0 831.6L770.5 779.2L771.0 762.6L771.5 778.7L772.0 768.8L772.5 779.7L773.0 784.3L773.5 765.3L774.0 767.7L774.5 780.7L775.0 758.6L775.5 775.9L776.0 777.3L776.5 771.7L777.0 831.6L777.5 819.6L778.0 826.1L778.5 795.4L779.0 822.0L779.5 814.8L780.0 834.4L780.5 816.3L781.0 820.3L781.5 816.6L782.0 822.7L782.5 821.9L783.0 817.1L783.5 820.0L784.0 819.0L784.5 815.4L785.0 814.8L785.5 810.6L786.0 823.8L786.5 813.7L787.0 807.9L787.5 812.0L788.0 807.8L788.5 807.4L789.0 810.4L789.5 808.5L790.0 807.4L790.5 813.3L791.0 811.3L791.5 809.8L792.0 810.8L792.5 808.8L793.0 804.2L793.5 802.0L794.0 802.6L794.5 800.1L795.0 800.6L795.5 808.4L796.0 802.2L796.5 750.1L797.0 745.6L797.5 757.5L798.0 737.1L798.5 746.3L799.0 749.5L799.5 759.7L800.0 760.5L800.5 766.9L801.0 756.6L801.5 755.2L802.0 749.2L802.5 750.5L803.0 751.1L803.5 747.0L804.0 753.8L804.5 746.5L805.0 811.4L805.5 807.7L806.0 784.3L806.5 693.4L807.0 664.1L807.5 692.2L808.0 684.5L808.5 684.4L809.0 691.8L809.5 693.4L810.0 687.9L810.5 694.8L811.0 656.4L811.5 699.1L812.0 747.5L812.5 748.2L813.0 747.9L813.5 748.6L814.0 742.8L814.5 751.2L815.0 747.6L815.5 747.9L816.0 758.3L816.5 751.9L817.0 753.4L817.5 698.0L818.0 679.6L818.5 683.8L819.0 681.8L819.5 702.6L820.0 683.3L820.5 675.6L821.0 676.6L821.5 661.4L822.0 684.3L822.5 690.1L823.0 808.8L823.5 691.7L824.0 690.7L824.5 691.4L825.0 676.2L825.5 670.6L826.0 694.0L826.5 677.2L827.0 703.9L827.5 670.6L828.0 695.7L828.5 752.5L829.0 753.1L829.5 750.3L830.0 742.0L830.5 744.2L831.0 751.1L831.5 755.9L832.0 753.9L832.5 744.3L833.0 746.0L833.5 755.6L834.0 666.3L834.5 749.0L835.0 755.8L835.5 744.2L836.0 759.5L836.5 760.7L837.0 800.2L837.5 796.5L838.0 805.7L838.5 807.3L839.0 798.8L839.5 807.2L840.0 804.4L840.5 800.8L841.0 795.6L841.5 810.8L842.0 804.6L842.5 676.4L843.0 674.7L843.5 663.2L844.0 665.0L844.5 659.4L845.0 681.7L845.5 676.3L846.0 671.9L846.5 680.0L847.0 679.8L847.5 802.5L848.0 804.6L848.5 807.1L849.0 803.4L849.5 774.6L850.0 762.0L850.5 811.6L851.0 809.0L851.5 804.8L852.0 807.6L852.5 809.7L853.0 642.0L853.5 678.3L854.0 654.6L854.5 673.8L855.0 667.9L855.5 676.0L856.0 664.5L856.5 680.2L857.0 670.8L857.5 676.2L858.0 668.2L858.5 661.2L859.0 684.0L859.5 677.0L860.0 675.0L860.5 675.1L861.0 662.3L861.5 668.0L862.0 670.9L862.5 666.1L863.0 667.7L863.5 666.5L864.0 679.4L864.5 678.5L865.0 671.1L865.5 666.8L866.0 675.6L866.5 671.6L867.0 668.7L867.5 769.2L868.0 701.1L868.5 715.7L869.0 673.3L869.5 661.5L870.0 664.5L870.5 682.4L871.0 679.3L871.5 684.6L872.0 661.9L872.5 667.9L873.0 677.3L873.5 662.3L874.0 677.4L874.5 670.0L875.0 678.1L875.5 674.8L876.0 673.8L876.5 652.4L877.0 666.2L877.5 674.3L878.0 688.1L878.5 676.4L879.0 665.7L879.5 670.1L880.0 659.8L880.5 717.2L881.0 716.0L881.5 777.4L882.0 810.7L882.5 804.3L883.0 810.8L883.5 805.8L884.0 804.2L884.5 806.5L885.0 817.3L885.5 826.9L886.0 801.5L886.5 808.8L887.0 782.4L887.5 806.1L888.0 822.6L888.5 804.5L889.0 812.8L889.5 811.5L890.0 825.5L890.5 821.8L891.0 810.4L891.5 816.2L892.0 803.0L892.5 818.4L893.0 811.6L893.5 817.0L894.0 782.8L894.5 773.3L895.0 780.7L895.5 774.4L896.0 752.3L896.5 758.1L897.0 748.0L897.5 758.4L898.0 749.4L898.5 813.0L899.0 733.1L899.5 750.7L900.0 754.6L900.5 752.0L901.0 749.6L901.5 760.6L902.0 751.0L902.5 750.4L903.0 658.0L903.5 741.2L904.0 767.8L904.5 731.4L905.0 735.2L905.5 737.7L906.0 665.6L906.5 676.6L907.0 679.1L907.5 647.8L908.0 674.7L908.5 672.6L909.0 648.4L909.5 806.0L910.0 802.5L910.5 743.5L911.0 744.5L911.5 739.7L912.0 671.4L912.5 674.1L913.0 671.2L913.5 676.4L914.0 665.5L914.5 655.2L915.0 678.9L915.5 742.5L916.0 738.1L916.5 738.5L917.0 744.9L917.5 745.8L918.0 746.5L918.5 680.6L919.0 679.3L919.5 804.5L920.0 805.1L920.5 755.3L921.0 808.1L921.5 809.1L922.0 802.8L922.5 799.7L923.0 797.6L923.5 802.8L924.0 810.4L924.5 794.9L925.0 803.1L925.5 799.3L926.0 787.3L926.5 806.0L927.0 814.4L927.5 814.4L928.0 804.3L928.5 802.2L929.0 802.0L929.5 808.9L930.0 694.6L930.5 687.0L931.0 771.0L931.5 654.0L932.0 652.3L932.5 669.6L933.0 660.5L933.5 669.8L934.0 663.0L934.5 658.2L935.0 669.3L935.5 656.2L936.0 666.1L936.5 666.8L937.0 647.5L937.5 655.0L938.0 665.4L938.5 772.0L939.0 771.7L939.5 772.0L940.0 805.7L940.5 814.1L941.0 799.5L941.5 810.6L942.0 813.1L942.5 815.0L943.0 814.9L943.5 822.7L944.0 819.8L944.5 814.3L945.0 799.3L945.5 808.4L946.0 809.2L946.5 804.7L947.0 736.8L947.5 740.0L948.0 742.2L948.5 742.0L949.0 742.1L949.5 745.7L950.0 752.5L950.5 755.1L951.0 694.1L951.5 746.3L952.0 748.9L952.5 738.5L953.0 747.5L953.5 747.1L954.0 747.4L954.5 752.7L955.0 734.6L955.5 743.4L956.0 745.8L956.5 749.4L957.0 792.7L957.5 802.9L958.0 804.3L958.5 806.5L959.0 798.3L959.5 807.5L960.0 804.6L960.5 805.3L961.0 790.7L961.5 804.7L962.0 801.3L962.5 806.7L963.0 803.0L963.5 811.6L964.0 805.1L964.5 813.9L965.0 806.7L965.5 806.6L966.0 804.3L966.5 794.8L967.0 740.5L967.5 680.3L968.0 665.4L968.5 653.8L969.0 661.1L969.5 660.2L970.0 671.9L970.5 738.6L971.0 746.4L971.5 749.1L972.0 772.0L972.5 742.7L973.0 728.9L973.5 645.5L974.0 755.3L974.5 752.5L975.0 744.4L975.5 741.0L976.0 671.0L976.5 666.2L977.0 665.6L977.5 675.5L978.0 662.8L978.5 672.6L979.0 665.3L979.5 672.7L980.0 660.5L980.5 657.0L981.0 661.2L981.5 762.2L982.0 675.0L982.5 666.4L983.0 667.2L983.5 665.3L984.0 664.0L984.5 670.0L985.0 663.3L985.5 670.6L986.0 662.5L986.5 664.3L987.0 659.5L987.5 664.1L988.0 807.4L988.5 666.4L989.0 671.0L989.5 679.7L990.0 664.0L990.5 652.5L991.0 676.9L991.5 669.1L992.0 664.1L992.5 662.1L993.0 639.9L993.5 662.3L994.0 694.1L994.5 687.3L995.0 694.2L995.5 746.0L996.0 754.7L996.5 744.2L997.0 790.0L997.5 739.9L998.0 738.1L998.5 758.6L999.0 746.6L999.5 743.3L1000.0 749.8L1000.5 755.5L1001.0 746.0L1001.5 753.3L1002.0 749.6L1002.5 747.9L1003.0 747.4L1003.5 750.9L1004.0 745.4L1004.5 753.8L1005.0 749.7L1005.5 759.4L1006.0 747.3L1006.5 739.5L1007.0 756.8L1007.5 753.5L1008.0 751.6L1008.5 752.5L1009.0 810.9L1009.5 754.2L1010.0 743.1L1010.5 756.7L1011.0 750.9L1011.5 761.9L1012.0 753.2L1012.5 762.1L1013.0 760.8L1013.5 757.5L1014.0 744.8L1014.5 751.0L1015.0 759.6L1015.5 752.8L1016.0 748.7L1016.5 738.0L1017.0 742.6L1017.5 734.2L1018.0 741.2L1018.5 639.2L1019.0 660.1L1019.5 652.8L1020.0 754.6L1020.5 650.6L1021.0 650.9L1021.5 649.9L1022.0 657.7L1022.5 648.7L1023.0 659.3L1023.5 650.3L1024.0 664.4L1024.5 648.4L1025.0 651.1L1025.5 641.4L1026.0 654.9L1026.5 665.9L1027.0 658.3L1027.5 655.9L1028.0 637.1L1028.5 667.1L1029.0 781.0L1029.5 708.0L1030.0 708.3L1030.5 725.0L1031.0 726.7L1031.5 721.2L1032.0 722.9L1032.5 745.4L1033.0 750.8L1033.5 748.9L1034.0 739.1L1034.5 738.7L1035.0 758.9L1035.5 746.4L1036.0 744.1L1036.5 767.1L1037.0 743.7L1037.5 755.1L1038.0 755.6L1038.5 750.9L1039.0 758.1L1039.5 746.9L1040.0 747.7L1040.5 744.7L1041.0 740.2L1041.5 748.3L1042.0 754.4L1042.5 748.6L1043.0 755.8L1043.5 751.2L1044.0 749.8L1044.5 745.2L1045.0 744.4L1045.5 751.7L1046.0 744.6L1046.5 746.9L1047.0 759.1L1047.5 745.2L1048.0 746.3L1048.5 748.0L1049.0 749.3L1049.5 753.0L1050.0 760.5L1050.5 742.4L1051.0 762.9L1051.5 739.1L1052.0 759.7L1052.5 744.4L1053.0 755.1L1053.5 747.4L1054.0 751.4L1054.5 749.0L1055.0 752.3L1055.5 754.9L1056.0 756.2L1056.5 747.7L1057.0 752.8L1057.5 739.2L1058.0 794.2L1058.5 746.9L1059.0 754.8L1059.5 753.6L1060.0 746.6L1060.5 747.0L1061.0 753.4L1061.5 752.4L1062.0 731.0L1062.5 764.6L1063.0 783.1L1063.5 772.7L1064.0 782.5L1064.5 800.1L1065.0 800.3L1065.5 794.0L1066.0 803.0L1066.5 800.8L1067.0 800.1L1067.5 801.2L1068.0 804.3L1068.5 795.2L1069.0 802.9L1069.5 795.7L1070.0 804.9L1070.5 751.2L1071.0 749.7L1071.5 746.2L1072.0 744.3L1072.5 748.9L1073.0 748.6L1073.5 745.1L1074.0 743.0L1074.5 744.1L1075.0 757.7L1075.5 753.1L1076.0 757.2L1076.5 769.9L1077.0 747.7L1077.5 747.1L1078.0 747.9L1078.5 753.6L1079.0 755.0L1079.5 744.6L1080.0 794.5L1080.5 773.8L1081.0 754.4L1081.5 731.9L1082.0 705.5L1082.5 673.4L1083.0 657.9L1083.5 656.6L1084.0 668.9L1084.5 668.9L1085.0 670.2L1085.5 671.4L1086.0 670.7L1086.5 723.5L1087.0 660.1L1087.5 673.7L1088.0 650.2L1088.5 661.5L1089.0 661.1L1089.5 666.8L1090.0 672.9L1090.5 663.5L1091.0 660.3L1091.5 678.5L1092.0 673.7L1092.5 666.4L1093.0 662.7L1093.5 720.0L1094.0 774.9L1094.5 720.0L1095.0 721.2L1095.5 671.6L1096.0 661.9L1096.5 665.8L1097.0 674.5L1097.5 662.4L1098.0 649.8L1098.5 648.4L1099.0 763.1L1099.5 658.5L1100.0 668.7L1100.5 666.0L1101.0 697.1L1101.5 699.5L1102.0 697.0L1102.5 752.5L1103.0 796.1L1103.5 811.1L1104.0 798.0L1104.5 791.5L1105.0 797.1L1105.5 792.0L1106.0 799.2L1106.5 811.8L1107.0 790.6L1107.5 794.3L1108.0 789.7L1108.5 796.4L1109.0 791.9L1109.5 798.9L1110.0 798.8L1110.5 798.0L1111.0 732.7L1111.5 656.7L1112.0 737.3L1112.5 740.5L1113.0 742.9L1113.5 732.8L1114.0 741.9L1114.5 735.3L1115.0 751.3L1115.5 737.6L1116.0 744.8L1116.5 747.8L1117.0 741.6L1117.5 747.9L1118.0 751.0L1118.5 728.8L1119.0 666.5L1119.5 767.6L1120.0 760.0L1120.5 804.1L1121.0 792.2L1121.5 752.3L1122.0 748.9L1122.5 753.9L1123.0 746.9L1123.5 741.5L1124.0 756.9L1124.5 755.8L1125.0 748.1L1125.5 757.1L1126.0 746.4L1126.5 736.7L1127.0 813.8L1127.5 749.9L1128.0 744.8L1128.5 744.7L1129.0 741.0L1129.5 743.7L1130.0 742.7L1130.5 735.3L1131.0 746.8L1131.5 744.3L1132.0 746.2L1132.5 748.8L1133.0 737.0L1133.5 739.7L1134.0 746.0L1134.5 661.2L1135.0 646.1L1135.5 657.1L1136.0 716.4L1136.5 634.8L1137.0 710.3L1137.5 756.8L1138.0 711.4L1138.5 703.8L1139.0 701.4L1139.5 699.0L1140.0 641.8L1140.5 646.5L1141.0 652.8L1141.5 755.4L1142.0 651.7L1142.5 705.8L1143.0 699.3L1143.5 640.7L1144.0 706.7L1144.5 708.3L1145.0 702.7L1145.5 749.9L1146.0 646.6L1146.5 638.7L1147.0 641.7L1147.5 649.2L1148.0 639.5L1148.5 706.9L1149.0 696.9L1149.5 699.8L1150.0 781.6L1150.5 795.1L1151.0 652.6L1151.5 641.8L1152.0 647.4L1152.5 645.2L1153.0 653.8L1153.5 640.8L1154.0 645.1L1154.5 655.6L1155.0 648.3L1155.5 644.0L1156.0 653.2L1156.5 651.0L1157.0 637.2L1157.5 661.3L1158.0 649.4L1158.5 648.5L1159.0 649.1L1159.5 638.0L1160.0 651.7L1160.5 644.6L1161.0 645.0L1161.5 665.1L1162.0 654.6L1162.5 647.3L1163.0 641.4L1163.5 674.8L1164.0 690.9L1164.5 684.9L1165.0 698.5L1165.5 697.7L1166.0 715.3L1166.5 721.1L1167.0 731.5L1167.5 751.4L1168.0 753.3L1168.5 754.4L1169.0 794.4L1169.5 815.2L1170.0 798.8L1170.5 788.3L1171.0 784.2L1171.5 793.5L1172.0 818.0L1172.5 795.5L1173.0 795.3L1173.5 793.3L1174.0 796.8L1174.5 793.0L1175.0 784.7L1175.5 798.4L1176.0 790.2L1176.5 799.4L1177.0 788.1L1177.5 798.4L1178.0 809.3L1178.5 801.1L1179.0 813.1L1179.5 797.6L1180.0 796.1L1180.5 794.0L1181.0 789.2L1181.5 805.5L1182.0 800.0L1182.5 688.1L1183.0 694.6L1183.5 691.4L1184.0 650.1L1184.5 673.9L1185.0 671.4L1185.5 672.2L1186.0 736.1L1186.5 728.4L1187.0 762.4L1187.5 734.4L1188.0 740.2L1188.5 667.7L1189.0 660.5L1189.5 671.1L1190.0 652.6L1190.5 670.1L1191.0 668.2L1191.5 783.4L1192.0 799.2L1192.5 782.9L1193.0 786.4L1193.5 742.9L1194.0 748.2L1194.5 750.5L1195.0 740.0L1195.5 737.6L1196.0 744.9L1196.5 742.2L1197.0 734.8L1197.5 741.2L1198.0 741.4L1198.5 746.6L1199.0 741.1L1199.5 748.5L1200.0 666.9L1200.5 659.5L1201.0 754.9L1201.5 760.0L1202.0 751.2L1202.5 755.2L1203.0 744.4L1203.5 759.5L1204.0 744.8L1204.5 756.4L1205.0 753.0L1205.5 748.1L1206.0 758.8L1206.5 749.5L1207.0 744.7L1207.5 743.0L1208.0 732.2L1208.5 722.6L1209.0 729.4L1209.5 733.9L1210.0 719.8L1210.5 729.0L1211.0 722.4L1211.5 709.4L1212.0 716.7L1212.5 638.7L1213.0 748.5L1213.5 658.2L1214.0 664.6L1214.5 652.4L1215.0 665.1L1215.5 664.9L1216.0 677.2L1216.5 647.8L1217.0 652.8L1217.5 655.0L1218.0 673.1L1218.5 666.3L1219.0 655.6L1219.5 661.5L1220.0 652.0L1220.5 667.7L1221.0 662.5L1221.5 656.9L1222.0 652.8L1222.5 663.6L1223.0 665.1L1223.5 659.6L1224.0 744.3L1224.5 665.5L1225.0 717.8L1225.5 719.7L1226.0 642.8L1226.5 712.0L1227.0 725.9L1227.5 713.4L1228.0 747.1L1228.5 716.4L1229.0 649.6L1229.5 640.5L1230.0 630.3L1230.5 650.5L1231.0 643.0L1231.5 651.6L1232.0 643.7L1232.5 799.9L1233.0 746.4L1233.5 770.3L1234.0 750.3L1234.5 643.0L1235.0 637.2L1235.5 624.8L1236.0 635.3L1236.5 657.5L1237.0 623.4L1237.5 639.7L1238.0 657.4L1238.5 655.5L1239.0 649.9L1239.5 638.2L1240.0 649.4L1240.5 639.1L1241.0 640.5L1241.5 739.5L1242.0 721.8L1242.5 727.9L1243.0 731.8L1243.5 725.4L1244.0 732.7L1244.5 731.1L1245.0 728.8L1245.5 724.3L1246.0 721.8L1246.5 731.1L1247.0 636.2L1247.5 660.9L1248.0 635.2L1248.5 656.8L1249.0 653.2L1249.5 649.1L1250.0 641.6L1250.5 659.8L1251.0 646.2L1251.5 643.3L1252.0 633.8L1252.5 658.4L1253.0 656.6L1253.5 647.2L1254.0 728.1L1254.5 729.4L1255.0 734.6L1255.5 733.5L1256.0 720.9L1256.5 737.9L1257.0 734.4L1257.5 735.6L1258.0 731.2L1258.5 742.9L1259.0 730.5L1259.5 663.3L1260.0 666.4L1260.5 656.4L1261.0 650.2L1261.5 642.2L1262.0 636.6L1262.5 658.5L1263.0 631.4L1263.5 623.4L1264.0 644.4L1264.5 650.7L1265.0 639.6L1265.5 648.4L1266.0 647.0L1266.5 638.1L1267.0 640.1L1267.5 639.3L1268.0 642.3L1268.5 641.8L1269.0 637.5L1269.5 639.4L1270.0 637.6L1270.5 642.3L1271.0 635.0L1271.5 654.0L1272.0 651.0L1272.5 640.5L1273.0 640.8L1273.5 654.5L1274.0 629.9L1274.5 644.2L1275.0 645.7L1275.5 645.0L1276.0 631.3L1276.5 649.4L1277.0 648.1L1277.5 652.2L1278.0 641.6L1278.5 639.9L1279.0 647.8L1279.5 634.7L1280.0 628.5L1280.5 653.7L1281.0 645.4L1281.5 642.0L1282.0 641.6L1282.5 653.5L1283.0 642.0L1283.5 654.6L1284.0 647.2L1284.5 623.4L1285.0 652.3L1285.5 647.4L1286.0 644.3L1286.5 638.4L1287.0 638.4L1287.5 645.7L1288.0 639.9L1288.5 628.5L1289.0 652.9L1289.5 641.3L1290.0 648.2L1290.5 651.5L1291.0 652.5L1291.5 648.4L1292.0 648.8L1292.5 649.7L1293.0 653.7L1293.5 648.8L1294.0 649.8L1294.5 644.3L1295.0 650.8L1295.5 650.3L1296.0 648.1L1296.5 649.9L1297.0 642.2L1297.5 655.9L1298.0 673.4L1298.5 646.5L1299.0 655.2L1299.5 652.6L1300.0 641.3L1300.5 646.9L1301.0 649.3L1301.5 652.2L1302.0 641.6L1302.5 630.0L1303.0 632.3L1303.5 626.2L1304.0 621.3L1304.5 620.0L1305.0 631.8L1305.5 637.6L1306.0 625.8L1306.5 634.6L1307.0 622.4L1307.5 632.2L1308.0 622.3L1308.5 629.2L1309.0 637.8L1309.5 624.8L1310.0 628.1L1310.5 623.9L1311.0 626.5L1311.5 627.2L1312.0 633.3L1312.5 619.2L1313.0 626.5L1313.5 636.6L1314.0 630.9L1314.5 638.3L1315.0 619.0L1315.5 626.3L1316.0 619.2L1316.5 635.9L1317.0 643.2L1317.5 632.4L1318.0 639.6L1318.5 637.4L1319.0 633.8L1319.5 633.5L1320.0 625.5L1320.5 631.0L1321.0 618.5L1321.5 630.0L1322.0 625.1L1322.5 640.9L1323.0 632.5L1323.5 641.9L1324.0 628.1L1324.5 636.5L1325.0 627.3L1325.5 625.9L1326.0 636.2L1326.5 662.4L1327.0 662.9L1327.5 661.8L1328.0 656.3L1328.5 731.7L1329.0 717.7L1329.5 732.5L1330.0 735.1L1330.5 739.7L1331.0 718.0L1331.5 727.7L1332.0 738.7L1332.5 729.3L1333.0 735.1L1333.5 735.8L1334.0 723.5L1334.5 783.3L1335.0 745.9L1335.5 734.7L1336.0 731.3L1336.5 730.0L1337.0 724.9L1337.5 726.5L1338.0 742.9L1338.5 734.4L1339.0 725.6L1339.5 756.1L1340.0 755.4L1340.5 635.7L1341.0 646.1L1341.5 634.6L1342.0 646.4L1342.5 712.3L1343.0 620.6L1343.5 720.7L1344.0 740.8L1344.5 735.6L1345.0 642.6L1345.5 649.2L1346.0 640.0L1346.5 624.8L1347.0 642.1L1347.5 636.0L1348.0 628.9L1348.5 644.9L1349.0 640.4L1349.5 633.5L1350.0 625.9L1350.5 647.6L1351.0 640.8L1351.5 638.2L1352.0 624.5L1352.5 625.5L1353.0 637.7L1353.5 645.6L1354.0 634.8L1354.5 632.3L1355.0 637.7L1355.5 635.4L1356.0 640.6L1356.5 636.3L1357.0 640.9L1357.5 634.3L1358.0 638.6L1358.5 640.4L1359.0 639.1L1359.5 674.0L1360.0 733.1L1360.5 751.3L1361.0 739.2L1361.5 731.2L1362.0 735.5L1362.5 747.3L1363.0 747.4L1363.5 740.1L1364.0 743.2L1364.5 742.8L1365.0 740.1L1365.5 732.9L1366.0 735.3L1366.5 749.5L1367.0 735.6L1367.5 735.6L1368.0 742.9L1368.5 733.9L1369.0 724.9L1369.5 733.2L1370.0 745.6L1370.5 741.1L1371.0 751.1L1371.5 745.5L1372.0 732.8L1372.5 793.0L1373.0 726.4L1373.5 732.5L1374.0 739.6L1374.5 732.6L1375.0 730.3L1375.5 734.8L1376.0 740.3L1376.5 748.3L1377.0 738.6L1377.5 737.6L1378.0 736.5L1378.5 731.7L1379.0 743.3L1379.5 742.3L1380.0 735.1L1380.5 747.0L1381.0 743.8L1381.5 726.4L1382.0 720.6L1382.5 723.6L1383.0 716.5L1383.5 716.2L1384.0 712.5L1384.5 712.2L1385.0 659.8L1385.5 656.0L1386.0 630.3L1386.5 663.1L1387.0 663.6L1387.5 657.7L1388.0 663.8L1388.5 741.6L1389.0 730.0L1389.5 729.5L1390.0 725.7L1390.5 744.6L1391.0 730.1L1391.5 734.3L1391.9 798.5L1392.4 731.5L1392.9 732.5L1393.4 731.0L1393.9 675.7L1394.4 680.5L1394.9 726.0L1395.4 719.1L1395.9 726.0L1396.4 724.6L1396.9 723.3L1397.4 652.2L1397.9 648.3L1398.4 655.3L1398.9 644.5L1399.4 647.3L1399.9 646.5L1400.4 649.4L1400.9 654.2L1401.4 640.5L1401.9 639.4L1402.4 629.6L1402.9 765.7L1403.4 787.2L1403.9 791.8L1404.4 788.6L1404.9 789.8L1405.4 729.0L1405.9 739.7L1406.4 732.1L1406.9 739.6L1407.4 729.9L1407.9 736.3L1408.4 739.4L1408.9 642.2L1409.4 634.1L1409.9 643.8L1410.4 635.2L1410.9 640.4L1411.4 649.9L1411.9 642.3L1412.4 641.7L1412.9 655.6L1413.4 645.5L1413.9 637.8L1414.4 646.7L1414.9 649.3L1415.4 651.0L1415.9 635.9L1416.4 651.4L1416.9 695.2L1417.4 657.1L1417.9 662.8L1418.4 659.8L1418.9 659.4L1419.4 666.7L1419.9 668.1L1420.4 717.7L1420.9 714.1L1421.4 751.3L1421.9 717.4L1422.4 720.7L1422.9 730.4L1423.4 729.8L1423.9 735.7L1424.4 729.1L1424.9 699.0L1425.4 699.5L1425.9 700.1L1426.4 725.1L1426.9 729.3L1427.4 737.9L1427.9 726.4L1428.4 737.9L1428.9 723.9L1429.4 635.3L1429.9 645.7L1430.4 647.3L1430.9 648.5L1431.4 649.1L1431.9 648.5L1432.4 648.5L1432.9 647.3L1433.4 654.5L1433.9 644.8L1434.4 643.3L1434.9 661.6L1435.4 652.6L1435.9 636.6L1436.4 653.2L1436.9 647.9L1437.4 647.5L1437.9 648.3L1438.4 639.1L1438.9 642.7L1439.4 643.8L1439.9 651.9L1440.4 653.8L1440.9 640.2L1441.4 660.3L1441.9 650.8L1442.4 665.4L1442.9 662.4L1443.4 731.7L1443.9 737.5L1444.4 740.0L1444.9 734.1L1445.4 791.8L1445.9 800.6L1446.4 794.2L1446.9 794.9L1447.4 791.6L1447.9 779.4L1448.4 792.1L1448.9 789.9L1449.4 786.8L1449.9 790.5L1450.4 794.7L1450.9 791.3L1451.4 790.5L1451.9 799.1L1452.4 785.8L1452.9 788.8L1453.4 809.7L1453.9 797.6L1454.4 796.6L1454.9 802.4L1455.4 799.9L1455.9 784.1L1456.4 795.0L1456.9 802.4L1457.4 788.2L1457.9 690.1L1458.4 783.9L1458.9 786.1L1459.4 795.8L1459.9 791.0L1460.4 786.0L1460.9 798.1L1461.4 788.1L1461.9 793.8L1462.4 789.5L1462.9 802.7L1463.4 791.1L1463.9 788.8L1464.4 797.8L1464.9 785.6L1465.4 791.0L1465.9 790.5L1466.4 797.6L1466.9 787.6L1467.4 793.6L1467.9 796.8L1468.4 792.8L1468.9 789.6L1469.4 788.2L1469.9 793.3L1470.4 789.1L1470.9 792.3L1471.4 792.0L1471.9 792.2L1472.4 787.5L1472.9 798.9L1473.4 794.2L1473.9 791.2L1474.4 796.1L1474.9 786.8L1475.4 788.9L1475.9 795.3L1476.4 787.0L1476.9 785.3L1477.4 784.8L1477.9 782.0L1478.4 788.1L1478.9 802.7L1479.4 794.1L1479.9 780.8L1480.4 793.9L1480.9 784.6L1481.4 791.8L1481.9 799.4L1482.4 784.3L1482.9 799.3L1483.4 788.2L1483.9 788.3L1484.4 785.7L1484.9 791.9L1485.4 802.0L1485.9 782.6L1486.4 773.9L1486.9 780.9L1487.4 786.6L1487.9 777.2L1488.4 779.6L1488.9 756.8L1489.4 750.7L1489.9 751.5L1490.4 744.7L1490.9 736.8L1491.4 734.0L1491.9 629.2L1492.4 638.2L1492.9 649.3L1493.4 656.1L1493.9 643.1L1494.4 631.5L1494.8 633.6L1495.3 635.9L1495.8 627.4L1496.3 655.3L1496.8 637.1L1497.3 636.7L1497.8 648.6L1498.3 644.1L1498.8 620.6L1499.3 656.3L1499.8 643.8L1500.3 633.7L1500.8 630.6L1501.3 644.5L1501.8 620.9L1502.3 665.6L1502.8 669.9L1503.3 685.7L1503.8 694.5L1504.3 703.8L1504.8 728.7L1505.3 735.1L1505.8 724.2L1506.3 722.6L1506.8 731.3L1507.3 735.5L1507.8 725.5L1508.3 725.9L1508.8 735.2L1509.3 721.2L1509.8 727.9L1510.3 651.2L1510.8 648.7L1511.3 645.4L1511.8 637.2L1512.3 648.7L1512.8 647.1L1513.3 654.8L1513.8 633.1L1514.3 650.4L1514.8 645.5L1515.3 669.3L1515.8 661.8L1516.3 669.4L1516.8 664.8L1517.3 741.0L1517.8 744.3L1518.3 728.0L1518.8 642.1L1519.3 662.4L1519.8 662.1L1520.3 670.2L1520.8 740.2L1521.3 671.3L1521.8 675.3L1522.3 662.8L1522.8 673.2L1523.3 724.3L1523.8 634.5L1524.3 724.5L1524.8 731.8L1525.3 722.4L1525.8 734.6L1526.3 724.6L1526.8 727.1L1527.3 727.8L1527.8 727.3L1528.3 728.7L1528.8 736.5L1529.3 723.0L1529.8 724.4L1530.3 718.6L1530.8 720.5L1531.3 739.5L1531.8 730.4L1532.3 713.0L1532.8 725.4L1533.3 730.3L1533.8 718.7L1534.3 720.8L1534.8 623.2L1535.3 655.8L1535.8 640.2L1536.3 748.5L1536.8 635.4L1537.3 646.4L1537.8 617.1L1538.3 642.4L1538.8 643.7L1539.3 646.6L1539.8 631.8L1540.3 661.3L1540.8 633.9L1541.3 632.8L1541.8 637.5L1542.3 647.3L1542.8 640.2L1543.3 711.3L1543.8 711.0L1544.3 721.9L1544.8 716.7L1545.3 729.6L1545.8 728.3L1546.3 718.6L1546.8 737.6L1547.3 734.8L1547.8 729.4L1548.3 733.0L1548.8 743.1L1549.3 730.2L1549.8 730.4L1550.3 719.9L1550.8 725.2L1551.3 725.7L1551.8 736.6L1552.3 739.1L1552.8 718.8L1553.3 734.2L1553.8 724.6L1554.3 734.6L1554.8 734.3L1555.3 732.0L1555.8 638.1L1556.3 641.3L1556.8 632.8L1557.3 631.0L1557.8 637.5L1558.3 629.7L1558.8 634.8L1559.3 641.1L1559.8 643.7L1560.3 631.3L1560.8 634.6L1561.3 734.8L1561.8 732.8L1562.3 733.7L1562.8 731.7L1563.3 721.2L1563.8 732.4L1564.3 734.2L1564.8 743.6L1565.3 730.3L1565.8 735.6L1566.3 709.6L1566.8 633.8L1567.3 723.9L1567.8 653.4L1568.3 639.5L1568.8 635.2L1569.3 624.8L1569.8 637.6L1570.3 642.2L1570.8 722.0L1571.3 714.3L1571.8 705.4L1572.3 705.9L1572.8 636.9L1573.3 652.4L1573.8 649.6L1574.3 714.9L1574.8 710.9L1575.3 735.5L1575.8 752.0L1576.3 717.3L1576.8 724.7L1577.3 713.8L1577.8 740.2L1578.3 743.8L1578.8 733.6L1579.3 739.7L1579.8 737.6L1580.3 727.7L1580.8 740.7L1581.3 734.5L1581.8 732.1L1582.3 733.5L1582.8 698.0L1583.3 624.8L1583.8 728.7L1584.3 740.8L1584.8 740.6L1585.3 750.8L1585.8 743.5L1586.3 736.0L1586.8 750.7L1587.3 738.8L1587.8 739.0L1588.3 743.4L1588.8 739.5L1589.3 751.3L1589.8 736.3L1590.0 740.9L1590.5 742.3L1591.0 643.5L1591.5 744.9L1592.0 745.7L1592.5 751.1L1593.0 744.4L1593.5 748.3L1594.0 751.3L1594.5 748.4L1595.0 742.3L1595.5 743.9L1596.0 681.7L1596.5 680.5L1597.0 687.5L1597.5 679.1L1598.0 685.5L1598.5 644.9L1599.0 678.5L1599.5 688.1L1600.0 741.1L1600.5 733.3L1601.0 732.2L1601.5 733.1L1602.0 737.3L1602.5 737.6L1603.0 734.2L1603.5 731.5L1604.0 721.1L1604.5 722.5L1605.0 698.0L1605.5 691.7L1606.0 684.6L1606.5 662.4L1607.0 661.2L1607.5 638.8L1608.0 617.1L1608.5 640.2L1609.0 632.9L1609.5 633.1L1610.0 637.5L1610.5 636.4L1611.0 646.7L1611.5 625.1L1612.0 636.4L1612.4 641.1L1612.9 639.3L1613.4 635.8L1613.9 631.6L1614.4 627.5L1614.9 640.2L1615.4 630.7L1615.9 634.5L1616.4 637.5L1616.9 638.5L1617.4 635.7L1617.9 625.1L1618.4 634.4L1618.9 635.2L1619.4 630.5L1619.9 625.1L1620.4 632.5L1620.9 644.3L1621.4 637.0L1621.9 638.6L1622.4 638.9L1622.9 631.2L1623.4 685.9" fill="none" stroke="#231f20" stroke-width="1.85" stroke-linejoin="round"/>
<polyline points="307.5,911.3 787.6,911.3 787.6,905.7 1208.3,905.7 1208.3,898.8 1631.5,898.8" fill="none" stroke="#be1e2d" stroke-width="5.6" stroke-linejoin="round"/>
<text transform="translate(521.4 903.3) scale(1 1.030)" font-size="41.8" font-weight="bold" fill="#000" text-anchor="start">8 pN</text>
<text transform="translate(961.3 885.8) scale(1 1.030)" font-size="41.8" font-weight="bold" fill="#000" text-anchor="start">9 pN</text>
<text transform="translate(1382.2 877.8) scale(1 1.030)" font-size="41.8" font-weight="bold" fill="#000" text-anchor="start">10 pN</text>
<text x="1780.7" y="649.0" font-size="49.5" font-weight="bold" fill="#f8d85a">L<tspan font-size="29" dy="17">3</tspan></text>
<text x="1781.9" y="740.8" font-size="49.5" font-weight="bold" fill="#fbb416">L<tspan font-size="29" dy="17">2</tspan></text>
<text x="1781.9" y="810.4" font-size="49.5" font-weight="bold" fill="#c08a14">L<tspan font-size="29" dy="17">1</tspan></text>
</g>
<g id="panelC">
<text transform="translate(0.0 1085.0) scale(1 1.040)" font-size="67.0" font-weight="bold" fill="#000" text-anchor="start">C</text>
<rect x="544.3" y="1868.6" width="40.4" height="40.4" fill="#fedc6c"/>
<rect x="541.6" y="1108.0" width="1048.5" height="803.8" fill="none" stroke="#231f20" stroke-width="5.9"/>
<path d="M564.5 1108.0V1086.8M564.5 1911.8V1933.0M746.7 1108.0V1086.8M746.7 1911.8V1933.0M928.9 1108.0V1086.8M928.9 1911.8V1933.0M1111.1 1108.0V1086.8M1111.1 1911.8V1933.0M1293.3 1108.0V1086.8M1293.3 1911.8V1933.0M1475.5 1108.0V1086.8M1475.5 1911.8V1933.0M541.6 1888.8H520.1M1590.1 1888.8H1611.6M541.6 1737.3H520.1M1590.1 1737.3H1611.6M541.6 1585.8H520.1M1590.1 1585.8H1611.6M541.6 1434.2H520.1M1590.1 1434.2H1611.6M541.6 1282.7H520.1M1590.1 1282.7H1611.6M541.6 1131.2H520.1M1590.1 1131.2H1611.6" fill="none" stroke="#231f20" stroke-width="5.9"/>
<rect x="1549.5" y="1871.7" width="34.2" height="34.2" fill="#d6b814"/>
<circle cx="1566.6" cy="1888.2" r="19.4" fill="#808486"/>
<circle cx="564.5" cy="1131.0" r="20.1" fill="#bf8000"/>
<circle cx="746.7" cy="1335.8" r="16.8" fill="#bf8000"/>
<circle cx="837.8" cy="1263.0" r="16.8" fill="#bf8000"/>
<circle cx="928.9" cy="1613.2" r="16.8" fill="#bf8000"/>
<circle cx="1021.4" cy="1687.3" r="17.1" fill="#bf8000" stroke="#f8cf98" stroke-width="1.3"/>
<circle cx="1111.1" cy="1803.9" r="17.1" fill="#bf8000" stroke="#f8cf98" stroke-width="1.3"/>
<circle cx="1202.2" cy="1836.1" r="17.1" fill="#bf8000" stroke="#f8cf98" stroke-width="1.3"/>
<rect x="729.7" y="1669.5" width="34.0" height="34.0" fill="#fdb000"/>
<rect x="820.8" y="1747.6" width="34.0" height="34.0" fill="#fdb000"/>
<rect x="911.9" y="1436.2" width="34.0" height="34.0" fill="#fdb000"/>
<rect x="1094.1" y="1611.2" width="34.0" height="34.0" fill="#fdb000"/>
<rect x="1185.2" y="1803.2" width="34.0" height="34.0" fill="#fdb000"/>
<rect x="1000.5" y="1584.6" width="40" height="34.5" fill="#fdb000"/>
<path d="M537.0 1888.8L564.5 1861.3L592.0 1888.8L564.5 1916.3Z" fill="#ffde0a"/>
<path d="M719.2 1886.5L746.7 1859.0L774.2 1886.5L746.7 1914.0Z" fill="#fdd752"/>
<path d="M810.3 1814.6L837.8 1787.1L865.3 1814.6L837.8 1842.1Z" fill="#fdd752"/>
<path d="M901.4 1842.7L928.9 1815.2L956.4 1842.7L928.9 1870.2Z" fill="#fdd752"/>
<path d="M1083.6 1478.5L1111.1 1451.0L1138.6 1478.5L1111.1 1506.0Z" fill="#fdd752"/>
<path d="M1174.7 1253.0L1202.2 1225.5L1229.7 1253.0L1202.2 1280.5Z" fill="#fdd752"/>
<path d="M1539.1 1131.2L1566.6 1103.7L1594.1 1131.2L1566.6 1158.7Z" fill="#fdd752"/>
<path d="M998.4 1617.0L1020.3 1595.1L1042.2 1617.0L1020.3 1638.9Z" fill="#fdd752"/>
<path d="M564.5 1153.2C568.9 1154.4 581.4 1157.2 590.9 1160.1C600.5 1163.1 611.5 1166.9 621.8 1170.9C632.1 1174.9 642.4 1179.2 652.7 1184.1C663.0 1189.0 673.3 1194.2 683.6 1200.3C693.9 1206.3 704.2 1212.9 714.5 1220.4C724.9 1227.9 735.1 1235.4 745.4 1245.2C755.7 1255.0 766.0 1266.4 776.3 1279.3C786.6 1292.2 796.3 1306.0 807.2 1322.5C818.1 1339.0 830.9 1359.4 841.8 1378.1C852.7 1396.9 862.9 1416.6 872.7 1435.0C882.5 1453.4 891.4 1471.5 900.5 1488.8C909.6 1506.1 917.7 1520.4 927.4 1538.9C937.2 1557.3 951.6 1585.3 958.9 1599.4C966.1 1613.5 963.7 1610.8 970.9 1623.3C978.0 1635.7 992.9 1660.5 1001.8 1674.2C1010.7 1687.8 1016.5 1694.8 1024.2 1705.1C1031.9 1715.4 1040.2 1726.2 1048.1 1736.0C1055.9 1745.8 1064.6 1756.3 1071.3 1763.8C1078.0 1771.3 1078.6 1772.4 1088.3 1780.8C1098.0 1789.2 1118.8 1806.0 1129.5 1814.2C1140.2 1822.3 1143.6 1824.6 1152.6 1829.7C1161.6 1834.9 1173.2 1840.7 1183.5 1845.1C1193.8 1849.5 1204.2 1852.7 1214.5 1855.9C1224.8 1859.1 1235.1 1862.0 1245.4 1864.4C1255.7 1866.9 1266.0 1868.8 1276.3 1870.6C1286.6 1872.4 1296.9 1873.9 1307.1 1875.3C1317.4 1876.7 1329.2 1878.2 1338.0 1879.1C1346.8 1880.0 1348.7 1880.1 1360.0 1881.0C1371.3 1881.9 1388.7 1883.4 1406.0 1884.3C1423.3 1885.2 1436.9 1885.8 1463.7 1886.4C1490.4 1886.9 1549.4 1887.3 1566.6 1887.5" fill="none" stroke="#bf8000" stroke-width="5.3"/>
<path d="M565.3 1877.5C571.5 1876.0 591.0 1871.5 602.3 1868.2C613.6 1864.8 622.9 1861.8 633.2 1857.4C643.5 1853.1 653.9 1847.9 664.2 1842.0C674.5 1836.1 684.8 1829.6 695.0 1821.9C705.3 1814.2 715.6 1805.7 725.9 1795.6C736.2 1785.6 746.7 1774.6 756.8 1761.6C766.9 1748.6 777.5 1730.6 786.3 1717.6C795.1 1704.6 801.8 1694.9 809.6 1683.6C817.3 1672.2 825.0 1660.7 832.7 1649.6C840.4 1638.6 848.1 1627.2 855.8 1617.2C863.6 1607.2 872.1 1597.5 879.0 1589.4C885.9 1581.3 889.0 1576.4 897.1 1568.3C905.2 1560.3 915.7 1547.8 927.4 1541.3C939.2 1534.7 954.0 1528.8 967.5 1529.0C981.0 1529.2 995.4 1534.9 1008.3 1542.6C1021.3 1550.3 1036.2 1566.1 1045.4 1575.2C1054.6 1584.2 1055.6 1585.5 1063.7 1597.1C1071.9 1608.7 1084.2 1629.2 1094.4 1644.9C1104.7 1660.5 1115.0 1676.4 1125.3 1691.2C1135.6 1706.1 1145.2 1719.5 1156.2 1733.9C1167.2 1748.2 1181.6 1766.1 1191.3 1777.2C1201.0 1788.3 1205.5 1792.1 1214.5 1800.3C1223.5 1808.5 1235.1 1819.1 1245.4 1826.6C1255.7 1834.1 1266.0 1839.7 1276.3 1845.1C1286.6 1850.5 1296.9 1855.2 1307.1 1859.0C1317.4 1862.9 1329.2 1866.0 1338.0 1868.3C1346.8 1870.6 1348.7 1871.1 1360.0 1872.9C1371.3 1874.7 1388.7 1877.3 1406.0 1879.0C1423.3 1880.6 1436.9 1881.7 1463.7 1882.6C1490.4 1883.4 1549.4 1883.8 1566.6 1884.0" fill="none" stroke="#fdb000" stroke-width="5.3"/>
<path d="M565.3 1884.4C574.1 1884.2 598.8 1884.1 617.8 1883.4C636.8 1882.8 661.5 1881.7 679.6 1880.6C697.6 1879.5 710.5 1878.2 725.9 1876.7C741.4 1875.2 756.8 1874.7 772.3 1871.8C787.8 1868.8 804.7 1863.8 818.7 1859.0C832.6 1854.3 842.8 1850.8 856.0 1843.3C869.2 1835.9 886.7 1822.5 897.7 1814.2C908.8 1805.8 914.9 1800.0 922.4 1793.1C930.0 1786.2 935.0 1782.4 943.1 1772.9C951.2 1763.4 961.1 1750.6 970.9 1736.0C980.7 1721.4 994.1 1698.2 1001.8 1685.1C1009.5 1671.9 1012.0 1666.7 1017.2 1657.2C1022.3 1647.7 1027.5 1637.8 1032.7 1627.9C1037.8 1618.0 1044.2 1605.7 1048.1 1597.9C1051.9 1590.1 1052.1 1589.9 1055.9 1581.2C1059.7 1572.5 1065.1 1559.7 1070.9 1545.6C1076.8 1531.5 1084.0 1513.2 1091.0 1496.4C1097.9 1479.6 1106.7 1458.7 1112.6 1444.8C1118.6 1431.0 1122.4 1422.4 1126.5 1413.0C1130.6 1403.7 1133.3 1397.7 1137.3 1388.8C1141.4 1379.8 1145.3 1370.7 1150.9 1359.2C1156.5 1347.7 1163.8 1332.7 1171.0 1319.8C1178.3 1307.0 1185.7 1294.9 1194.2 1281.9C1202.7 1268.9 1213.7 1252.2 1222.0 1241.7C1230.2 1231.3 1235.9 1227.0 1243.6 1219.1C1251.2 1211.1 1259.1 1201.9 1267.8 1194.1C1276.5 1186.3 1286.3 1178.4 1295.6 1172.3C1304.8 1166.2 1314.1 1161.5 1323.4 1157.5C1332.6 1153.5 1340.4 1151.1 1351.2 1148.2C1362.1 1145.2 1376.0 1142.2 1388.3 1139.9C1400.7 1137.6 1413.0 1135.7 1425.4 1134.3C1437.8 1132.9 1450.1 1132.2 1462.5 1131.5C1474.8 1130.8 1486.6 1130.4 1499.6 1130.0C1512.5 1129.6 1529.2 1129.4 1540.4 1129.3C1551.5 1129.3 1562.2 1129.6 1566.6 1129.7" fill="none" stroke="#fdd752" stroke-width="5.3"/>
<text transform="translate(505.0 1152.7) scale(1 1.040)" font-size="50.0" font-weight="normal" fill="#000" text-anchor="end">1.0</text>
<text transform="translate(505.0 1291.2) scale(1 1.040)" font-size="50.0" font-weight="normal" fill="#000" text-anchor="end">0.8</text>
<text transform="translate(505.0 1444.7) scale(1 1.040)" font-size="50.0" font-weight="normal" fill="#000" text-anchor="end">0.6</text>
<text transform="translate(505.0 1590.3) scale(1 1.040)" font-size="50.0" font-weight="normal" fill="#000" text-anchor="end">0.4</text>
<text transform="translate(505.0 1751.8) scale(1 1.040)" font-size="50.0" font-weight="normal" fill="#000" text-anchor="end">0.2</text>
<text transform="translate(505.0 1888.5) scale(1 1.040)" font-size="50.0" font-weight="normal" fill="#000" text-anchor="end">0.0</text>
<text transform="translate(550.5 1984.4) scale(1 1.040)" font-size="50.0" font-weight="normal" fill="#000" text-anchor="start">4</text>
<text transform="translate(732.7 1984.4) scale(1 1.040)" font-size="50.0" font-weight="normal" fill="#000" text-anchor="start">6</text>
<text transform="translate(914.9 1984.4) scale(1 1.040)" font-size="50.0" font-weight="normal" fill="#000" text-anchor="start">8</text>
<text transform="translate(1097.1 1984.4) scale(1 1.040)" font-size="50.0" font-weight="normal" fill="#000" text-anchor="start">10</text>
<text transform="translate(1279.3 1984.4) scale(1 1.040)" font-size="50.0" font-weight="normal" fill="#000" text-anchor="start">12</text>
<text transform="translate(1461.5 1984.4) scale(1 1.040)" font-size="50.0" font-weight="normal" fill="#000" text-anchor="start">14</text>
<text transform="translate(396.8 1701.3) rotate(-90)" font-size="75.2" font-weight="bold" fill="#000" text-anchor="start">Population</text>
<text transform="translate(888.8 2062.5)" font-size="74.6" font-weight="bold" fill="#000" text-anchor="start">Force (pN)</text>
<circle cx="1687.0" cy="1216.7" r="16.7" fill="#bf8000"/>
<rect x="1670.9" y="1309.8" width="34" height="34" fill="#fdb000"/>
<path d="M1664.1 1458.9L1691.9 1431.1L1719.7 1458.9L1691.9 1486.7Z" fill="#fdd752"/>
<text transform="translate(1763.8 1241.0) scale(1 1.035)" font-size="62" font-weight="bold" fill="#bf8000">L<tspan font-size="36.5" dy="20">1</tspan></text>
<text transform="translate(1763.8 1355.7) scale(1 1.035)" font-size="62" font-weight="bold" fill="#fdb000">L<tspan font-size="36.5" dy="20">2</tspan></text>
<text transform="translate(1763.8 1482.9) scale(1 1.035)" font-size="62" font-weight="bold" fill="#fdd752">L<tspan font-size="36.5" dy="20">3</tspan></text>
</g>
</svg>
</body></html>
